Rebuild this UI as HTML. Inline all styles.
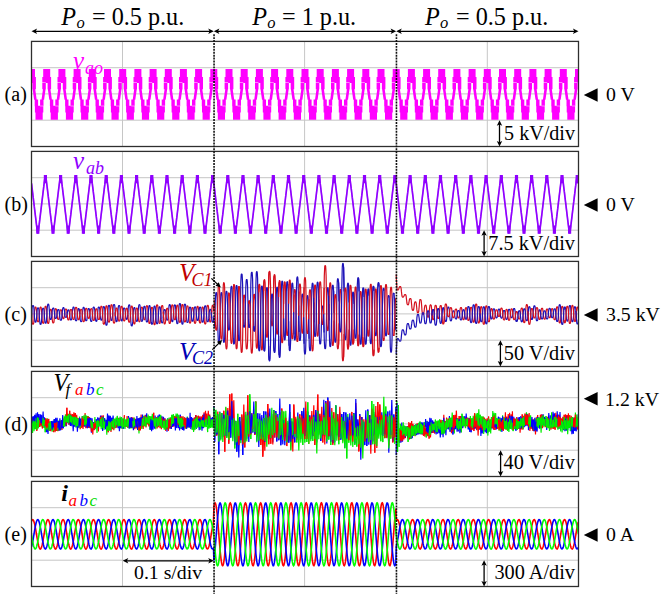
<!DOCTYPE html>
<html><head><meta charset="utf-8"><style>
html,body{margin:0;padding:0;background:#fff;}
body{width:667px;height:594px;overflow:hidden;}
svg{display:block;}
text{font-family:"Liberation Serif",serif;}
.it{font-style:italic;}
</style></head><body>
<svg width="667" height="594" viewBox="0 0 667 594">
<rect width="667" height="594" fill="#fff"/>
<defs><filter id="bl" x="-2%" y="-20%" width="104%" height="140%"><feGaussianBlur stdDeviation="0.35"/></filter><clipPath id="pc"><rect x="31.5" y="0" width="547" height="594"/></clipPath></defs>
<g clip-path="url(#pc)">
<path d="M31.5 67.7H578.5M31.5 93.9H578.5M31.5 120.2H578.5M122.5 41.4V146.5M304.6 41.4V146.5M487.3 41.4V146.5M31.5 177.7H578.5M31.5 203.9H578.5M31.5 230.2H578.5M122.5 151.4V256.5M304.6 151.4V256.5M487.3 151.4V256.5M31.5 287.7H578.5M31.5 313.9H578.5M31.5 340.2H578.5M122.5 261.4V366.5M304.6 261.4V366.5M487.3 261.4V366.5M31.5 397.7H578.5M31.5 423.9H578.5M31.5 450.2H578.5M122.5 371.4V476.5M304.6 371.4V476.5M487.3 371.4V476.5M31.5 507.7H578.5M31.5 533.9H578.5M31.5 560.2H578.5M122.5 481.4V586.5M304.6 481.4V586.5M487.3 481.4V586.5" stroke="#c6c6c6" stroke-width="1" fill="none"/>
<path d="M23.5 105.8H28.1V112.5H23.5ZM23.5 112H27.5V119.7H23.5ZM17.2 82.5L20.7 82.5L20.7 89.3L17.2 89.3ZM17.4 88.9L20 88.9L21.5 99.8L18.9 99.8ZM19.5 99.4L22.9 99.4L22.9 106.2L19.5 106.2ZM15.4 82.5L11.9 82.5L11.9 89.3L15.4 89.3ZM15.2 88.9L12.6 88.9L11.1 99.8L13.7 99.8ZM13.1 99.4L9.7 99.4L9.7 106.2L13.1 106.2ZM28 69H35V77.5H28ZM27.1 77H35.9V83H27.1ZM34.9 105.8H43.3V112.5H34.9ZM35.5 112H42.7V119.7H35.5ZM32.4 82.5L35.9 82.5L35.9 89.3L32.4 89.3ZM32.6 88.9L35.2 88.9L36.7 99.8L34.1 99.8ZM34.7 99.4L38.1 99.4L38.1 106.2L34.7 106.2ZM30.6 82.5L27.1 82.5L27.1 89.3L30.6 89.3ZM30.4 88.9L27.8 88.9L26.3 99.8L28.9 99.8ZM28.3 99.4L24.9 99.4L24.9 106.2L28.3 106.2ZM43.2 69H50.2V77.5H43.2ZM42.3 77H51.1V83H42.3ZM50.1 105.8H58.5V112.5H50.1ZM50.7 112H57.9V119.7H50.7ZM47.6 82.5L51.1 82.5L51.1 89.3L47.6 89.3ZM47.8 88.9L50.4 88.9L51.9 99.8L49.3 99.8ZM49.9 99.4L53.3 99.4L53.3 106.2L49.9 106.2ZM45.8 82.5L42.3 82.5L42.3 89.3L45.8 89.3ZM45.6 88.9L43 88.9L41.5 99.8L44.1 99.8ZM43.5 99.4L40.1 99.4L40.1 106.2L43.5 106.2ZM58.4 69H65.4V77.5H58.4ZM57.5 77H66.3V83H57.5ZM65.3 105.8H73.7V112.5H65.3ZM65.9 112H73.1V119.7H65.9ZM62.8 82.5L66.3 82.5L66.3 89.3L62.8 89.3ZM63 88.9L65.6 88.9L67.1 99.8L64.5 99.8ZM65.1 99.4L68.5 99.4L68.5 106.2L65.1 106.2ZM61 82.5L57.5 82.5L57.5 89.3L61 89.3ZM60.8 88.9L58.2 88.9L56.7 99.8L59.3 99.8ZM58.7 99.4L55.3 99.4L55.3 106.2L58.7 106.2ZM73.6 69H80.6V77.5H73.6ZM72.7 77H81.5V83H72.7ZM80.5 105.8H88.9V112.5H80.5ZM81.1 112H88.3V119.7H81.1ZM78 82.5L81.5 82.5L81.5 89.3L78 89.3ZM78.2 88.9L80.8 88.9L82.3 99.8L79.7 99.8ZM80.3 99.4L83.7 99.4L83.7 106.2L80.3 106.2ZM76.2 82.5L72.7 82.5L72.7 89.3L76.2 89.3ZM76 88.9L73.4 88.9L71.9 99.8L74.5 99.8ZM73.9 99.4L70.5 99.4L70.5 106.2L73.9 106.2ZM88.8 69H95.8V77.5H88.8ZM87.9 77H96.7V83H87.9ZM95.7 105.8H104.1V112.5H95.7ZM96.3 112H103.5V119.7H96.3ZM93.2 82.5L96.7 82.5L96.7 89.3L93.2 89.3ZM93.4 88.9L96 88.9L97.5 99.8L94.9 99.8ZM95.5 99.4L98.9 99.4L98.9 106.2L95.5 106.2ZM91.4 82.5L87.9 82.5L87.9 89.3L91.4 89.3ZM91.2 88.9L88.6 88.9L87.1 99.8L89.7 99.8ZM89.1 99.4L85.7 99.4L85.7 106.2L89.1 106.2ZM104 69H111V77.5H104ZM103.1 77H111.9V83H103.1ZM110.9 105.8H119.3V112.5H110.9ZM111.5 112H118.7V119.7H111.5ZM108.4 82.5L111.9 82.5L111.9 89.3L108.4 89.3ZM108.6 88.9L111.2 88.9L112.7 99.8L110.1 99.8ZM110.7 99.4L114.1 99.4L114.1 106.2L110.7 106.2ZM106.6 82.5L103.1 82.5L103.1 89.3L106.6 89.3ZM106.4 88.9L103.8 88.9L102.3 99.8L104.9 99.8ZM104.3 99.4L100.9 99.4L100.9 106.2L104.3 106.2ZM119.2 69H126.2V77.5H119.2ZM118.3 77H127.1V83H118.3ZM126.1 105.8H134.5V112.5H126.1ZM126.7 112H133.9V119.7H126.7ZM123.6 82.5L127.1 82.5L127.1 89.3L123.6 89.3ZM123.8 88.9L126.4 88.9L127.9 99.8L125.3 99.8ZM125.9 99.4L129.3 99.4L129.3 106.2L125.9 106.2ZM121.8 82.5L118.3 82.5L118.3 89.3L121.8 89.3ZM121.6 88.9L119 88.9L117.5 99.8L120.1 99.8ZM119.5 99.4L116.1 99.4L116.1 106.2L119.5 106.2ZM134.4 69H141.4V77.5H134.4ZM133.5 77H142.3V83H133.5ZM141.3 105.8H149.7V112.5H141.3ZM141.9 112H149.1V119.7H141.9ZM138.8 82.5L142.3 82.5L142.3 89.3L138.8 89.3ZM139 88.9L141.6 88.9L143.1 99.8L140.5 99.8ZM141.1 99.4L144.5 99.4L144.5 106.2L141.1 106.2ZM137 82.5L133.5 82.5L133.5 89.3L137 89.3ZM136.8 88.9L134.2 88.9L132.7 99.8L135.3 99.8ZM134.7 99.4L131.3 99.4L131.3 106.2L134.7 106.2ZM149.6 69H156.6V77.5H149.6ZM148.7 77H157.5V83H148.7ZM156.5 105.8H164.9V112.5H156.5ZM157.1 112H164.3V119.7H157.1ZM154 82.5L157.5 82.5L157.5 89.3L154 89.3ZM154.2 88.9L156.8 88.9L158.3 99.8L155.7 99.8ZM156.3 99.4L159.7 99.4L159.7 106.2L156.3 106.2ZM152.2 82.5L148.7 82.5L148.7 89.3L152.2 89.3ZM152 88.9L149.4 88.9L147.9 99.8L150.5 99.8ZM149.9 99.4L146.5 99.4L146.5 106.2L149.9 106.2ZM164.8 69H171.8V77.5H164.8ZM163.8 77H172.7V83H163.8ZM171.6 105.8H180V112.5H171.6ZM172.2 112H179.4V119.7H172.2ZM169.2 82.5L172.7 82.5L172.7 89.3L169.2 89.3ZM169.3 88.9L171.9 88.9L173.4 99.8L170.8 99.8ZM171.4 99.4L174.8 99.4L174.8 106.2L171.4 106.2ZM167.3 82.5L163.8 82.5L163.8 89.3L167.3 89.3ZM167.2 88.9L164.6 88.9L163.1 99.8L165.7 99.8ZM165.1 99.4L161.7 99.4L161.7 106.2L165.1 106.2ZM179.9 69H186.9V77.5H179.9ZM179 77H187.8V83H179ZM186.8 105.8H195.2V112.5H186.8ZM187.4 112H194.6V119.7H187.4ZM184.3 82.5L187.8 82.5L187.8 89.3L184.3 89.3ZM184.5 88.9L187.1 88.9L188.6 99.8L186 99.8ZM186.6 99.4L190 99.4L190 106.2L186.6 106.2ZM182.5 82.5L179 82.5L179 89.3L182.5 89.3ZM182.3 88.9L179.7 88.9L178.2 99.8L180.8 99.8ZM180.2 99.4L176.8 99.4L176.8 106.2L180.2 106.2ZM195.1 69H202.1V77.5H195.1ZM194.2 77H203V83H194.2ZM202 105.8H210.4V112.5H202ZM202.6 112H209.8V119.7H202.6ZM199.5 82.5L203 82.5L203 89.3L199.5 89.3ZM199.7 88.9L202.3 88.9L203.8 99.8L201.2 99.8ZM201.8 99.4L205.2 99.4L205.2 106.2L201.8 106.2ZM197.7 82.5L194.2 82.5L194.2 89.3L197.7 89.3ZM197.5 88.9L194.9 88.9L193.4 99.8L196 99.8ZM195.4 99.4L192 99.4L192 106.2L195.4 106.2ZM210.3 69H217.3V77.5H210.3ZM209.4 77H218.2V83H209.4ZM217.2 105.8H225.6V112.5H217.2ZM217.8 112H225V119.7H217.8ZM214.7 82.5L218.2 82.5L218.2 89.3L214.7 89.3ZM214.9 88.9L217.5 88.9L219 99.8L216.4 99.8ZM217 99.4L220.4 99.4L220.4 106.2L217 106.2ZM212.9 82.5L209.4 82.5L209.4 89.3L212.9 89.3ZM212.7 88.9L210.1 88.9L208.6 99.8L211.2 99.8ZM210.6 99.4L207.2 99.4L207.2 106.2L210.6 106.2ZM225.5 69H232.5V77.5H225.5ZM224.6 77H233.4V83H224.6ZM232.4 105.8H240.8V112.5H232.4ZM233 112H240.2V119.7H233ZM229.9 82.5L233.4 82.5L233.4 89.3L229.9 89.3ZM230.1 88.9L232.7 88.9L234.2 99.8L231.6 99.8ZM232.2 99.4L235.6 99.4L235.6 106.2L232.2 106.2ZM228.1 82.5L224.6 82.5L224.6 89.3L228.1 89.3ZM227.9 88.9L225.3 88.9L223.8 99.8L226.4 99.8ZM225.8 99.4L222.4 99.4L222.4 106.2L225.8 106.2ZM240.7 69H247.7V77.5H240.7ZM239.8 77H248.6V83H239.8ZM247.6 105.8H256V112.5H247.6ZM248.2 112H255.4V119.7H248.2ZM245.1 82.5L248.6 82.5L248.6 89.3L245.1 89.3ZM245.3 88.9L247.9 88.9L249.4 99.8L246.8 99.8ZM247.4 99.4L250.8 99.4L250.8 106.2L247.4 106.2ZM243.3 82.5L239.8 82.5L239.8 89.3L243.3 89.3ZM243.1 88.9L240.5 88.9L239 99.8L241.6 99.8ZM241 99.4L237.6 99.4L237.6 106.2L241 106.2ZM255.9 69H262.9V77.5H255.9ZM255 77H263.8V83H255ZM262.8 105.8H271.2V112.5H262.8ZM263.4 112H270.6V119.7H263.4ZM260.3 82.5L263.8 82.5L263.8 89.3L260.3 89.3ZM260.5 88.9L263.1 88.9L264.6 99.8L262 99.8ZM262.6 99.4L266 99.4L266 106.2L262.6 106.2ZM258.5 82.5L255 82.5L255 89.3L258.5 89.3ZM258.3 88.9L255.7 88.9L254.2 99.8L256.8 99.8ZM256.2 99.4L252.8 99.4L252.8 106.2L256.2 106.2ZM271.1 69H278.1V77.5H271.1ZM270.2 77H279V83H270.2ZM278 105.8H286.4V112.5H278ZM278.6 112H285.8V119.7H278.6ZM275.5 82.5L279 82.5L279 89.3L275.5 89.3ZM275.7 88.9L278.3 88.9L279.8 99.8L277.2 99.8ZM277.8 99.4L281.2 99.4L281.2 106.2L277.8 106.2ZM273.7 82.5L270.2 82.5L270.2 89.3L273.7 89.3ZM273.5 88.9L270.9 88.9L269.4 99.8L272 99.8ZM271.4 99.4L268 99.4L268 106.2L271.4 106.2ZM286.3 69H293.3V77.5H286.3ZM285.4 77H294.2V83H285.4ZM293.2 105.8H301.6V112.5H293.2ZM293.8 112H301V119.7H293.8ZM290.7 82.5L294.2 82.5L294.2 89.3L290.7 89.3ZM290.9 88.9L293.5 88.9L295 99.8L292.4 99.8ZM293 99.4L296.4 99.4L296.4 106.2L293 106.2ZM288.9 82.5L285.4 82.5L285.4 89.3L288.9 89.3ZM288.7 88.9L286.1 88.9L284.6 99.8L287.2 99.8ZM286.6 99.4L283.2 99.4L283.2 106.2L286.6 106.2ZM301.5 69H308.5V77.5H301.5ZM300.6 77H309.4V83H300.6ZM308.4 105.8H316.8V112.5H308.4ZM309 112H316.2V119.7H309ZM305.9 82.5L309.4 82.5L309.4 89.3L305.9 89.3ZM306.1 88.9L308.7 88.9L310.2 99.8L307.6 99.8ZM308.2 99.4L311.6 99.4L311.6 106.2L308.2 106.2ZM304.1 82.5L300.6 82.5L300.6 89.3L304.1 89.3ZM303.9 88.9L301.3 88.9L299.8 99.8L302.4 99.8ZM301.8 99.4L298.4 99.4L298.4 106.2L301.8 106.2ZM316.7 69H323.7V77.5H316.7ZM315.8 77H324.6V83H315.8ZM323.6 105.8H332V112.5H323.6ZM324.2 112H331.4V119.7H324.2ZM321.1 82.5L324.6 82.5L324.6 89.3L321.1 89.3ZM321.3 88.9L323.9 88.9L325.4 99.8L322.8 99.8ZM323.4 99.4L326.8 99.4L326.8 106.2L323.4 106.2ZM319.3 82.5L315.8 82.5L315.8 89.3L319.3 89.3ZM319.1 88.9L316.5 88.9L315 99.8L317.6 99.8ZM317 99.4L313.6 99.4L313.6 106.2L317 106.2ZM331.9 69H338.9V77.5H331.9ZM331 77H339.8V83H331ZM338.8 105.8H347.2V112.5H338.8ZM339.4 112H346.6V119.7H339.4ZM336.3 82.5L339.8 82.5L339.8 89.3L336.3 89.3ZM336.5 88.9L339.1 88.9L340.6 99.8L338 99.8ZM338.6 99.4L342 99.4L342 106.2L338.6 106.2ZM334.5 82.5L331 82.5L331 89.3L334.5 89.3ZM334.3 88.9L331.7 88.9L330.2 99.8L332.8 99.8ZM332.2 99.4L328.8 99.4L328.8 106.2L332.2 106.2ZM347.1 69H354.1V77.5H347.1ZM346.2 77H355V83H346.2ZM354 105.8H362.4V112.5H354ZM354.6 112H361.8V119.7H354.6ZM351.5 82.5L355 82.5L355 89.3L351.5 89.3ZM351.7 88.9L354.3 88.9L355.8 99.8L353.2 99.8ZM353.8 99.4L357.2 99.4L357.2 106.2L353.8 106.2ZM349.7 82.5L346.2 82.5L346.2 89.3L349.7 89.3ZM349.5 88.9L346.9 88.9L345.4 99.8L348 99.8ZM347.4 99.4L344 99.4L344 106.2L347.4 106.2ZM362.3 69H369.3V77.5H362.3ZM361.4 77H370.2V83H361.4ZM369.2 105.8H377.6V112.5H369.2ZM369.8 112H377V119.7H369.8ZM366.7 82.5L370.2 82.5L370.2 89.3L366.7 89.3ZM366.9 88.9L369.5 88.9L371 99.8L368.4 99.8ZM369 99.4L372.4 99.4L372.4 106.2L369 106.2ZM364.9 82.5L361.4 82.5L361.4 89.3L364.9 89.3ZM364.7 88.9L362.1 88.9L360.6 99.8L363.2 99.8ZM362.6 99.4L359.2 99.4L359.2 106.2L362.6 106.2ZM377.5 69H384.5V77.5H377.5ZM376.6 77H385.4V83H376.6ZM384.4 105.8H392.8V112.5H384.4ZM385 112H392.2V119.7H385ZM381.9 82.5L385.4 82.5L385.4 89.3L381.9 89.3ZM382.1 88.9L384.7 88.9L386.2 99.8L383.6 99.8ZM384.2 99.4L387.6 99.4L387.6 106.2L384.2 106.2ZM380.1 82.5L376.6 82.5L376.6 89.3L380.1 89.3ZM379.9 88.9L377.3 88.9L375.8 99.8L378.4 99.8ZM377.8 99.4L374.4 99.4L374.4 106.2L377.8 106.2ZM392.7 69H399.7V77.5H392.7ZM391.8 77H400.6V83H391.8ZM399.6 105.8H408V112.5H399.6ZM400.2 112H407.4V119.7H400.2ZM397.1 82.5L400.6 82.5L400.6 89.3L397.1 89.3ZM397.3 88.9L399.9 88.9L401.4 99.8L398.8 99.8ZM399.4 99.4L402.8 99.4L402.8 106.2L399.4 106.2ZM395.3 82.5L391.8 82.5L391.8 89.3L395.3 89.3ZM395.1 88.9L392.5 88.9L391 99.8L393.6 99.8ZM393 99.4L389.6 99.4L389.6 106.2L393 106.2ZM407.9 69H414.9V77.5H407.9ZM407 77H415.8V83H407ZM414.8 105.8H423.2V112.5H414.8ZM415.4 112H422.6V119.7H415.4ZM412.3 82.5L415.8 82.5L415.8 89.3L412.3 89.3ZM412.5 88.9L415.1 88.9L416.6 99.8L414 99.8ZM414.6 99.4L418 99.4L418 106.2L414.6 106.2ZM410.5 82.5L407 82.5L407 89.3L410.5 89.3ZM410.3 88.9L407.7 88.9L406.2 99.8L408.8 99.8ZM408.2 99.4L404.8 99.4L404.8 106.2L408.2 106.2ZM423.1 69H430.1V77.5H423.1ZM422.2 77H431V83H422.2ZM430 105.8H438.4V112.5H430ZM430.6 112H437.8V119.7H430.6ZM427.5 82.5L431 82.5L431 89.3L427.5 89.3ZM427.7 88.9L430.3 88.9L431.8 99.8L429.2 99.8ZM429.8 99.4L433.2 99.4L433.2 106.2L429.8 106.2ZM425.7 82.5L422.2 82.5L422.2 89.3L425.7 89.3ZM425.5 88.9L422.9 88.9L421.4 99.8L424 99.8ZM423.4 99.4L420 99.4L420 106.2L423.4 106.2ZM438.2 69H445.2V77.5H438.2ZM437.4 77H446.1V83H437.4ZM445.1 105.8H453.5V112.5H445.1ZM445.7 112H452.9V119.7H445.7ZM442.6 82.5L446.1 82.5L446.1 89.3L442.6 89.3ZM442.9 88.9L445.4 88.9L446.9 99.8L444.4 99.8ZM444.9 99.4L448.4 99.4L448.4 106.2L444.9 106.2ZM440.9 82.5L437.4 82.5L437.4 89.3L440.9 89.3ZM440.6 88.9L438.1 88.9L436.6 99.8L439.1 99.8ZM438.6 99.4L435.1 99.4L435.1 106.2L438.6 106.2ZM453.4 69H460.4V77.5H453.4ZM452.5 77H461.3V83H452.5ZM460.3 105.8H468.7V112.5H460.3ZM460.9 112H468.1V119.7H460.9ZM457.8 82.5L461.3 82.5L461.3 89.3L457.8 89.3ZM458 88.9L460.6 88.9L462.1 99.8L459.5 99.8ZM460.1 99.4L463.5 99.4L463.5 106.2L460.1 106.2ZM456 82.5L452.5 82.5L452.5 89.3L456 89.3ZM455.8 88.9L453.2 88.9L451.7 99.8L454.3 99.8ZM453.7 99.4L450.3 99.4L450.3 106.2L453.7 106.2ZM468.6 69H475.6V77.5H468.6ZM467.7 77H476.5V83H467.7ZM475.5 105.8H483.9V112.5H475.5ZM476.1 112H483.3V119.7H476.1ZM473 82.5L476.5 82.5L476.5 89.3L473 89.3ZM473.2 88.9L475.8 88.9L477.3 99.8L474.7 99.8ZM475.3 99.4L478.7 99.4L478.7 106.2L475.3 106.2ZM471.2 82.5L467.7 82.5L467.7 89.3L471.2 89.3ZM471 88.9L468.4 88.9L466.9 99.8L469.5 99.8ZM468.9 99.4L465.5 99.4L465.5 106.2L468.9 106.2ZM483.8 69H490.8V77.5H483.8ZM482.9 77H491.7V83H482.9ZM490.7 105.8H499.1V112.5H490.7ZM491.3 112H498.5V119.7H491.3ZM488.2 82.5L491.7 82.5L491.7 89.3L488.2 89.3ZM488.4 88.9L491 88.9L492.5 99.8L489.9 99.8ZM490.5 99.4L493.9 99.4L493.9 106.2L490.5 106.2ZM486.4 82.5L482.9 82.5L482.9 89.3L486.4 89.3ZM486.2 88.9L483.6 88.9L482.1 99.8L484.7 99.8ZM484.1 99.4L480.7 99.4L480.7 106.2L484.1 106.2ZM499 69H506V77.5H499ZM498.1 77H506.9V83H498.1ZM505.9 105.8H514.3V112.5H505.9ZM506.5 112H513.7V119.7H506.5ZM503.4 82.5L506.9 82.5L506.9 89.3L503.4 89.3ZM503.6 88.9L506.2 88.9L507.7 99.8L505.1 99.8ZM505.7 99.4L509.1 99.4L509.1 106.2L505.7 106.2ZM501.6 82.5L498.1 82.5L498.1 89.3L501.6 89.3ZM501.4 88.9L498.8 88.9L497.3 99.8L499.9 99.8ZM499.3 99.4L495.9 99.4L495.9 106.2L499.3 106.2ZM514.2 69H521.2V77.5H514.2ZM513.3 77H522.1V83H513.3ZM521.1 105.8H529.5V112.5H521.1ZM521.7 112H528.9V119.7H521.7ZM518.6 82.5L522.1 82.5L522.1 89.3L518.6 89.3ZM518.8 88.9L521.4 88.9L522.9 99.8L520.3 99.8ZM520.9 99.4L524.3 99.4L524.3 106.2L520.9 106.2ZM516.8 82.5L513.3 82.5L513.3 89.3L516.8 89.3ZM516.6 88.9L514 88.9L512.5 99.8L515.1 99.8ZM514.5 99.4L511.1 99.4L511.1 106.2L514.5 106.2ZM529.4 69H536.4V77.5H529.4ZM528.5 77H537.3V83H528.5ZM536.3 105.8H544.7V112.5H536.3ZM536.9 112H544.1V119.7H536.9ZM533.8 82.5L537.3 82.5L537.3 89.3L533.8 89.3ZM534 88.9L536.6 88.9L538.1 99.8L535.5 99.8ZM536.1 99.4L539.5 99.4L539.5 106.2L536.1 106.2ZM532 82.5L528.5 82.5L528.5 89.3L532 89.3ZM531.8 88.9L529.2 88.9L527.7 99.8L530.3 99.8ZM529.7 99.4L526.3 99.4L526.3 106.2L529.7 106.2ZM544.6 69H551.6V77.5H544.6ZM543.7 77H552.5V83H543.7ZM551.5 105.8H559.9V112.5H551.5ZM552.1 112H559.3V119.7H552.1ZM549 82.5L552.5 82.5L552.5 89.3L549 89.3ZM549.2 88.9L551.8 88.9L553.3 99.8L550.7 99.8ZM551.3 99.4L554.7 99.4L554.7 106.2L551.3 106.2ZM547.2 82.5L543.7 82.5L543.7 89.3L547.2 89.3ZM547 88.9L544.4 88.9L542.9 99.8L545.5 99.8ZM544.9 99.4L541.5 99.4L541.5 106.2L544.9 106.2ZM559.8 69H566.8V77.5H559.8ZM558.9 77H567.7V83H558.9ZM566.7 105.8H575.1V112.5H566.7ZM567.3 112H574.5V119.7H567.3ZM564.2 82.5L567.7 82.5L567.7 89.3L564.2 89.3ZM564.4 88.9L567 88.9L568.5 99.8L565.9 99.8ZM566.5 99.4L569.9 99.4L569.9 106.2L566.5 106.2ZM562.4 82.5L558.9 82.5L558.9 89.3L562.4 89.3ZM562.2 88.9L559.6 88.9L558.1 99.8L560.7 99.8ZM560.1 99.4L556.7 99.4L556.7 106.2L560.1 106.2ZM575 69H582V77.5H575ZM574.1 77H582.9V83H574.1ZM581.9 105.8H586.5V112.5H581.9ZM582.5 112H586.5V119.7H582.5ZM579.4 82.5L582.9 82.5L582.9 89.3L579.4 89.3ZM579.6 88.9L582.2 88.9L583.7 99.8L581.1 99.8ZM581.7 99.4L585.1 99.4L585.1 106.2L581.7 106.2ZM577.6 82.5L574.1 82.5L574.1 89.3L577.6 89.3ZM577.4 88.9L574.8 88.9L573.3 99.8L575.9 99.8ZM575.3 99.4L571.9 99.4L571.9 106.2L575.3 106.2ZM594.6 82.5L598.1 82.5L598.1 89.3L594.6 89.3ZM594.8 88.9L597.4 88.9L598.9 99.8L596.3 99.8ZM596.9 99.4L600.3 99.4L600.3 106.2L596.9 106.2ZM592.8 82.5L589.3 82.5L589.3 89.3L592.8 89.3ZM592.6 88.9L590 88.9L588.5 99.8L591.1 99.8ZM590.5 99.4L587.1 99.4L587.1 106.2L590.5 106.2Z" fill="#ff00ff" filter="url(#bl)"/>
<path d="M31.5,183.5L31.8,185.5 32,187.5 32.2,189.6 32.5,191.6 32.8,193.7 33,195.8 33.2,197.9 33.5,199.9 33.8,202 34,204.1 34.2,206.2 34.5,208.3 34.8,210.4 35,212.4 35.2,214.5 35.5,216.6 35.8,218.7 36,220.7 36.2,222.8 36.5,224.8 36.8,226.8 37,228.7 37.2,230.5 37.5,232 37.8,232.9 38,232.7 38.2,231.5 38.5,229.8 38.8,228 39,226 39.2,224 39.5,222 39.8,219.9 40,217.9 40.2,215.8 40.5,213.7 40.8,211.6 41,209.6 41.2,207.5 41.5,205.4 41.8,203.3 42,201.2 42.2,199.1 42.5,197.1 42.8,195 43,192.9 43.2,190.8 43.5,188.8 43.8,186.7 44,184.7 44.2,182.7 44.5,180.8 44.8,178.9 45,177.2 45.2,176 45.5,175.8 45.8,176.7 46,178.2 46.2,180 46.5,181.9 46.8,183.9 47,185.9 47.2,188 47.5,190 47.8,192.1 48,194.2 48.2,196.2 48.5,198.3 48.8,200.4 49,202.5 49.2,204.6 49.5,206.7 49.8,208.7 50,210.8 50.2,212.9 50.5,215 50.8,217 51,219.1 51.2,221.2 51.5,223.2 51.8,225.2 52,227.2 52.2,229.1 52.5,230.9 52.8,232.3 53,232.9 53.2,232.5 53.5,231.1 53.8,229.4 54,227.5 54.2,225.6 54.5,223.6 54.8,221.5 55,219.5 55.2,217.4 55.5,215.3 55.8,213.3 56,211.2 56.2,209.1 56.5,207 56.8,204.9 57,202.9 57.2,200.8 57.5,198.7 57.8,196.6 58,194.5 58.2,192.5 58.5,190.4 58.8,188.3 59,186.3 59.2,184.3 59.5,182.3 59.8,180.3 60,178.5 60.2,176.9 60.5,175.9 60.8,175.9 61,177 61.2,178.6 61.5,180.4 61.8,182.4 62,184.4 62.2,186.4 62.5,188.4 62.8,190.5 63,192.6 63.2,194.6 63.5,196.7 63.8,198.8 64,200.9 64.2,203 64.5,205 64.8,207.1 65,209.2 65.2,211.3 65.5,213.4 65.8,215.4 66,217.5 66.2,219.6 66.5,221.6 66.8,223.7 67,225.7 67.2,227.6 67.5,229.5 67.8,231.2 68,232.5 68.2,232.9 68.5,232.2 68.8,230.8 69,229 69.2,227.1 69.5,225.1 69.8,223.1 70,221.1 70.2,219 70.5,216.9 70.8,214.9 71,212.8 71.2,210.7 71.5,208.6 71.8,206.6 72,204.5 72.2,202.4 72.5,200.3 72.8,198.2 73,196.1 73.2,194.1 73.5,192 73.8,189.9 74,187.9 74.2,185.8 74.5,183.8 74.8,181.8 75,179.9 75.2,178.1 75.5,176.6 75.8,175.8 76,176.1 76.2,177.3 76.5,179 76.8,180.8 77,182.8 77.2,184.8 77.5,186.8 77.8,188.9 78,190.9 78.2,193 78.5,195.1 78.8,197.2 79,199.3 79.2,201.3 79.5,203.4 79.8,205.5 80,207.6 80.2,209.7 80.5,211.7 80.8,213.8 81,215.9 81.2,218 81.5,220 81.8,222.1 82,224.1 82.2,226.1 82.5,228.1 82.8,229.9 83,231.5 83.2,232.7 83.5,232.9 83.8,231.9 84,230.4 84.2,228.6 84.5,226.7 84.8,224.7 85,222.7 85.2,220.6 85.5,218.6 85.8,216.5 86,214.4 86.2,212.3 86.5,210.3 86.8,208.2 87,206.1 87.2,204 87.5,201.9 87.8,199.8 88,197.8 88.2,195.7 88.5,193.6 88.8,191.5 89,189.5 89.2,187.4 89.5,185.4 89.8,183.4 90,181.4 90.2,179.5 90.5,177.8 90.8,176.4 91,175.8 91.2,176.3 91.5,177.7 91.8,179.4 92,181.3 92.2,183.2 92.5,185.3 92.8,187.3 93,189.3 93.2,191.4 93.5,193.5 93.8,195.6 94,197.6 94.2,199.7 94.5,201.8 94.8,203.9 95,206 95.2,208 95.5,210.1 95.8,212.2 96,214.3 96.2,216.4 96.5,218.4 96.8,220.5 97,222.5 97.2,224.6 97.5,226.5 97.8,228.5 98,230.3 98.2,231.9 98.5,232.8 98.8,232.7 99,231.6 99.2,230 99.5,228.2 99.8,226.2 100,224.2 100.2,222.2 100.5,220.2 100.8,218.1 101,216 101.2,214 101.5,211.9 101.8,209.8 102,207.7 102.2,205.6 102.5,203.5 102.8,201.5 103,199.4 103.2,197.3 103.5,195.2 103.8,193.1 104,191.1 104.2,189 104.5,187 104.8,184.9 105,182.9 105.2,181 105.5,179.1 105.8,177.4 106,176.1 106.2,175.8 106.5,176.5 106.8,178 107,179.8 107.2,181.7 107.5,183.7 107.8,185.7 108,187.7 108.2,189.8 108.5,191.9 108.8,193.9 109,196 109.2,198.1 109.5,200.2 109.8,202.3 110,204.3 110.2,206.4 110.5,208.5 110.8,210.6 111,212.7 111.2,214.7 111.5,216.8 111.8,218.9 112,220.9 112.2,223 112.5,225 112.8,227 113,228.9 113.2,230.7 113.5,232.1 113.8,232.9 114,232.6 114.2,231.3 114.5,229.6 114.8,227.7 115,225.8 115.2,223.8 115.5,221.7 115.8,219.7 116,217.6 116.2,215.6 116.5,213.5 116.8,211.4 117,209.3 117.2,207.3 117.5,205.2 117.8,203.1 118,201 118.2,198.9 118.5,196.8 118.8,194.8 119,192.7 119.2,190.6 119.5,188.6 119.8,186.5 120,184.5 120.2,182.5 120.5,180.5 120.8,178.7 121,177.1 121.2,176 121.5,175.9 121.8,176.8 122,178.4 122.2,180.2 122.5,182.1 122.8,184.1 123,186.2 123.2,188.2 123.5,190.3 123.8,192.3 124,194.4 124.2,196.5 124.5,198.6 124.8,200.6 125,202.7 125.2,204.8 125.5,206.9 125.8,209 126,211.1 126.2,213.1 126.5,215.2 126.8,217.3 127,219.3 127.2,221.4 127.5,223.4 127.8,225.4 128,227.4 128.2,229.3 128.5,231 128.8,232.4 129,232.9 129.2,232.3 129.5,231 129.8,229.2 130,227.3 130.2,225.3 130.5,223.3 130.8,221.3 131,219.2 131.2,217.2 131.5,215.1 131.8,213 132,211 132.2,208.9 132.5,206.8 132.8,204.7 133,202.6 133.2,200.5 133.5,198.5 133.8,196.4 134,194.3 134.2,192.2 134.5,190.2 134.8,188.1 135,186.1 135.2,184 135.5,182 135.8,180.1 136,178.3 136.2,176.8 136.5,175.8 136.8,176 137,177.1 137.2,178.8 137.5,180.6 137.8,182.6 138,184.6 138.2,186.6 138.5,188.7 138.8,190.7 139,192.8 139.2,194.9 139.5,196.9 139.8,199 140,201.1 140.2,203.2 140.5,205.3 140.8,207.4 141,209.4 141.2,211.5 141.5,213.6 141.8,215.7 142,217.7 142.2,219.8 142.5,221.8 142.8,223.9 143,225.9 143.2,227.8 143.5,229.7 143.8,231.4 144,232.6 144.2,232.9 144.5,232.1 144.8,230.6 145,228.8 145.2,226.9 145.5,224.9 145.8,222.9 146,220.8 146.2,218.8 146.5,216.7 146.8,214.6 147,212.6 147.2,210.5 147.5,208.4 147.8,206.3 148,204.2 148.2,202.2 148.5,200.1 148.8,198 149,195.9 149.2,193.8 149.5,191.8 149.8,189.7 150,187.6 150.2,185.6 150.5,183.6 150.8,181.6 151,179.7 151.2,177.9 151.5,176.5 151.8,175.8 152,176.2 152.2,177.5 152.5,179.2 152.8,181.1 153,183 153.2,185 153.5,187.1 153.8,189.1 154,191.2 154.2,193.2 154.5,195.3 154.8,197.4 155,199.5 155.2,201.6 155.5,203.6 155.8,205.7 156,207.8 156.2,209.9 156.5,212 156.8,214.1 157,216.1 157.2,218.2 157.5,220.3 157.8,222.3 158,224.3 158.2,226.3 158.5,228.3 158.8,230.1 159,231.7 159.2,232.8 159.5,232.8 159.8,231.8 160,230.2 160.2,228.4 160.5,226.4 160.8,224.5 161,222.4 161.2,220.4 161.5,218.3 161.8,216.3 162,214.2 162.2,212.1 162.5,210 162.8,207.9 163,205.9 163.2,203.8 163.5,201.7 163.8,199.6 164,197.5 164.2,195.5 164.5,193.4 164.8,191.3 165,189.2 165.2,187.2 165.5,185.2 165.8,183.1 166,181.2 166.2,179.3 166.5,177.6 166.8,176.2 167,175.8 167.2,176.4 167.5,177.8 167.8,179.6 168,181.5 168.2,183.5 168.5,185.5 168.8,187.5 169,189.6 169.2,191.6 169.5,193.7 169.8,195.8 170,197.9 170.2,199.9 170.5,202 170.8,204.1 171,206.2 171.2,208.3 171.5,210.4 171.8,212.4 172,214.5 172.2,216.6 172.5,218.7 172.8,220.7 173,222.8 173.2,224.8 173.5,226.8 173.8,228.7 174,230.5 174.2,232 174.5,232.9 174.8,232.7 175,231.5 175.2,229.8 175.5,228 175.8,226 176,224 176.2,222 176.5,219.9 176.8,217.9 177,215.8 177.2,213.7 177.5,211.6 177.8,209.6 178,207.5 178.2,205.4 178.5,203.3 178.8,201.2 179,199.1 179.2,197.1 179.5,195 179.8,192.9 180,190.8 180.2,188.8 180.5,186.7 180.8,184.7 181,182.7 181.2,180.8 181.5,178.9 181.8,177.2 182,176 182.2,175.8 182.5,176.7 182.8,178.2 183,180 183.2,181.9 183.5,183.9 183.8,185.9 184,188 184.2,190 184.5,192.1 184.8,194.2 185,196.2 185.2,198.3 185.5,200.4 185.8,202.5 186,204.6 186.2,206.7 186.5,208.7 186.8,210.8 187,212.9 187.2,215 187.5,217 187.8,219.1 188,221.2 188.2,223.2 188.5,225.2 188.8,227.2 189,229.1 189.2,230.9 189.5,232.3 189.8,232.9 190,232.5 190.2,231.1 190.5,229.4 190.8,227.5 191,225.6 191.2,223.6 191.5,221.5 191.8,219.5 192,217.4 192.2,215.3 192.5,213.3 192.8,211.2 193,209.1 193.2,207 193.5,204.9 193.8,202.9 194,200.8 194.2,198.7 194.5,196.6 194.8,194.5 195,192.5 195.2,190.4 195.5,188.3 195.8,186.3 196,184.3 196.2,182.3 196.5,180.3 196.8,178.5 197,176.9 197.2,175.9 197.5,175.9 197.8,177 198,178.6 198.2,180.4 198.5,182.4 198.8,184.4 199,186.4 199.2,188.4 199.5,190.5 199.8,192.6 200,194.6 200.2,196.7 200.5,198.8 200.8,200.9 201,203 201.2,205 201.5,207.1 201.8,209.2 202,211.3 202.2,213.4 202.5,215.4 202.8,217.5 203,219.6 203.2,221.6 203.5,223.7 203.8,225.7 204,227.6 204.2,229.5 204.5,231.2 204.8,232.5 205,232.9 205.2,232.2 205.5,230.8 205.8,229 206,227.1 206.2,225.1 206.5,223.1 206.8,221.1 207,219 207.2,216.9 207.5,214.9 207.8,212.8 208,210.7 208.2,208.6 208.5,206.6 208.8,204.5 209,202.4 209.2,200.3 209.5,198.2 209.8,196.1 210,194.1 210.2,192 210.5,189.9 210.8,187.9 211,185.8 211.2,183.8 211.5,181.8 211.8,179.9 212,178.1 212.2,176.6 212.5,175.8 212.8,176.1 213,177.3 213.2,179 213.5,180.8 213.8,182.8 214,184.8 214.2,186.8 214.5,188.9 214.8,190.9 215,193 215.2,195.1 215.5,197.2 215.8,199.3 216,201.3 216.2,203.4 216.5,205.5 216.8,207.6 217,209.7 217.2,211.7 217.5,213.8 217.8,215.9 218,218 218.2,220 218.5,222.1 218.8,224.1 219,226.1 219.2,228.1 219.5,229.9 219.8,231.5 220,232.7 220.2,232.9 220.5,231.9 220.8,230.4 221,228.6 221.2,226.7 221.5,224.7 221.8,222.7 222,220.6 222.2,218.6 222.5,216.5 222.8,214.4 223,212.3 223.2,210.3 223.5,208.2 223.8,206.1 224,204 224.2,201.9 224.5,199.8 224.8,197.8 225,195.7 225.2,193.6 225.5,191.5 225.8,189.5 226,187.4 226.2,185.4 226.5,183.4 226.8,181.4 227,179.5 227.2,177.8 227.5,176.4 227.8,175.8 228,176.3 228.2,177.7 228.5,179.4 228.8,181.3 229,183.2 229.2,185.3 229.5,187.3 229.8,189.3 230,191.4 230.2,193.5 230.5,195.6 230.8,197.6 231,199.7 231.2,201.8 231.5,203.9 231.8,206 232,208 232.2,210.1 232.5,212.2 232.8,214.3 233,216.4 233.2,218.4 233.5,220.5 233.8,222.5 234,224.6 234.2,226.5 234.5,228.5 234.8,230.3 235,231.9 235.2,232.8 235.5,232.7 235.8,231.6 236,230 236.2,228.2 236.5,226.2 236.8,224.2 237,222.2 237.2,220.2 237.5,218.1 237.8,216 238,214 238.2,211.9 238.5,209.8 238.8,207.7 239,205.6 239.2,203.5 239.5,201.5 239.8,199.4 240,197.3 240.2,195.2 240.5,193.1 240.8,191.1 241,189 241.2,187 241.5,184.9 241.8,182.9 242,181 242.2,179.1 242.5,177.4 242.8,176.1 243,175.8 243.2,176.5 243.5,178 243.8,179.8 244,181.7 244.2,183.7 244.5,185.7 244.8,187.7 245,189.8 245.2,191.9 245.5,193.9 245.8,196 246,198.1 246.2,200.2 246.5,202.3 246.8,204.3 247,206.4 247.2,208.5 247.5,210.6 247.8,212.7 248,214.7 248.2,216.8 248.5,218.9 248.8,220.9 249,223 249.2,225 249.5,227 249.8,228.9 250,230.7 250.2,232.1 250.5,232.9 250.8,232.6 251,231.3 251.2,229.6 251.5,227.7 251.8,225.8 252,223.8 252.2,221.7 252.5,219.7 252.8,217.6 253,215.6 253.2,213.5 253.5,211.4 253.8,209.3 254,207.3 254.2,205.2 254.5,203.1 254.8,201 255,198.9 255.2,196.8 255.5,194.8 255.8,192.7 256,190.6 256.2,188.6 256.5,186.5 256.8,184.5 257,182.5 257.2,180.5 257.5,178.7 257.8,177.1 258,176 258.2,175.9 258.5,176.8 258.8,178.4 259,180.2 259.2,182.1 259.5,184.1 259.8,186.2 260,188.2 260.2,190.3 260.5,192.3 260.8,194.4 261,196.5 261.2,198.6 261.5,200.6 261.8,202.7 262,204.8 262.2,206.9 262.5,209 262.8,211.1 263,213.1 263.2,215.2 263.5,217.3 263.8,219.3 264,221.4 264.2,223.4 264.5,225.4 264.8,227.4 265,229.3 265.2,231 265.5,232.4 265.8,232.9 266,232.3 266.2,231 266.5,229.2 266.8,227.3 267,225.3 267.2,223.3 267.5,221.3 267.8,219.2 268,217.2 268.2,215.1 268.5,213 268.8,211 269,208.9 269.2,206.8 269.5,204.7 269.8,202.6 270,200.5 270.2,198.5 270.5,196.4 270.8,194.3 271,192.2 271.2,190.2 271.5,188.1 271.8,186.1 272,184 272.2,182 272.5,180.1 272.8,178.3 273,176.8 273.2,175.8 273.5,176 273.8,177.1 274,178.8 274.2,180.6 274.5,182.6 274.8,184.6 275,186.6 275.2,188.7 275.5,190.7 275.8,192.8 276,194.9 276.2,196.9 276.5,199 276.8,201.1 277,203.2 277.2,205.3 277.5,207.4 277.8,209.4 278,211.5 278.2,213.6 278.5,215.7 278.8,217.7 279,219.8 279.2,221.8 279.5,223.9 279.8,225.9 280,227.8 280.2,229.7 280.5,231.4 280.8,232.6 281,232.9 281.2,232.1 281.5,230.6 281.8,228.8 282,226.9 282.2,224.9 282.5,222.9 282.8,220.8 283,218.8 283.2,216.7 283.5,214.6 283.8,212.6 284,210.5 284.2,208.4 284.5,206.3 284.8,204.2 285,202.2 285.2,200.1 285.5,198 285.8,195.9 286,193.8 286.2,191.8 286.5,189.7 286.8,187.6 287,185.6 287.2,183.6 287.5,181.6 287.8,179.7 288,177.9 288.2,176.5 288.5,175.8 288.8,176.2 289,177.5 289.2,179.2 289.5,181.1 289.8,183 290,185 290.2,187.1 290.5,189.1 290.8,191.2 291,193.2 291.2,195.3 291.5,197.4 291.8,199.5 292,201.6 292.2,203.6 292.5,205.7 292.8,207.8 293,209.9 293.2,212 293.5,214.1 293.8,216.1 294,218.2 294.2,220.3 294.5,222.3 294.8,224.3 295,226.3 295.2,228.3 295.5,230.1 295.8,231.7 296,232.8 296.2,232.8 296.5,231.8 296.8,230.2 297,228.4 297.2,226.4 297.5,224.5 297.8,222.4 298,220.4 298.2,218.3 298.5,216.3 298.8,214.2 299,212.1 299.2,210 299.5,207.9 299.8,205.9 300,203.8 300.2,201.7 300.5,199.6 300.8,197.5 301,195.5 301.2,193.4 301.5,191.3 301.8,189.2 302,187.2 302.2,185.2 302.5,183.1 302.8,181.2 303,179.3 303.2,177.6 303.5,176.2 303.8,175.8 304,176.4 304.2,177.8 304.5,179.6 304.8,181.5 305,183.5 305.2,185.5 305.5,187.5 305.8,189.6 306,191.6 306.2,193.7 306.5,195.8 306.8,197.9 307,199.9 307.2,202 307.5,204.1 307.8,206.2 308,208.3 308.2,210.4 308.5,212.4 308.8,214.5 309,216.6 309.2,218.7 309.5,220.7 309.8,222.8 310,224.8 310.2,226.8 310.5,228.7 310.8,230.5 311,232 311.2,232.9 311.5,232.7 311.8,231.5 312,229.8 312.2,228 312.5,226 312.8,224 313,222 313.2,219.9 313.5,217.9 313.8,215.8 314,213.7 314.2,211.6 314.5,209.6 314.8,207.5 315,205.4 315.2,203.3 315.5,201.2 315.8,199.1 316,197.1 316.2,195 316.5,192.9 316.8,190.8 317,188.8 317.2,186.7 317.5,184.7 317.8,182.7 318,180.8 318.2,178.9 318.5,177.2 318.8,176 319,175.8 319.2,176.7 319.5,178.2 319.8,180 320,181.9 320.2,183.9 320.5,185.9 320.8,188 321,190 321.2,192.1 321.5,194.2 321.8,196.2 322,198.3 322.2,200.4 322.5,202.5 322.8,204.6 323,206.7 323.2,208.7 323.5,210.8 323.8,212.9 324,215 324.2,217 324.5,219.1 324.8,221.2 325,223.2 325.2,225.2 325.5,227.2 325.8,229.1 326,230.9 326.2,232.3 326.5,232.9 326.8,232.5 327,231.1 327.2,229.4 327.5,227.5 327.8,225.6 328,223.6 328.2,221.5 328.5,219.5 328.8,217.4 329,215.3 329.2,213.3 329.5,211.2 329.8,209.1 330,207 330.2,204.9 330.5,202.9 330.8,200.8 331,198.7 331.2,196.6 331.5,194.5 331.8,192.5 332,190.4 332.2,188.3 332.5,186.3 332.8,184.3 333,182.3 333.2,180.3 333.5,178.5 333.8,176.9 334,175.9 334.2,175.9 334.5,177 334.8,178.6 335,180.4 335.2,182.4 335.5,184.4 335.8,186.4 336,188.4 336.2,190.5 336.5,192.6 336.8,194.6 337,196.7 337.2,198.8 337.5,200.9 337.8,203 338,205 338.2,207.1 338.5,209.2 338.8,211.3 339,213.4 339.2,215.4 339.5,217.5 339.8,219.6 340,221.6 340.2,223.7 340.5,225.7 340.8,227.6 341,229.5 341.2,231.2 341.5,232.5 341.8,232.9 342,232.2 342.2,230.8 342.5,229 342.8,227.1 343,225.1 343.2,223.1 343.5,221.1 343.8,219 344,216.9 344.2,214.9 344.5,212.8 344.8,210.7 345,208.6 345.2,206.6 345.5,204.5 345.8,202.4 346,200.3 346.2,198.2 346.5,196.1 346.8,194.1 347,192 347.2,189.9 347.5,187.9 347.8,185.8 348,183.8 348.2,181.8 348.5,179.9 348.8,178.1 349,176.6 349.2,175.8 349.5,176.1 349.8,177.3 350,179 350.2,180.8 350.5,182.8 350.8,184.8 351,186.8 351.2,188.9 351.5,190.9 351.8,193 352,195.1 352.2,197.2 352.5,199.3 352.8,201.3 353,203.4 353.2,205.5 353.5,207.6 353.8,209.7 354,211.7 354.2,213.8 354.5,215.9 354.8,218 355,220 355.2,222.1 355.5,224.1 355.8,226.1 356,228.1 356.2,229.9 356.5,231.5 356.8,232.7 357,232.9 357.2,231.9 357.5,230.4 357.8,228.6 358,226.7 358.2,224.7 358.5,222.7 358.8,220.6 359,218.6 359.2,216.5 359.5,214.4 359.8,212.3 360,210.3 360.2,208.2 360.5,206.1 360.8,204 361,201.9 361.2,199.8 361.5,197.8 361.8,195.7 362,193.6 362.2,191.5 362.5,189.5 362.8,187.4 363,185.4 363.2,183.4 363.5,181.4 363.8,179.5 364,177.8 364.2,176.4 364.5,175.8 364.8,176.3 365,177.7 365.2,179.4 365.5,181.3 365.8,183.2 366,185.3 366.2,187.3 366.5,189.3 366.8,191.4 367,193.5 367.2,195.6 367.5,197.6 367.8,199.7 368,201.8 368.2,203.9 368.5,206 368.8,208 369,210.1 369.2,212.2 369.5,214.3 369.8,216.4 370,218.4 370.2,220.5 370.5,222.5 370.8,224.6 371,226.5 371.2,228.5 371.5,230.3 371.8,231.9 372,232.8 372.2,232.7 372.5,231.6 372.8,230 373,228.2 373.2,226.2 373.5,224.2 373.8,222.2 374,220.2 374.2,218.1 374.5,216 374.8,214 375,211.9 375.2,209.8 375.5,207.7 375.8,205.6 376,203.5 376.2,201.5 376.5,199.4 376.8,197.3 377,195.2 377.2,193.1 377.5,191.1 377.8,189 378,187 378.2,184.9 378.5,182.9 378.8,181 379,179.1 379.2,177.4 379.5,176.1 379.8,175.8 380,176.5 380.2,178 380.5,179.8 380.8,181.7 381,183.7 381.2,185.7 381.5,187.7 381.8,189.8 382,191.9 382.2,193.9 382.5,196 382.8,198.1 383,200.2 383.2,202.3 383.5,204.3 383.8,206.4 384,208.5 384.2,210.6 384.5,212.7 384.8,214.7 385,216.8 385.2,218.9 385.5,220.9 385.8,223 386,225 386.2,227 386.5,228.9 386.8,230.7 387,232.1 387.2,232.9 387.5,232.6 387.8,231.3 388,229.6 388.2,227.7 388.5,225.8 388.8,223.8 389,221.7 389.2,219.7 389.5,217.6 389.8,215.6 390,213.5 390.2,211.4 390.5,209.3 390.8,207.3 391,205.2 391.2,203.1 391.5,201 391.8,198.9 392,196.8 392.2,194.8 392.5,192.7 392.8,190.6 393,188.6 393.2,186.5 393.5,184.5 393.8,182.5 394,180.5 394.2,178.7 394.5,177.1 394.8,176 395,175.9 395.2,176.8 395.5,178.4 395.8,180.2 396,182.1 396.2,184.1 396.5,186.2 396.8,188.2 397,190.3 397.2,192.3 397.5,194.4 397.8,196.5 398,198.6 398.2,200.6 398.5,202.7 398.8,204.8 399,206.9 399.2,209 399.5,211.1 399.8,213.1 400,215.2 400.2,217.3 400.5,219.3 400.8,221.4 401,223.4 401.2,225.4 401.5,227.4 401.8,229.3 402,231 402.2,232.4 402.5,232.9 402.8,232.3 403,231 403.2,229.2 403.5,227.3 403.8,225.3 404,223.3 404.2,221.3 404.5,219.2 404.8,217.2 405,215.1 405.2,213 405.5,211 405.8,208.9 406,206.8 406.2,204.7 406.5,202.6 406.8,200.5 407,198.5 407.2,196.4 407.5,194.3 407.8,192.2 408,190.2 408.2,188.1 408.5,186.1 408.8,184 409,182 409.2,180.1 409.5,178.3 409.8,176.8 410,175.8 410.2,176 410.5,177.1 410.8,178.8 411,180.6 411.2,182.6 411.5,184.6 411.8,186.6 412,188.7 412.2,190.7 412.5,192.8 412.8,194.9 413,196.9 413.2,199 413.5,201.1 413.8,203.2 414,205.3 414.2,207.4 414.5,209.4 414.8,211.5 415,213.6 415.2,215.7 415.5,217.7 415.8,219.8 416,221.8 416.2,223.9 416.5,225.9 416.8,227.8 417,229.7 417.2,231.4 417.5,232.6 417.8,232.9 418,232.1 418.2,230.6 418.5,228.8 418.8,226.9 419,224.9 419.2,222.9 419.5,220.8 419.8,218.8 420,216.7 420.2,214.6 420.5,212.6 420.8,210.5 421,208.4 421.2,206.3 421.5,204.2 421.8,202.2 422,200.1 422.2,198 422.5,195.9 422.8,193.8 423,191.8 423.2,189.7 423.5,187.6 423.8,185.6 424,183.6 424.2,181.6 424.5,179.7 424.8,177.9 425,176.5 425.2,175.8 425.5,176.2 425.8,177.5 426,179.2 426.2,181.1 426.5,183 426.8,185 427,187.1 427.2,189.1 427.5,191.2 427.8,193.2 428,195.3 428.2,197.4 428.5,199.5 428.8,201.6 429,203.6 429.2,205.7 429.5,207.8 429.8,209.9 430,212 430.2,214.1 430.5,216.1 430.8,218.2 431,220.3 431.2,222.3 431.5,224.3 431.8,226.3 432,228.3 432.2,230.1 432.5,231.7 432.8,232.8 433,232.8 433.2,231.8 433.5,230.2 433.8,228.4 434,226.4 434.2,224.5 434.5,222.4 434.8,220.4 435,218.3 435.2,216.3 435.5,214.2 435.8,212.1 436,210 436.2,207.9 436.5,205.9 436.8,203.8 437,201.7 437.2,199.6 437.5,197.5 437.8,195.5 438,193.4 438.2,191.3 438.5,189.2 438.8,187.2 439,185.2 439.2,183.1 439.5,181.2 439.8,179.3 440,177.6 440.2,176.2 440.5,175.8 440.8,176.4 441,177.8 441.2,179.6 441.5,181.5 441.8,183.5 442,185.5 442.2,187.5 442.5,189.6 442.8,191.6 443,193.7 443.2,195.8 443.5,197.9 443.8,199.9 444,202 444.2,204.1 444.5,206.2 444.8,208.3 445,210.4 445.2,212.4 445.5,214.5 445.8,216.6 446,218.7 446.2,220.7 446.5,222.8 446.8,224.8 447,226.8 447.2,228.7 447.5,230.5 447.8,232 448,232.9 448.2,232.7 448.5,231.5 448.8,229.8 449,228 449.2,226 449.5,224 449.8,222 450,219.9 450.2,217.9 450.5,215.8 450.8,213.7 451,211.6 451.2,209.6 451.5,207.5 451.8,205.4 452,203.3 452.2,201.2 452.5,199.1 452.8,197.1 453,195 453.2,192.9 453.5,190.8 453.8,188.8 454,186.7 454.2,184.7 454.5,182.7 454.8,180.8 455,178.9 455.2,177.2 455.5,176 455.8,175.8 456,176.7 456.2,178.2 456.5,180 456.8,181.9 457,183.9 457.2,185.9 457.5,188 457.8,190 458,192.1 458.2,194.2 458.5,196.2 458.8,198.3 459,200.4 459.2,202.5 459.5,204.6 459.8,206.7 460,208.7 460.2,210.8 460.5,212.9 460.8,215 461,217 461.2,219.1 461.5,221.2 461.8,223.2 462,225.2 462.2,227.2 462.5,229.1 462.8,230.9 463,232.3 463.2,232.9 463.5,232.5 463.8,231.1 464,229.4 464.2,227.5 464.5,225.6 464.8,223.6 465,221.5 465.2,219.5 465.5,217.4 465.8,215.3 466,213.3 466.2,211.2 466.5,209.1 466.8,207 467,204.9 467.2,202.9 467.5,200.8 467.8,198.7 468,196.6 468.2,194.5 468.5,192.5 468.8,190.4 469,188.3 469.2,186.3 469.5,184.3 469.8,182.3 470,180.3 470.2,178.5 470.5,176.9 470.8,175.9 471,175.9 471.2,177 471.5,178.6 471.8,180.4 472,182.4 472.2,184.4 472.5,186.4 472.8,188.4 473,190.5 473.2,192.6 473.5,194.6 473.8,196.7 474,198.8 474.2,200.9 474.5,203 474.8,205 475,207.1 475.2,209.2 475.5,211.3 475.8,213.4 476,215.4 476.2,217.5 476.5,219.6 476.8,221.6 477,223.7 477.2,225.7 477.5,227.6 477.8,229.5 478,231.2 478.2,232.5 478.5,232.9 478.8,232.2 479,230.8 479.2,229 479.5,227.1 479.8,225.1 480,223.1 480.2,221.1 480.5,219 480.8,216.9 481,214.9 481.2,212.8 481.5,210.7 481.8,208.6 482,206.6 482.2,204.5 482.5,202.4 482.8,200.3 483,198.2 483.2,196.1 483.5,194.1 483.8,192 484,189.9 484.2,187.9 484.5,185.8 484.8,183.8 485,181.8 485.2,179.9 485.5,178.1 485.8,176.6 486,175.8 486.2,176.1 486.5,177.3 486.8,179 487,180.8 487.2,182.8 487.5,184.8 487.8,186.8 488,188.9 488.2,190.9 488.5,193 488.8,195.1 489,197.2 489.2,199.3 489.5,201.3 489.8,203.4 490,205.5 490.2,207.6 490.5,209.7 490.8,211.7 491,213.8 491.2,215.9 491.5,218 491.8,220 492,222.1 492.2,224.1 492.5,226.1 492.8,228.1 493,229.9 493.2,231.5 493.5,232.7 493.8,232.9 494,231.9 494.2,230.4 494.5,228.6 494.8,226.7 495,224.7 495.2,222.7 495.5,220.6 495.8,218.6 496,216.5 496.2,214.4 496.5,212.3 496.8,210.3 497,208.2 497.2,206.1 497.5,204 497.8,201.9 498,199.8 498.2,197.8 498.5,195.7 498.8,193.6 499,191.5 499.2,189.5 499.5,187.4 499.8,185.4 500,183.4 500.2,181.4 500.5,179.5 500.8,177.8 501,176.4 501.2,175.8 501.5,176.3 501.8,177.7 502,179.4 502.2,181.3 502.5,183.2 502.8,185.3 503,187.3 503.2,189.3 503.5,191.4 503.8,193.5 504,195.6 504.2,197.6 504.5,199.7 504.8,201.8 505,203.9 505.2,206 505.5,208 505.8,210.1 506,212.2 506.2,214.3 506.5,216.4 506.8,218.4 507,220.5 507.2,222.5 507.5,224.6 507.8,226.5 508,228.5 508.2,230.3 508.5,231.9 508.8,232.8 509,232.7 509.2,231.6 509.5,230 509.8,228.2 510,226.2 510.2,224.2 510.5,222.2 510.8,220.2 511,218.1 511.2,216 511.5,214 511.8,211.9 512,209.8 512.2,207.7 512.5,205.6 512.8,203.5 513,201.5 513.2,199.4 513.5,197.3 513.8,195.2 514,193.1 514.2,191.1 514.5,189 514.8,187 515,184.9 515.2,182.9 515.5,181 515.8,179.1 516,177.4 516.2,176.1 516.5,175.8 516.8,176.5 517,178 517.2,179.8 517.5,181.7 517.8,183.7 518,185.7 518.2,187.7 518.5,189.8 518.8,191.9 519,193.9 519.2,196 519.5,198.1 519.8,200.2 520,202.3 520.2,204.3 520.5,206.4 520.8,208.5 521,210.6 521.2,212.7 521.5,214.7 521.8,216.8 522,218.9 522.2,220.9 522.5,223 522.8,225 523,227 523.2,228.9 523.5,230.7 523.8,232.1 524,232.9 524.2,232.6 524.5,231.3 524.8,229.6 525,227.7 525.2,225.8 525.5,223.8 525.8,221.7 526,219.7 526.2,217.6 526.5,215.6 526.8,213.5 527,211.4 527.2,209.3 527.5,207.3 527.8,205.2 528,203.1 528.2,201 528.5,198.9 528.8,196.8 529,194.8 529.2,192.7 529.5,190.6 529.8,188.6 530,186.5 530.2,184.5 530.5,182.5 530.8,180.5 531,178.7 531.2,177.1 531.5,176 531.8,175.9 532,176.8 532.2,178.4 532.5,180.2 532.8,182.1 533,184.1 533.2,186.2 533.5,188.2 533.8,190.3 534,192.3 534.2,194.4 534.5,196.5 534.8,198.6 535,200.6 535.2,202.7 535.5,204.8 535.8,206.9 536,209 536.2,211.1 536.5,213.1 536.8,215.2 537,217.3 537.2,219.3 537.5,221.4 537.8,223.4 538,225.4 538.2,227.4 538.5,229.3 538.8,231 539,232.4 539.2,232.9 539.5,232.3 539.8,231 540,229.2 540.2,227.3 540.5,225.3 540.8,223.3 541,221.3 541.2,219.2 541.5,217.2 541.8,215.1 542,213 542.2,211 542.5,208.9 542.8,206.8 543,204.7 543.2,202.6 543.5,200.5 543.8,198.5 544,196.4 544.2,194.3 544.5,192.2 544.8,190.2 545,188.1 545.2,186.1 545.5,184 545.8,182 546,180.1 546.2,178.3 546.5,176.8 546.8,175.8 547,176 547.2,177.1 547.5,178.8 547.8,180.6 548,182.6 548.2,184.6 548.5,186.6 548.8,188.7 549,190.7 549.2,192.8 549.5,194.9 549.8,196.9 550,199 550.2,201.1 550.5,203.2 550.8,205.3 551,207.4 551.2,209.4 551.5,211.5 551.8,213.6 552,215.7 552.2,217.7 552.5,219.8 552.8,221.8 553,223.9 553.2,225.9 553.5,227.8 553.8,229.7 554,231.4 554.2,232.6 554.5,232.9 554.8,232.1 555,230.6 555.2,228.8 555.5,226.9 555.8,224.9 556,222.9 556.2,220.8 556.5,218.8 556.8,216.7 557,214.6 557.2,212.6 557.5,210.5 557.8,208.4 558,206.3 558.2,204.2 558.5,202.2 558.8,200.1 559,198 559.2,195.9 559.5,193.8 559.8,191.8 560,189.7 560.2,187.6 560.5,185.6 560.8,183.6 561,181.6 561.2,179.7 561.5,177.9 561.8,176.5 562,175.8 562.2,176.2 562.5,177.5 562.8,179.2 563,181.1 563.2,183 563.5,185 563.8,187.1 564,189.1 564.2,191.2 564.5,193.2 564.8,195.3 565,197.4 565.2,199.5 565.5,201.6 565.8,203.6 566,205.7 566.2,207.8 566.5,209.9 566.8,212 567,214.1 567.2,216.1 567.5,218.2 567.8,220.3 568,222.3 568.2,224.3 568.5,226.3 568.8,228.3 569,230.1 569.2,231.7 569.5,232.8 569.8,232.8 570,231.8 570.2,230.2 570.5,228.4 570.8,226.4 571,224.5 571.2,222.4 571.5,220.4 571.8,218.3 572,216.3 572.2,214.2 572.5,212.1 572.8,210 573,207.9 573.2,205.9 573.5,203.8 573.8,201.7 574,199.6 574.2,197.5 574.5,195.5 574.8,193.4 575,191.3 575.2,189.2 575.5,187.2 575.8,185.2 576,183.1 576.2,181.2 576.5,179.3 576.8,177.6 577,176.2 577.2,175.8 577.5,176.4 577.8,177.8 578,179.6 578.2,181.5 578.5,183.5" stroke="#9000ff" stroke-width="1.75" fill="none" stroke-linejoin="round"/>
<path d="M23.5 225.4H24.2V233.8H23.5ZM28.6 174.9H31.8V183.2H28.6ZM36.2 225.4H39.4V233.8H36.2ZM43.8 174.9H47V183.2H43.8ZM51.4 225.4H54.6V233.8H51.4ZM59 174.9H62.2V183.2H59ZM66.6 225.4H69.8V233.8H66.6ZM74.2 174.9H77.4V183.2H74.2ZM81.8 225.4H85V233.8H81.8ZM89.4 174.9H92.6V183.2H89.4ZM97 225.4H100.2V233.8H97ZM104.6 174.9H107.8V183.2H104.6ZM112.2 225.4H115.4V233.8H112.2ZM119.8 174.9H123V183.2H119.8ZM127.4 225.4H130.6V233.8H127.4ZM135 174.9H138.2V183.2H135ZM142.6 225.4H145.8V233.8H142.6ZM150.2 174.9H153.4V183.2H150.2ZM157.8 225.4H161V233.8H157.8ZM165.4 174.9H168.6V183.2H165.4ZM173 225.4H176.2V233.8H173ZM180.6 174.9H183.8V183.2H180.6ZM188.2 225.4H191.4V233.8H188.2ZM195.8 174.9H199V183.2H195.8ZM203.4 225.4H206.6V233.8H203.4ZM211 174.9H214.2V183.2H211ZM218.6 225.4H221.8V233.8H218.6ZM226.2 174.9H229.4V183.2H226.2ZM233.8 225.4H237V233.8H233.8ZM241.4 174.9H244.6V183.2H241.4ZM248.9 225.4H252.1V233.8H248.9ZM256.5 174.9H259.7V183.2H256.5ZM264.1 225.4H267.3V233.8H264.1ZM271.7 174.9H274.9V183.2H271.7ZM279.3 225.4H282.5V233.8H279.3ZM286.9 174.9H290.1V183.2H286.9ZM294.5 225.4H297.7V233.8H294.5ZM302.1 174.9H305.3V183.2H302.1ZM309.7 225.4H312.9V233.8H309.7ZM317.3 174.9H320.5V183.2H317.3ZM324.9 225.4H328.1V233.8H324.9ZM332.5 174.9H335.7V183.2H332.5ZM340.1 225.4H343.3V233.8H340.1ZM347.7 174.9H350.9V183.2H347.7ZM355.3 225.4H358.5V233.8H355.3ZM362.9 174.9H366.1V183.2H362.9ZM370.5 225.4H373.7V233.8H370.5ZM378.1 174.9H381.3V183.2H378.1ZM385.7 225.4H388.9V233.8H385.7ZM393.3 174.9H396.5V183.2H393.3ZM400.9 225.4H404.1V233.8H400.9ZM408.5 174.9H411.7V183.2H408.5ZM416.1 225.4H419.3V233.8H416.1ZM423.7 174.9H426.9V183.2H423.7ZM431.3 225.4H434.5V233.8H431.3ZM438.9 174.9H442.1V183.2H438.9ZM446.5 225.4H449.7V233.8H446.5ZM454.1 174.9H457.3V183.2H454.1ZM461.7 225.4H464.9V233.8H461.7ZM469.3 174.9H472.5V183.2H469.3ZM476.9 225.4H480.1V233.8H476.9ZM484.5 174.9H487.7V183.2H484.5ZM492.1 225.4H495.3V233.8H492.1ZM499.7 174.9H502.9V183.2H499.7ZM507.3 225.4H510.5V233.8H507.3ZM514.9 174.9H518.1V183.2H514.9ZM522.4 225.4H525.6V233.8H522.4ZM530 174.9H533.2V183.2H530ZM537.6 225.4H540.8V233.8H537.6ZM545.2 174.9H548.4V183.2H545.2ZM552.8 225.4H556V233.8H552.8ZM560.4 174.9H563.6V183.2H560.4ZM568 225.4H571.2V233.8H568ZM575.6 174.9H578.8V183.2H575.6ZM583.2 225.4H586.4V233.8H583.2Z" fill="#8f00ff"/>
<path d="M31.5,309.8L31.8,314.5 32,319.1 32.2,322.3 32.5,323.8 32.8,324.2 33,324.2 33.2,324.2 33.5,323.8 33.8,322.6 34,319.8 34.2,315.9 34.5,311.9 34.8,309 35,307.5 35.2,307.1 35.5,307.1 35.8,307.1 36,307.3 36.2,308.3 36.5,310.5 36.8,313.7 37,317.2 37.2,319.9 37.5,321.3 37.8,321.7 38,321.8 38.2,321.8 38.5,321.6 38.8,320.8 39,318.7 39.2,315.6 39.5,312.1 39.8,309.3 40,307.7 40.2,307.2 40.5,307.1 40.8,307.1 41,307.2 41.2,308 41.5,310 41.8,313.4 42,317.2 42.2,320.5 42.5,322.3 42.8,323 43,323.2 43.2,323.2 43.5,323.1 43.8,322.4" stroke="#d4101c" stroke-width="1.2" fill="none" stroke-linejoin="round"/>
<path d="M31.5,318.5L31.8,314.3 32,310.2 32.2,307.3 32.5,305.9 32.8,305.5 33,305.5 33.2,305.5 33.5,305.9 33.8,307.1 34,309.8 34.2,313.5 34.5,317.4 34.8,320.2 35,321.7 35.2,322.1 35.5,322.1 35.8,322.1 36,321.9 36.2,320.9 36.5,318.8 36.8,315.7 37,312.3 37.2,309.7 37.5,308.3 37.8,307.9 38,307.9 38.2,307.9 38.5,308.1 38.8,309 39,311.2 39.2,314.8 39.5,318.7 39.8,321.8 40,323.6 40.2,324.2 40.5,324.3 40.8,324.3 41,324.1 41.2,323.3 41.5,321.3 41.8,318 42,314.2 42.2,311 42.5,309.1 42.8,308.4 43,308.3 43.2,308.3 43.5,308.4 43.8,309" stroke="#1c12b8" stroke-width="1.2" fill="none" stroke-linejoin="round"/>
<path d="M43.2,323.2L43.5,323.1 43.8,322.4 44,320.4 44.2,317.1 44.5,313.1 44.8,309.5 45,307.4 45.2,306.5 45.5,306.3 45.8,306.3 46,306.4 46.2,307 46.5,308.8 46.8,312 47,316.1 47.2,319.8 47.5,322.2 47.8,323.2 48,323.4 48.2,323.4 48.5,323.4 48.8,323 49,321.7 49.2,319.2 49.5,315.9 49.8,312.7 50,310.6 50.2,309.7 50.5,309.4 50.8,309.4 51,309.4 51.2,309.7 51.5,310.9 51.8,313.1 52,316.2 52.2,319.3 52.5,321.5 52.8,322.6 53,322.9 53.2,322.9 53.5,322.9 53.8,322.6 54,321.6 54.2,319.4 54.5,316.2 54.8,313 55,310.5 55.2,309.3 55.5,308.9 55.8,308.9" stroke="#d4101c" stroke-width="1.2" fill="none" stroke-linejoin="round"/>
<path d="M43.2,308.3L43.5,308.4 43.8,309 44,310.7 44.2,313.6 44.5,317.2 44.8,320.3 45,322.2 45.2,323 45.5,323.2 45.8,323.2 46,323.1 46.2,322.4 46.5,320.4 46.8,316.9 47,312.3 47.2,308.2 47.5,305.6 47.8,304.4 48,304.2 48.2,304.2 48.5,304.2 48.8,304.7 49,306.1 49.2,308.8 49.5,312.4 49.8,315.8 50,318.2 50.2,319.2 50.5,319.5 50.8,319.5 51,319.5 51.2,319.2 51.5,318.2 51.8,316.3 52,313.7 52.2,311.1 52.5,309.2 52.8,308.3 53,308.1 53.2,308.1 53.5,308.1 53.8,308.3 54,309 54.2,310.6 54.5,312.9 54.8,315.3 55,317.1 55.2,318 55.5,318.3 55.8,318.3" stroke="#1c12b8" stroke-width="1.2" fill="none" stroke-linejoin="round"/>
<path d="M55.2,309.3L55.5,308.9 55.8,308.9 56,308.9 56.2,309 56.5,309.7 56.8,311.2 57,313.5 57.2,316 57.5,318 57.8,319 58,319.3 58.2,319.4 58.5,319.4 58.8,319.3 59,318.7 59.2,317.5 59.5,315.4 59.8,313.1 60,311.3 60.2,310.2 60.5,309.8 60.8,309.8 61,309.8 61.2,309.8 61.5,310.3 61.8,311.3 62,313.1 62.2,315.3 62.5,317 62.8,318.1 63,318.5 63.2,318.6 63.5,318.6 63.8,318.5 64,318.2 64.2,317.1 64.5,315.2 64.8,312.9 65,310.9 65.2,309.6 65.5,309.1 65.8,309 66,309 66.2,309.1 66.5,309.4 66.8,310.5 67,312.5 67.2,315.1 67.5,317.5 67.8,319.1" stroke="#d4101c" stroke-width="1.2" fill="none" stroke-linejoin="round"/>
<path d="M55.2,318L55.5,318.3 55.8,318.3 56,318.3 56.2,318.2 56.5,317.6 56.8,316.3 57,314.4 57.2,312.3 57.5,310.7 57.8,309.8 58,309.6 58.2,309.5 58.5,309.5 58.8,309.6 59,310.2 59.2,311.7 59.5,313.9 59.8,316.5 60,318.6 60.2,319.8 60.5,320.2 60.8,320.2 61,320.2 61.2,320.1 61.5,319.6 61.8,318 62,315.4 62.2,312.4 62.5,309.9 62.8,308.3 63,307.8 63.2,307.7 63.5,307.7 63.8,307.7 64,308.1 64.2,309.2 64.5,311.1 64.8,313.4 65,315.4 65.2,316.7 65.5,317.2 65.8,317.3 66,317.3 66.2,317.3 66.5,317.1 66.8,316.3 67,314.9 67.2,313.2 67.5,311.6 67.8,310.5" stroke="#1c12b8" stroke-width="1.2" fill="none" stroke-linejoin="round"/>
<path d="M67.2,313.2L67.5,311.6 67.8,310.5 68,310 68.2,309.9 68.5,309.9 68.8,310 69,310.2 69.2,311.1 69.5,312.9 69.8,315.2 70,317.5 70.2,319 70.5,319.7 70.8,319.9 71,319.9 71.2,319.9 71.5,319.6 71.8,318.6 72,316.5 72.2,313.6 72.5,310.6 72.8,308.5 73,307.5 73.2,307.2 73.5,307.2 73.8,307.2 74,307.4 74.2,308.4 74.5,310.5 74.8,313.5 75,316.7 75.2,319.1 75.5,320.4 75.8,320.7 76,320.8 76.2,320.8 76.5,320.6 76.8,319.9 77,318.1 77.2,315.5 77.5,312.6 77.8,310.3 78,309.1 78.2,308.6 78.5,308.6 78.8,308.6 79,308.7 79.2,309.4 79.5,311.1 79.8,313.9" stroke="#1c12b8" stroke-width="1.2" fill="none" stroke-linejoin="round"/>
<path d="M67.2,315.1L67.5,317.5 67.8,319.1 68,319.8 68.2,319.9 68.5,319.9 68.8,319.9 69,319.6 69.2,318.7 69.5,316.9 69.8,314.4 70,312 70.2,310.4 70.5,309.7 70.8,309.5 71,309.5 71.2,309.5 71.5,309.7 71.8,310.5 72,312.2 72.2,314.5 72.5,316.8 72.8,318.4 73,319.2 73.2,319.4 73.5,319.5 73.8,319.5 74,319.2 74.2,318.4 74.5,316.6 74.8,313.8 75,311 75.2,308.9 75.5,307.8 75.8,307.4 76,307.4 76.2,307.4 76.5,307.6 76.8,308.3 77,310.1 77.2,312.8 77.5,315.7 77.8,318 78,319.3 78.2,319.7 78.5,319.7 78.8,319.7 79,319.6 79.2,319.1 79.5,317.7 79.8,315.6" stroke="#d4101c" stroke-width="1.2" fill="none" stroke-linejoin="round"/>
<path d="M79.2,309.4L79.5,311.1 79.8,313.9 80,317 80.2,319.5 80.5,321 80.8,321.5 81,321.6 81.2,321.6 81.5,321.5 81.8,320.9 82,319.2 82.2,316.3 82.5,312.9 82.8,310 83,308.2 83.2,307.5 83.5,307.4 83.8,307.4 84,307.5 84.2,308 84.5,309.4 84.8,312 85,315.2 85.2,318 85.5,319.8 85.8,320.6 86,320.7 86.2,320.7 86.5,320.7 86.8,320.3 87,319.1 87.2,316.9 87.5,314 87.8,311.3 88,309.6 88.2,308.8 88.5,308.6 88.8,308.6 89,308.6 89.2,308.9 89.5,310 89.8,312.2 90,315.2 90.2,318.1 90.5,320.1 90.8,321 91,321.3 91.2,321.3 91.5,321.3 91.8,321" stroke="#1c12b8" stroke-width="1.2" fill="none" stroke-linejoin="round"/>
<path d="M79.2,319.1L79.5,317.7 79.8,315.6 80,313.1 80.2,311.1 80.5,309.9 80.8,309.5 81,309.4 81.2,309.4 81.5,309.5 81.8,310 82,311.5 82.2,314 82.5,316.9 82.8,319.4 83,320.9 83.2,321.5 83.5,321.6 83.8,321.6 84,321.6 84.2,321.1 84.5,319.6 84.8,317.1 85,313.9 85.2,311.1 85.5,309.3 85.8,308.6 86,308.4 86.2,308.4 86.5,308.4 86.8,308.8 87,309.7 87.2,311.5 87.5,313.9 87.8,316.1 88,317.5 88.2,318.2 88.5,318.3 88.8,318.3 89,318.3 89.2,318.1 89.5,317.2 89.8,315.6 90,313.4 90.2,311.2 90.5,309.7 90.8,309 91,308.8 91.2,308.8 91.5,308.8 91.8,309" stroke="#d4101c" stroke-width="1.2" fill="none" stroke-linejoin="round"/>
<path d="M91.2,321.3L91.5,321.3 91.8,321 92,319.9 92.2,317.6 92.5,314.3 92.8,311 93,308.6 93.2,307.4 93.5,307.1 93.8,307.1 94,307.1 94.2,307.3 94.5,308.3 94.8,310.4 95,313.6 95.2,316.9 95.5,319.5 95.8,320.8 96,321.2 96.2,321.3 96.5,321.3 96.8,321.1 97,320.2 97.2,318.3 97.5,315.2 97.8,311.8 98,309.1 98.2,307.6 98.5,307.1 98.8,307.1 99,307.1 99.2,307.2 99.5,307.8 99.8,309.5 100,312.2 100.2,315.4 100.5,318 100.8,319.5 101,320 101.2,320.1 101.5,320.1 101.8,320 102,319.5 102.2,317.9 102.5,315.2 102.8,312 103,309.2 103.2,307.5 103.5,306.8 103.8,306.7" stroke="#1c12b8" stroke-width="1.2" fill="none" stroke-linejoin="round"/>
<path d="M91.2,308.8L91.5,308.8 91.8,309 92,309.9 92.2,311.8 92.5,314.5 92.8,317.1 93,319.1 93.2,320.1 93.5,320.4 93.8,320.4 94,320.4 94.2,320.2 94.5,319.4 94.8,317.7 95,315.1 95.2,312.4 95.5,310.3 95.8,309.2 96,308.8 96.2,308.8 96.5,308.8 96.8,308.9 97,309.6 97.2,311.1 97.5,313.4 97.8,315.9 98,318 98.2,319.1 98.5,319.5 98.8,319.5 99,319.5 99.2,319.4 99.5,318.7 99.8,317.1 100,314.3 100.2,311.1 100.5,308.5 100.8,306.9 101,306.4 101.2,306.3 101.5,306.3 101.8,306.4 102,307.2 102.2,309.2 102.5,312.8 102.8,317.1 103,320.8 103.2,323 103.5,323.9 103.8,324.1" stroke="#d4101c" stroke-width="1.2" fill="none" stroke-linejoin="round"/>
<path d="M103.2,307.5L103.5,306.8 103.8,306.7 104,306.7 104.2,306.8 104.5,307.5 104.8,309.4 105,312.9 105.2,317.3 105.5,321.3 105.8,323.9 106,325 106.2,325.2 106.5,325.2 106.8,325.1 107,324.6 107.2,322.7 107.5,319.1 107.8,314.4 108,310 108.2,307 108.5,305.6 108.8,305.3 109,305.3 109.2,305.3 109.5,305.7 109.8,307 110,309.6 110.2,313.1 110.5,316.6 110.8,319 111,320.2 111.2,320.5 111.5,320.5 111.8,320.5 112,320.2 112.2,319 112.5,316.5 112.8,312.8 113,309.1 113.2,306.3 113.5,304.9 113.8,304.5 114,304.5 114.2,304.5 114.5,304.7 114.8,305.8 115,308.3 115.2,312.1 115.5,316.2 115.8,319.3" stroke="#1c12b8" stroke-width="1.2" fill="none" stroke-linejoin="round"/>
<path d="M103.2,323L103.5,323.9 103.8,324.1 104,324.1 104.2,324 104.5,323.4 104.8,321.4 105,318 105.2,313.6 105.5,309.7 105.8,307.1 106,306.1 106.2,305.8 106.5,305.8 106.8,305.9 107,306.4 107.2,307.9 107.5,310.8 107.8,314.7 108,318.3 108.2,320.8 108.5,321.9 108.8,322.2 109,322.2 109.2,322.1 109.5,321.7 109.8,320.3 110,317.3 110.2,313.3 110.5,309.3 110.8,306.5 111,305.1 111.2,304.8 111.5,304.7 111.8,304.8 112,305.1 112.2,306.5 112.5,309.4 112.8,313.5 113,317.8 113.2,321 113.5,322.6 113.8,323 114,323.1 114.2,323.1 114.5,322.9 114.8,321.9 115,319.7 115.2,316.3 115.5,312.8 115.8,310" stroke="#d4101c" stroke-width="1.2" fill="none" stroke-linejoin="round"/>
<path d="M115.2,312.1L115.5,316.2 115.8,319.3 116,321 116.2,321.5 116.5,321.6 116.8,321.6 117,321.4 117.2,320.5 117.5,318.3 117.8,314.9 118,311 118.2,307.9 118.5,306.2 118.8,305.6 119,305.5 119.2,305.5 119.5,305.6 119.8,306.4 120,308.3 120.2,311.4 120.5,315.1 120.8,318.2 121,320 121.2,320.7 121.5,320.8 121.8,320.8 122,320.8 122.2,320.2 122.5,318.8 122.8,316.3 123,313.2 123.2,310.5 123.5,308.8 123.8,308.1 124,308 124.2,308 124.5,308.1 124.8,308.4 125,309.6 125.2,311.7 125.5,314.4 125.8,316.9 126,318.5 126.2,319.2 126.5,319.3 126.8,319.3 127,319.3 127.2,318.9 127.5,317.6 127.8,315" stroke="#1c12b8" stroke-width="1.2" fill="none" stroke-linejoin="round"/>
<path d="M115.2,316.3L115.5,312.8 115.8,310 116,308.5 116.2,308.1 116.5,308 116.8,308 117,308.2 117.2,308.9 117.5,310.7 117.8,313.5 118,316.6 118.2,319.1 118.5,320.5 118.8,321 119,321.1 119.2,321.1 119.5,320.9 119.8,320.2 120,318.4 120.2,315.4 120.5,311.9 120.8,308.9 121,307.1 121.2,306.5 121.5,306.4 121.8,306.4 122,306.5 122.2,307 122.5,308.7 122.8,311.5 123,315 123.2,318 123.5,319.9 123.8,320.7 124,320.8 124.2,320.8 124.5,320.8 124.8,320.4 125,319.1 125.2,316.7 125.5,313.7 125.8,311 126,309.2 126.2,308.4 126.5,308.3 126.8,308.2 127,308.3 127.2,308.7 127.5,309.9 127.8,312.4" stroke="#d4101c" stroke-width="1.2" fill="none" stroke-linejoin="round"/>
<path d="M127.2,318.9L127.5,317.6 127.8,315 128,311.6 128.2,308.4 128.5,306.1 128.8,305.1 129,304.9 129.2,304.9 129.5,304.9 129.8,305.4 130,307.1 130.2,310.6 130.5,315.4 130.8,320.3 131,323.7 131.2,325.4 131.5,325.8 131.8,325.9 132,325.9 132.2,325.5 132.5,324.2 132.8,321.4 133,317.3 133.2,313 133.5,309.8 133.8,308.2 134,307.7 134.2,307.6 134.5,307.6 134.8,307.8 135,308.7 135.2,310.7 135.5,313.7 135.8,316.9 136,319.5 136.2,320.9 136.5,321.3 136.8,321.4 137,321.4 137.2,321.2 137.5,320.3 137.8,318.1 138,314.6 138.2,310.6 138.5,307.4 138.8,305.6 139,304.9 139.2,304.8 139.5,304.8 139.8,304.9" stroke="#1c12b8" stroke-width="1.2" fill="none" stroke-linejoin="round"/>
<path d="M127.2,308.7L127.5,309.9 127.8,312.4 128,315.7 128.2,318.8 128.5,321 128.8,321.9 129,322.2 129.2,322.2 129.5,322.2 129.8,321.8 130,320.5 130.2,317.8 130.5,314.2 130.8,310.5 131,307.8 131.2,306.6 131.5,306.2 131.8,306.2 132,306.2 132.2,306.5 132.5,307.8 132.8,310.5 133,314.5 133.2,318.7 133.5,321.8 133.8,323.4 134,323.9 134.2,323.9 134.5,323.9 134.8,323.7 135,322.7 135.2,320.5 135.5,317 135.8,313.3 136,310.3 136.2,308.8 136.5,308.2 136.8,308.2 137,308.2 137.2,308.3 137.5,309 137.8,310.8 138,313.6 138.2,316.9 138.5,319.5 138.8,321 139,321.5 139.2,321.6 139.5,321.6 139.8,321.5" stroke="#d4101c" stroke-width="1.2" fill="none" stroke-linejoin="round"/>
<path d="M139.2,321.6L139.5,321.6 139.8,321.5 140,320.8 140.2,319.1 140.5,316.1 140.8,312.7 141,309.8 141.2,308 141.5,307.3 141.8,307.2 142,307.2 142.2,307.3 142.5,307.8 142.8,309.1 143,311.6 143.2,314.6 143.5,317.2 143.8,318.9 144,319.6 144.2,319.7 144.5,319.7 144.8,319.7 145,319.2 145.2,317.8 145.5,315.3 145.8,311.9 146,308.8 146.2,306.8 146.5,305.9 146.8,305.7 147,305.7 147.2,305.8 147.5,306.2 147.8,307.8 148,310.9 148.2,315 148.5,319 148.8,321.8 149,323 149.2,323.4 149.5,323.4 149.8,323.4 150,323 150.2,321.8 150.5,319.1 150.8,315.4 151,311.7 151.2,309 151.5,307.7 151.8,307.3" stroke="#d4101c" stroke-width="1.2" fill="none" stroke-linejoin="round"/>
<path d="M139.2,304.8L139.5,304.8 139.8,304.9 140,305.7 140.2,307.7 140.5,311 140.8,315 141,318.4 141.2,320.4 141.5,321.2 141.8,321.3 142,321.3 142.2,321.2 142.5,320.6 142.8,319 143,316.1 143.2,312.5 143.5,309.3 143.8,307.3 144,306.5 144.2,306.3 144.5,306.3 144.8,306.4 145,306.9 145.2,308.4 145.5,311.3 145.8,315 146,318.5 146.2,320.8 146.5,321.8 146.8,322 147,322 147.2,322 147.5,321.5 147.8,320.1 148,317.2 148.2,313.4 148.5,309.7 148.8,307.2 149,306 149.2,305.7 149.5,305.7 149.8,305.7 150,306.1 150.2,307.5 150.5,310.6 150.8,314.8 151,319.1 151.2,322.2 151.5,323.8 151.8,324.2" stroke="#1c12b8" stroke-width="1.2" fill="none" stroke-linejoin="round"/>
<path d="M151.2,309L151.5,307.7 151.8,307.3 152,307.3 152.2,307.3 152.5,307.6 152.8,308.8 153,311.4 153.2,315.3 153.5,319.4 153.8,322.5 154,324.1 154.2,324.6 154.5,324.6 154.8,324.6 155,324.4 155.2,323.2 155.5,320.4 155.8,316.1 156,311.4 156.2,307.7 156.5,305.6 156.8,304.9 157,304.9 157.2,304.9 157.5,305 157.8,306 158,308.4 158.2,312.2 158.5,316.6 158.8,320.3 159,322.4 159.2,323.1 159.5,323.3 159.8,323.3 160,323.1 160.2,322.4 160.5,320.3 160.8,316.7 161,312.5 161.2,308.8 161.5,306.6 161.8,305.7 162,305.6 162.2,305.5 162.5,305.6 162.8,306.3 163,308.3 163.2,311.8 163.5,316.2 163.8,320.1" stroke="#d4101c" stroke-width="1.2" fill="none" stroke-linejoin="round"/>
<path d="M151.2,322.2L151.5,323.8 151.8,324.2 152,324.2 152.2,324.2 152.5,323.9 152.8,322.7 153,319.9 153.2,315.9 153.5,311.6 153.8,308.3 154,306.7 154.2,306.1 154.5,306.1 154.8,306.1 155,306.3 155.2,307.4 155.5,309.9 155.8,313.7 156,317.9 156.2,321.3 156.5,323.1 156.8,323.7 157,323.8 157.2,323.8 157.5,323.6 157.8,322.8 158,320.6 158.2,317.1 158.5,313 158.8,309.7 159,307.7 159.2,307 159.5,306.9 159.8,306.9 160,307 160.2,307.7 160.5,309.6 160.8,312.8 161,316.6 161.2,319.9 161.5,321.9 161.8,322.7 162,322.8 162.2,322.8 162.5,322.8 162.8,322.3 163,320.9 163.2,318.3 163.5,315.2 163.8,312.3" stroke="#1c12b8" stroke-width="1.2" fill="none" stroke-linejoin="round"/>
<path d="M163.2,318.3L163.5,315.2 163.8,312.3 164,310.5 164.2,309.8 164.5,309.6 164.8,309.6 165,309.6 165.2,310 165.5,311 165.8,312.9 166,315.3 166.2,317.6 166.5,319.2 166.8,319.9 167,320 167.2,320.1 167.5,320 167.8,319.6 168,318.3 168.2,315.7 168.5,312.1 168.8,308.6 169,306.2 169.2,305 169.5,304.7 169.8,304.7 170,304.7 170.2,305.1 170.5,306.3 170.8,309 171,312.9 171.2,316.8 171.5,319.7 171.8,321.1 172,321.5 172.2,321.6 172.5,321.6 172.8,321.3 173,320.2 173.2,317.7 173.5,314 173.8,310.1 174,307.1 174.2,305.5 174.5,305 174.8,304.9 175,304.9 175.2,305.1 175.5,306.2 175.8,308.8" stroke="#1c12b8" stroke-width="1.2" fill="none" stroke-linejoin="round"/>
<path d="M163.2,311.8L163.5,316.2 163.8,320.1 164,322.6 164.2,323.7 164.5,323.9 164.8,323.9 165,323.9 165.2,323.4 165.5,321.9 165.8,319.1 166,315.3 166.2,311.9 166.5,309.5 166.8,308.5 167,308.3 167.2,308.2 167.5,308.3 167.8,308.7 168,310 168.2,312.6 168.5,316.1 168.8,319.6 169,322 169.2,323.2 169.5,323.5 169.8,323.5 170,323.5 170.2,323.1 170.5,321.7 170.8,318.7 171,314.5 171.2,310.2 171.5,307 171.8,305.4 172,305 172.2,304.9 172.5,305 172.8,305.2 173,306.2 173.2,308.3 173.5,311.6 173.8,315.1 174,317.8 174.2,319.2 174.5,319.6 174.8,319.7 175,319.7 175.2,319.5 175.5,318.7 175.8,316.7" stroke="#d4101c" stroke-width="1.2" fill="none" stroke-linejoin="round"/>
<path d="M175.2,305.1L175.5,306.2 175.8,308.8 176,312.8 176.2,317.3 176.5,320.8 176.8,322.8 177,323.5 177.2,323.6 177.5,323.6 177.8,323.4 178,322.4 178.2,319.9 178.5,315.7 178.8,310.9 179,306.9 179.2,304.5 179.5,303.7 179.8,303.5 180,303.5 180.2,303.6 180.5,304.5 180.8,306.8 181,310.9 181.2,315.8 181.5,320.2 181.8,322.8 182,323.9 182.2,324.1 182.5,324.1 182.8,324 183,323.3 183.2,321.2 183.5,317.5 183.8,312.7 184,308.4 184.2,305.6 184.5,304.4 184.8,304.2 185,304.2 185.2,304.2 185.5,304.7 185.8,306.4 186,309.7 186.2,314 186.5,318 186.8,320.8 187,322.1 187.2,322.4 187.5,322.4 187.8,322.3" stroke="#1c12b8" stroke-width="1.2" fill="none" stroke-linejoin="round"/>
<path d="M175.2,319.5L175.5,318.7 175.8,316.7 176,313.6 176.2,310.1 176.5,307.4 176.8,305.8 177,305.3 177.2,305.2 177.5,305.2 177.8,305.4 178,306.2 178.2,308.4 178.5,311.9 178.8,316 179,319.4 179.2,321.5 179.5,322.2 179.8,322.3 180,322.3 180.2,322.2 180.5,321.5 180.8,319.4 181,315.9 181.2,311.6 181.5,307.9 181.8,305.6 182,304.7 182.2,304.5 182.5,304.5 182.8,304.6 183,305.2 183.2,307 183.5,310.3 183.8,314.4 184,318.2 184.2,320.6 184.5,321.7 184.8,321.9 185,321.9 185.2,321.8 185.5,321.4 185.8,319.9 186,317.1 186.2,313.3 186.5,309.8 186.8,307.3 187,306.2 187.2,306 187.5,306 187.8,306" stroke="#d4101c" stroke-width="1.2" fill="none" stroke-linejoin="round"/>
<path d="M187.2,306L187.5,306 187.8,306 188,306.4 188.2,307.8 188.5,310.7 188.8,314.6 189,318.6 189.2,321.3 189.5,322.7 189.8,323 190,323.1 190.2,323 190.5,322.8 190.8,321.6 191,319.2 191.2,315.7 191.5,312 191.8,309.3 192,307.9 192.2,307.5 192.5,307.5 192.8,307.5 193,307.7 193.2,308.7 193.5,311 193.8,314.5 194,318.3 194.2,321.2 194.5,322.8 194.8,323.3 195,323.3 195.2,323.3 195.5,323.2 195.8,322.2 196,319.9 196.2,316.3 196.5,312.3 196.8,309 197,307.1 197.2,306.5 197.5,306.4 197.8,306.4 198,306.5 198.2,307.3 198.5,309.3 198.8,312.7 199,316.7 199.2,320.1 199.5,322.1 199.8,322.9" stroke="#d4101c" stroke-width="1.2" fill="none" stroke-linejoin="round"/>
<path d="M187.2,322.4L187.5,322.4 187.8,322.3 188,322 188.2,320.7 188.5,318.2 188.8,314.7 189,311.2 189.2,308.7 189.5,307.5 189.8,307.2 190,307.2 190.2,307.2 190.5,307.4 190.8,308.5 191,310.7 191.2,313.8 191.5,317.1 191.8,319.6 192,320.8 192.2,321.2 192.5,321.2 192.8,321.2 193,321 193.2,320.1 193.5,318 193.8,314.9 194,311.5 194.2,308.8 194.5,307.4 194.8,307 195,306.9 195.2,306.9 195.5,307.1 195.8,307.8 196,309.6 196.2,312.5 196.5,315.8 196.8,318.4 197,319.9 197.2,320.4 197.5,320.5 197.8,320.5 198,320.4 198.2,319.8 198.5,318.1 198.8,315.4 199,312.2 199.2,309.5 199.5,307.8 199.8,307.2" stroke="#1c12b8" stroke-width="1.2" fill="none" stroke-linejoin="round"/>
<path d="M199.2,320.1L199.5,322.1 199.8,322.9 200,323 200.2,323 200.5,322.9 200.8,322.3 201,320.5 201.2,317.4 201.5,313.6 201.8,310.2 202,308.1 202.2,307.3 202.5,307.1 202.8,307.1 203,307.2 203.2,307.7 203.5,309.4 203.8,312.5 204,316.6 204.2,320.3 204.5,322.7 204.8,323.7 205,324 205.2,324 205.5,323.9 205.8,323.4 206,321.8 206.2,318.5 206.5,314.1 206.8,309.9 207,307 207.2,305.6 207.5,305.3 207.8,305.3 208,305.3 208.2,305.7 208.5,307 208.8,309.7 209,313.6 209.2,317.4 209.5,320.2 209.8,321.6 210,321.9 210.2,322 210.5,321.9 210.8,321.7 211,320.5 211.2,317.9 211.5,314.2 211.8,310.2" stroke="#d4101c" stroke-width="1.2" fill="none" stroke-linejoin="round"/>
<path d="M199.2,309.5L199.5,307.8 199.8,307.2 200,307.1 200.2,307.1 200.5,307.2 200.8,307.8 201,309.5 201.2,312.4 201.5,316 201.8,319.2 202,321.1 202.2,321.9 202.5,322.1 202.8,322.1 203,322 203.2,321.5 203.5,319.9 203.8,316.9 204,313 204.2,309.4 204.5,307.1 204.8,306.1 205,305.9 205.2,305.8 205.5,305.9 205.8,306.3 206,307.7 206.2,310.5 206.5,314.2 206.8,317.8 207,320.3 207.2,321.4 207.5,321.7 207.8,321.7 208,321.7 208.2,321.4 208.5,320.4 208.8,318.4 209,315.5 209.2,312.7 209.5,310.6 209.8,309.6 210,309.4 210.2,309.3 210.5,309.3 210.8,309.6 211,310.5 211.2,312.4 211.5,315.3 211.8,318.3" stroke="#1c12b8" stroke-width="1.2" fill="none" stroke-linejoin="round"/>
<path d="M211.2,317.9L211.5,314.2 211.8,310.2 212,307.3 212.2,305.8 212.5,305.3 212.8,305.2 213,305.3 213.2,305.7 213.5,307.4 213.8,311.6" stroke="#d4101c" stroke-width="1.2" fill="none" stroke-linejoin="round"/>
<path d="M211.2,312.4L211.5,315.3 211.8,318.3 212,320.6 212.2,321.7 212.5,322.1 212.8,322.1 213,322.1 213.2,321.8 213.5,320.3 213.8,316.7" stroke="#1c12b8" stroke-width="1.2" fill="none" stroke-linejoin="round"/>
<path d="M213.8,327.6L214.1,327.5 214.3,326.6 214.6,323.7 214.8,317.7 215.1,309.5 215.3,301.6 215.6,296 215.8,293.3 216.1,292.6 216.3,292.6 216.6,292.7 216.8,293.6 217.1,297.3 217.3,305.1 217.6,316.2 217.8,327.5 218.1,335.8 218.3,339.9 218.6,341.1 218.8,341.3 219.1,341.2" stroke="#1c12b8" stroke-width="1.2" fill="none" stroke-linejoin="round"/>
<path d="M213.8,299.9L214.1,300 214.3,300.7 214.6,303.3 214.8,308.5 215.1,315.5 215.3,322.4 215.6,327.2 215.8,329.5 216.1,330.1 216.3,330.2 216.6,330.1 216.8,329.2 217.1,325.9 217.3,318.8 217.6,308.7 217.8,298.4 218.1,290.8 218.3,287 218.6,285.9 218.8,285.8 219.1,285.9" stroke="#d4101c" stroke-width="1.2" fill="none" stroke-linejoin="round"/>
<path d="M218.6,341.1L218.8,341.3 219.1,341.2 219.3,340.5 219.6,337.3 219.8,330 220.1,319.3 220.3,307.8 220.6,299 220.8,294.3 221.1,292.8 221.3,292.7 221.6,292.7 221.8,293.3 222.1,296.1 222.3,302.9 222.6,313.6 222.8,325.4 223.1,334.9 223.3,340.2 223.6,342 223.8,342.2 224.1,342.2" stroke="#1c12b8" stroke-width="1.2" fill="none" stroke-linejoin="round"/>
<path d="M218.6,285.9L218.8,285.8 219.1,285.9 219.3,286.7 219.6,290.2 219.8,298.2 220.1,310 220.3,322.6 220.6,332.3 220.8,337.4 221.1,339 221.3,339.2 221.6,339.2 221.8,338.5 222.1,335.3 222.3,327.6 222.6,315.5 222.8,302 223.1,291.2 223.3,285.2 223.6,283.2 223.8,282.9 224.1,282.9" stroke="#d4101c" stroke-width="1.2" fill="none" stroke-linejoin="round"/>
<path d="M223.6,283.2L223.8,282.9 224.1,282.9 224.3,283.5 224.6,286.7 224.8,295 225.1,308.6 225.3,324.5 225.6,337.7 225.8,345.5 226.1,348.3 226.3,348.8 226.6,348.8 226.8,348.5 227.1,346.1 227.3,339.8 227.6,328.7 227.8,315.3 228.1,303.6 228.3,296.5 228.6,293.6 228.8,293 229.1,293" stroke="#d4101c" stroke-width="1.2" fill="none" stroke-linejoin="round"/>
<path d="M223.6,342L223.8,342.2 224.1,342.2 224.3,341.8 224.6,339.3 224.8,332.9 225.1,322.3 225.3,310.1 225.6,299.9 225.8,293.9 226.1,291.6 226.3,291.3 226.6,291.3 226.8,291.5 227.1,293.1 227.3,297.5 227.6,305.2 227.8,314.5 228.1,322.5 228.3,327.5 228.6,329.5 228.8,329.9 229.1,329.9" stroke="#1c12b8" stroke-width="1.2" fill="none" stroke-linejoin="round"/>
<path d="M228.6,329.5L228.8,329.9 229.1,329.9 229.3,329.7 229.6,328.2 229.8,323.7 230.1,315.5 230.3,305.1 230.6,295.6 230.8,289.5 231.1,286.9 231.3,286.4 231.6,286.3 231.8,286.5 232.1,288.2 232.3,293.5 232.6,303.7 232.8,317.3 233.1,330.1 233.3,338.9 233.6,342.8 233.8,343.8 234.1,343.8" stroke="#1c12b8" stroke-width="1.2" fill="none" stroke-linejoin="round"/>
<path d="M228.6,293.6L228.8,293 229.1,293 229.3,293.3 229.6,295 229.8,300.2 230.1,309.7 230.3,321.7 230.6,332.7 230.8,339.7 231.1,342.7 231.3,343.4 231.6,343.4 231.8,343.2 232.1,341.6 232.3,336.1 232.6,325.6 232.8,311.8 233.1,298.6 233.3,289.7 233.6,285.6 233.8,284.7 234.1,284.6" stroke="#d4101c" stroke-width="1.2" fill="none" stroke-linejoin="round"/>
<path d="M233.6,285.6L233.8,284.7 234.1,284.6 234.3,284.7 234.6,286.2 234.8,291.5 235.1,302.3 235.3,317.1 235.6,331.8 235.8,342.3 236.1,347.3 236.3,348.7 236.6,348.8 236.8,348.7 237.1,347.5 237.3,343 237.6,333.3 237.8,319.2 238.1,304.6 238.3,293.8 238.6,288.3 238.8,286.6 239.1,286.5" stroke="#d4101c" stroke-width="1.2" fill="none" stroke-linejoin="round"/>
<path d="M233.6,342.8L233.8,343.8 234.1,343.8 234.3,343.7 234.6,342.3 234.8,337.5 235.1,327.8 235.3,314.3 235.6,300.9 235.8,291.4 236.1,286.8 236.3,285.6 236.6,285.5 236.8,285.5 237.1,286.6 237.3,290.6 237.6,299.2 237.8,311.7 238.1,324.6 238.3,334.2 238.6,339 238.8,340.5 239.1,340.6" stroke="#1c12b8" stroke-width="1.2" fill="none" stroke-linejoin="round"/>
<path d="M238.6,339L238.8,340.5 239.1,340.6 239.3,340.6 239.6,339.6 239.8,335.4 240.1,325.7 240.3,311.1 240.6,295.2 240.8,283 241.1,276.4 241.3,274.2 241.6,274 241.8,274 242.1,274.6 242.3,277.5 242.6,284.6 242.8,296 243.1,308.7 243.3,319 243.6,324.9 243.8,326.9 244.1,327.2" stroke="#1c12b8" stroke-width="1.2" fill="none" stroke-linejoin="round"/>
<path d="M238.6,288.3L238.8,286.6 239.1,286.5 239.3,286.5 239.6,287.5 239.8,291.7 240.1,301.2 240.3,315.7 240.6,331.4 240.8,343.5 241.1,350 241.3,352.1 241.6,352.4 241.8,352.3 242.1,351.7 242.3,348.6 242.6,340.9 242.8,328.8 243.1,315.1 243.3,304 243.6,297.7 243.8,295.5 244.1,295.2" stroke="#d4101c" stroke-width="1.2" fill="none" stroke-linejoin="round"/>
<path d="M243.6,297.7L243.8,295.5 244.1,295.2 244.3,295.2 244.6,295.6 244.8,298.2 245.1,304.7 245.3,315.7 245.6,328.6 245.8,339.5 246.1,346 246.3,348.5 246.6,348.9 246.8,348.9 247.1,348.6 247.3,346.7 247.6,341.3 247.8,331.9 248.1,320.4 248.3,310.2 248.6,303.8 248.8,301.2 249.1,300.7" stroke="#d4101c" stroke-width="1.2" fill="none" stroke-linejoin="round"/>
<path d="M243.6,324.9L243.8,326.9 244.1,327.2 244.3,327.2 244.6,326.8 244.8,324.6 245.1,318.7 245.3,309 245.6,297.5 245.8,287.8 246.1,282 246.3,279.8 246.6,279.5 246.8,279.5 247.1,279.7 247.3,281.6 247.6,287 247.8,296.4 248.1,307.9 248.3,318 248.6,324.4 248.8,326.9 249.1,327.5" stroke="#1c12b8" stroke-width="1.2" fill="none" stroke-linejoin="round"/>
<path d="M248.6,324.4L248.8,326.9 249.1,327.5 249.3,327.5 249.6,327.2 249.8,325.4 250.1,319.9 250.3,309.6 250.6,296.5 250.8,284.4 251.1,276.5 251.3,273.1 251.6,272.3 251.8,272.3 252.1,272.4 252.3,274 252.6,279.3 252.8,289.7 253.1,303.5 253.3,316.8 253.6,326 253.8,330.2 254.1,331.2" stroke="#1c12b8" stroke-width="1.2" fill="none" stroke-linejoin="round"/>
<path d="M248.6,303.8L248.8,301.2 249.1,300.7 249.3,300.7 249.6,300.9 249.8,302.6 250.1,307.9 250.3,317.6 250.6,330.1 250.8,341.5 251.1,349 251.3,352.3 251.6,353 251.8,353.1 252.1,352.9 252.3,351.3 252.6,346 252.8,335.8 253.1,322 253.3,308.8 253.6,299.7 253.8,295.5 254.1,294.4" stroke="#d4101c" stroke-width="1.2" fill="none" stroke-linejoin="round"/>
<path d="M253.6,299.7L253.8,295.5 254.1,294.4 254.3,294.4 254.6,294.5 254.8,295.6 255.1,299.9 255.3,308.8 255.6,321.2 255.8,333.6 256.1,342.6 256.3,346.9 256.6,348.1 256.8,348.2 257.1,348.2 257.3,347.1 257.6,342.6 257.8,332.8 258.1,318.5 258.3,303.4 258.6,292.2 258.8,286.3 259.1,284.5" stroke="#d4101c" stroke-width="1.2" fill="none" stroke-linejoin="round"/>
<path d="M253.6,326L253.8,330.2 254.1,331.2 254.3,331.3 254.6,331.2 254.8,329.9 255.1,325.1 255.3,315.3 255.6,301.6 255.8,287.8 256.1,277.9 256.3,273.1 256.6,271.7 256.8,271.6 257.1,271.7 257.3,273.1 257.6,278.6 257.8,290.7 258.1,308.5 258.3,327.1 258.6,341.1 258.8,348.3 259.1,350.5" stroke="#1c12b8" stroke-width="1.2" fill="none" stroke-linejoin="round"/>
<path d="M258.6,292.2L258.8,286.3 259.1,284.5 259.3,284.4 259.6,284.4 259.8,285.3 260.1,289.3 260.3,298.6 260.6,312.9 260.8,328.5 261.1,340.7 261.3,347.4 261.6,349.6 261.8,349.9 262.1,349.9 262.3,349.2 262.6,345.5 262.8,336.3 263.1,321.6 263.3,304.7 263.6,290.9 263.8,283 264.1,280.2" stroke="#d4101c" stroke-width="1.2" fill="none" stroke-linejoin="round"/>
<path d="M258.6,341.1L258.8,348.3 259.1,350.5 259.3,350.8 259.6,350.7 259.8,349.9 260.1,345.9 260.3,336.7 260.6,322.6 260.8,307.2 261.1,295.1 261.3,288.5 261.6,286.3 261.8,286 262.1,286 262.3,286.7 262.6,290.1 262.8,298.6 263.1,312.3 263.3,327.9 263.6,340.7 263.8,348 264.1,350.7" stroke="#1c12b8" stroke-width="1.2" fill="none" stroke-linejoin="round"/>
<path d="M263.6,340.7L263.8,348 264.1,350.7 264.3,351.1 264.6,351.1 264.8,350.6 265.1,347.8 265.3,340.2 265.6,327.4 265.8,312.1 266.1,299.1 266.3,291.2 266.6,288.1 266.8,287.6 267.1,287.6 267.3,288 267.6,290.7 267.8,298.6 268.1,312.7 268.3,330.3 268.6,345.9 268.8,355.8 269.1,359.9" stroke="#1c12b8" stroke-width="1.2" fill="none" stroke-linejoin="round"/>
<path d="M263.6,290.9L263.8,283 264.1,280.2 264.3,279.7 264.6,279.7 264.8,280.2 265.1,282.8 265.3,289.6 265.6,301.2 265.8,315 266.1,326.9 266.3,334 266.6,336.7 266.8,337.2 267.1,337.3 267.3,336.9 267.6,334.4 267.8,327.3 268.1,314.6 268.3,298.8 268.6,284.7 268.8,275.8 269.1,272.1" stroke="#d4101c" stroke-width="1.2" fill="none" stroke-linejoin="round"/>
<path d="M268.6,284.7L268.8,275.8 269.1,272.1 269.3,271.3 269.6,271.3 269.8,271.5 270.1,273.2 270.3,278.5 270.6,288.4 270.8,301.4 271.1,313.4 271.3,321.4 271.6,324.9 271.8,325.8 272.1,325.8 272.3,325.7 272.6,324.4 272.8,319.9 273.1,311.1 273.3,299.2 273.6,287.6 273.8,279.5 274.1,275.7" stroke="#d4101c" stroke-width="1.2" fill="none" stroke-linejoin="round"/>
<path d="M268.6,345.9L268.8,355.8 269.1,359.9 269.3,360.8 269.6,360.8 269.8,360.6 270.1,358.5 270.3,352 270.6,339.8 270.8,324 271.1,309.2 271.3,299.4 271.6,295.1 271.8,294.1 272.1,294 272.3,294.2 272.6,295.7 272.8,300.7 273.1,310.8 273.3,324.5 273.6,337.7 273.8,347 274.1,351.3" stroke="#1c12b8" stroke-width="1.2" fill="none" stroke-linejoin="round"/>
<path d="M273.6,287.6L273.8,279.5 274.1,275.7 274.3,274.7 274.6,274.7 274.8,274.8 275.1,276 275.3,280.6 275.6,290.1 275.8,303.7 276.1,317.5 276.3,327.6 276.6,332.6 276.8,334 277.1,334.1 277.3,334.1 277.6,333.2 277.8,329.6 278.1,321.6 278.3,309.7 278.6,297 278.8,287.4 279.1,282.4" stroke="#d4101c" stroke-width="1.2" fill="none" stroke-linejoin="round"/>
<path d="M273.6,337.7L273.8,347 274.1,351.3 274.3,352.4 274.6,352.5 274.8,352.4 275.1,351.1 275.3,346.1 275.6,335.5 275.8,320.6 276.1,305.4 276.3,294.4 276.6,288.9 276.8,287.4 277.1,287.2 277.3,287.3 277.6,288.4 277.8,293.1 278.1,303.7 278.3,319.3 278.6,335.9 278.8,348.5 279.1,355.1" stroke="#1c12b8" stroke-width="1.2" fill="none" stroke-linejoin="round"/>
<path d="M278.6,335.9L278.8,348.5 279.1,355.1 279.3,357.1 279.6,357.4 279.8,357.3 280.1,356.4 280.3,351.9 280.6,341.4 280.8,324.9 281.1,306.8 281.3,292.3 281.6,284.3 281.8,281.6 282.1,281.2 282.3,281.2 282.6,281.8 282.8,284.7 283.1,292.2 283.3,304.4 283.6,318.4 283.8,330.1 284.1,336.9" stroke="#1c12b8" stroke-width="1.2" fill="none" stroke-linejoin="round"/>
<path d="M278.6,297L278.8,287.4 279.1,282.4 279.3,280.8 279.6,280.6 279.8,280.7 280.1,281.4 280.3,285.1 280.6,293.7 280.8,307.1 281.1,321.9 281.3,333.7 281.6,340.2 281.8,342.4 282.1,342.7 282.3,342.7 282.6,342.1 282.8,339.1 283.1,331.3 283.3,318.6 283.6,304 283.8,291.8 284.1,284.8" stroke="#d4101c" stroke-width="1.2" fill="none" stroke-linejoin="round"/>
<path d="M283.6,304L283.8,291.8 284.1,284.8 284.3,282.2 284.6,281.8 284.8,281.8 285.1,282.1 285.3,284.4 285.6,290.7 285.8,301.4 286.1,314.3 286.3,325.5 286.6,332.3 286.8,335 287.1,335.5 287.3,335.5 287.6,335.3 287.8,333.3 288.1,327.5 288.3,316.9 288.6,303.7 288.8,291.7 289.1,284.1" stroke="#d4101c" stroke-width="1.2" fill="none" stroke-linejoin="round"/>
<path d="M283.6,318.4L283.8,330.1 284.1,336.9 284.3,339.4 284.6,339.8 284.8,339.8 285.1,339.4 285.3,336.9 285.6,330.2 285.8,318.6 286.1,304.7 286.3,292.6 286.6,285.2 286.8,282.3 287.1,281.8 287.3,281.7 287.6,282.1 287.8,284.5 288.1,291.8 288.3,304.8 288.6,321.3 288.8,336.1 289.1,345.7" stroke="#1c12b8" stroke-width="1.2" fill="none" stroke-linejoin="round"/>
<path d="M288.6,321.3L288.8,336.1 289.1,345.7 289.3,349.7 289.6,350.5 289.8,350.6 290.1,350.4 290.3,348.4 290.6,342 290.8,329.9 291.1,314 291.3,298.9 291.6,288.8 291.8,284.3 292.1,283.2 292.3,283.1 292.6,283.2 292.8,284.6 293.1,289.4 293.3,299 293.6,312.2 293.8,325.2 294.1,334.4" stroke="#1c12b8" stroke-width="1.2" fill="none" stroke-linejoin="round"/>
<path d="M288.6,303.7L288.8,291.7 289.1,284.1 289.3,280.8 289.6,280.1 289.8,280.1 290.1,280.3 290.3,282 290.6,287.6 290.8,298.1 291.1,312 291.3,325.1 291.6,333.9 291.8,337.8 292.1,338.8 292.3,338.8 292.6,338.7 292.8,337.5 293.1,333.4 293.3,325.1 293.6,313.6 293.8,302.3 294.1,294.4" stroke="#d4101c" stroke-width="1.2" fill="none" stroke-linejoin="round"/>
<path d="M293.6,313.6L293.8,302.3 294.1,294.4 294.3,290.6 294.6,289.6 294.8,289.5 295.1,289.5 295.3,290.5 295.6,294.4 295.8,302.6 296.1,314.4 296.3,326.6 296.6,335.5 296.8,340 297.1,341.4 297.3,341.5 297.6,341.5 297.8,340.6 298.1,336.9 298.3,328.4 298.6,315.7 298.8,302.1 299.1,291.6" stroke="#d4101c" stroke-width="1.2" fill="none" stroke-linejoin="round"/>
<path d="M293.6,312.2L293.8,325.2 294.1,334.4 294.3,338.8 294.6,339.9 294.8,340 295.1,339.9 295.3,338.7 295.6,334 295.8,324.1 296.1,309.7 296.3,295 296.6,284.1 296.8,278.7 297.1,277.1 297.3,276.9 297.6,277 297.8,277.9 298.1,282 298.3,291.4 298.6,305.4 298.8,320.5 299.1,332.1" stroke="#1c12b8" stroke-width="1.2" fill="none" stroke-linejoin="round"/>
<path d="M298.6,305.4L298.8,320.5 299.1,332.1 299.3,338.3 299.6,340.3 299.8,340.5 300.1,340.5 300.3,340 300.6,337.4 300.8,331.1 301.1,321.2 301.3,310.1 301.6,301.2 301.8,296.2 302.1,294.4 302.3,294.2 302.6,294.2 302.8,294.7 303.1,297.6 303.3,305 303.6,317.3 303.8,331.7 304.1,343.8" stroke="#1c12b8" stroke-width="1.2" fill="none" stroke-linejoin="round"/>
<path d="M298.6,315.7L298.8,302.1 299.1,291.6 299.3,286 299.6,284.2 299.8,284 300.1,284 300.3,284.6 300.6,287.3 300.8,294 301.1,304.5 301.3,316.2 301.6,325.7 301.8,331 302.1,332.8 302.3,333.1 302.6,333.1 302.8,332.6 303.1,329.9 303.3,323.1 303.6,311.7 303.8,298.4 304.1,287.2" stroke="#d4101c" stroke-width="1.2" fill="none" stroke-linejoin="round"/>
<path d="M303.6,317.3L303.8,331.7 304.1,343.8 304.3,350.9 304.6,353.6 304.8,354.1 305.1,354.1 305.3,353.7 305.6,351.3 305.8,344.7 306.1,333.3 306.3,319.3 306.6,307 306.8,299.4 307.1,296.3 307.3,295.7 307.6,295.7 307.8,295.9 308.1,297.8 308.3,303.4 308.6,313.7 308.8,326.8 309.1,338.8" stroke="#1c12b8" stroke-width="1.2" fill="none" stroke-linejoin="round"/>
<path d="M303.6,311.7L303.8,298.4 304.1,287.2 304.3,280.6 304.6,278.1 304.8,277.7 305.1,277.7 305.3,278 305.6,280.3 305.8,286.6 306.1,297.6 306.3,311 306.6,322.7 306.8,330 307.1,332.9 307.3,333.5 307.6,333.5 307.8,333.3 308.1,331.9 308.3,327.4 308.6,319.2 308.8,308.8 309.1,299.2" stroke="#d4101c" stroke-width="1.2" fill="none" stroke-linejoin="round"/>
<path d="M308.6,313.7L308.8,326.8 309.1,338.8 309.3,346.6 309.6,349.9 309.8,350.7 310.1,350.7 310.3,350.5 310.6,348.6 310.8,342.5 311.1,330.6 311.3,314.7 311.6,299.5 311.8,289.2 312.1,284.5 312.3,283.3 312.6,283.2 312.8,283.3 313.1,284.5 313.3,288.9 313.6,297.7 313.8,310 314.1,322.3" stroke="#1c12b8" stroke-width="1.2" fill="none" stroke-linejoin="round"/>
<path d="M308.6,319.2L308.8,308.8 309.1,299.2 309.3,293 309.6,290.4 309.8,289.8 310.1,289.8 310.3,289.9 310.6,291.6 310.8,297.2 311.1,308 311.3,322.4 311.6,336.1 311.8,345.4 312.1,349.7 312.3,350.8 312.6,350.8 312.8,350.7 313.1,349.2 313.3,343.9 313.6,333 313.8,317.8 314.1,302.6" stroke="#d4101c" stroke-width="1.2" fill="none" stroke-linejoin="round"/>
<path d="M313.6,333L313.8,317.8 314.1,302.6 314.3,291.8 314.6,286.5 314.8,285.1 315.1,285 315.3,285 315.6,286 315.8,289.6 316.1,297.5 316.3,309 316.6,321 316.8,330 317.1,334.6 317.3,335.9 317.6,336.1 317.8,336 318.1,335.3 318.3,331.9 318.6,324.1 318.8,312.3 319.1,299.4" stroke="#d4101c" stroke-width="1.2" fill="none" stroke-linejoin="round"/>
<path d="M313.6,297.7L313.8,310 314.1,322.3 314.3,331 314.6,335.2 314.8,336.4 315.1,336.5 315.3,336.4 315.6,335.5 315.8,331.6 316.1,323.2 316.3,310.9 316.6,298.2 316.8,288.7 317.1,283.8 317.3,282.3 317.6,282.2 317.8,282.2 318.1,283.1 318.3,286.9 318.6,295.8 318.8,309.3 319.1,324.1" stroke="#1c12b8" stroke-width="1.2" fill="none" stroke-linejoin="round"/>
<path d="M318.6,295.8L318.8,309.3 319.1,324.1 319.3,335.5 319.6,341.7 319.8,343.8 320.1,344 320.3,344 320.6,343.6 320.8,341.6 321.1,336.6 321.3,328.5 321.6,319.4 321.8,311.9 322.1,307.7 322.3,306.2 322.6,306 322.8,306 323.1,306.3 323.3,308.3 323.6,313.4 323.8,322.1 324.1,332.4" stroke="#1c12b8" stroke-width="1.2" fill="none" stroke-linejoin="round"/>
<path d="M318.6,324.1L318.8,312.3 319.1,299.4 319.3,289.4 319.6,283.9 319.8,282.1 320.1,281.9 320.3,281.9 320.6,282.4 320.8,284.7 321.1,290.3 321.3,299.3 321.6,309.5 321.8,317.8 322.1,322.6 322.3,324.3 322.6,324.5 322.8,324.5 323.1,324.1 323.3,321.4 323.6,314.2 323.8,302.3 324.1,288.1" stroke="#d4101c" stroke-width="1.2" fill="none" stroke-linejoin="round"/>
<path d="M323.6,313.4L323.8,322.1 324.1,332.4 324.3,341.1 324.6,346.3 324.8,348.3 325.1,348.7 325.3,348.7 325.6,348.3 325.8,346 326.1,339.3 326.3,327.5 326.6,312.9 326.8,299.9 327.1,291.8 327.3,288.4 327.6,287.8 327.8,287.7 328.1,288 328.3,289.9 328.6,295.7 328.8,306.5 329.1,320.5" stroke="#1c12b8" stroke-width="1.2" fill="none" stroke-linejoin="round"/>
<path d="M323.6,314.2L323.8,302.3 324.1,288.1 324.3,276.1 324.6,268.9 324.8,266.1 325.1,265.6 325.3,265.6 325.6,266 325.8,268.5 326.1,275.6 326.3,288.2 326.6,303.8 326.8,317.6 327.1,326.3 327.3,329.8 327.6,330.6 327.8,330.6 328.1,330.4 328.3,328.9 328.6,324.1 328.8,315.3 329.1,304" stroke="#d4101c" stroke-width="1.2" fill="none" stroke-linejoin="round"/>
<path d="M328.6,324.1L328.8,315.3 329.1,304 329.3,293.5 329.6,286.5 329.8,283.5 330.1,282.8 330.3,282.8 330.6,283 330.8,284.6 331.1,290.1 331.3,301 331.6,315.7 331.8,329.9 332.1,339.7 332.3,344.2 332.6,345.4 332.8,345.5 333.1,345.4 333.3,344.3 333.6,340.3 333.8,332.1 334.1,320.4" stroke="#d4101c" stroke-width="1.2" fill="none" stroke-linejoin="round"/>
<path d="M328.6,295.7L328.8,306.5 329.1,320.5 329.3,333.4 329.6,342 329.8,345.7 330.1,346.6 330.3,346.6 330.6,346.4 330.8,344.8 331.1,339.4 331.3,328.7 331.6,314.4 331.8,300.5 332.1,290.9 332.3,286.4 332.6,285.3 332.8,285.2 333.1,285.3 333.3,286.5 333.6,290.9 333.8,300.2 334.1,313.3" stroke="#1c12b8" stroke-width="1.2" fill="none" stroke-linejoin="round"/>
<path d="M333.6,290.9L333.8,300.2 334.1,313.3 334.3,326.6 334.6,336.1 334.8,340.8 335.1,342.2 335.3,342.3 335.6,342.2 335.8,341.2 336.1,336.8 336.3,327.2 336.6,312.9 336.8,298 337.1,286.7 337.3,280.8 337.6,278.9 337.8,278.7 338.1,278.8 338.3,279.5 338.6,282.6 338.8,290.1 339.1,301.6" stroke="#1c12b8" stroke-width="1.2" fill="none" stroke-linejoin="round"/>
<path d="M333.6,340.3L333.8,332.1 334.1,320.4 334.3,308.6 334.6,300.1 334.8,295.9 335.1,294.7 335.3,294.6 335.6,294.7 335.8,295.6 336.1,299.3 336.3,307.5 336.6,319.6 336.8,332.4 337.1,342 337.3,347 337.6,348.6 337.8,348.8 338.1,348.7 338.3,348 338.6,344.4 338.8,336.1 339.1,323.2" stroke="#d4101c" stroke-width="1.2" fill="none" stroke-linejoin="round"/>
<path d="M338.6,344.4L338.8,336.1 339.1,323.2 339.3,309 339.6,297.8 339.8,291.6 340.1,289.6 340.3,289.3 340.6,289.3 340.8,290 341.1,293.7 341.3,302.9 341.6,317.8 341.8,335 342.1,349.1 342.3,357.3 342.6,360.3 342.8,360.8 343.1,360.7 343.3,360.2 343.6,357.1 343.8,348.5 344.1,334" stroke="#d4101c" stroke-width="1.2" fill="none" stroke-linejoin="round"/>
<path d="M338.6,282.6L338.8,290.1 339.1,301.6 339.3,314.3 339.6,324.3 339.8,329.8 340.1,331.6 340.3,331.9 340.6,331.9 340.8,331.2 341.1,327.7 341.3,318.8 341.6,304.5 341.8,288.1 342.1,274.5 342.3,266.7 342.6,263.8 342.8,263.4 343.1,263.4 343.3,264 343.6,267.3 343.8,276.2 344.1,291.5" stroke="#1c12b8" stroke-width="1.2" fill="none" stroke-linejoin="round"/>
<path d="M343.6,267.3L343.8,276.2 344.1,291.5 344.3,309.8 344.6,325.6 344.8,335.2 345.1,338.9 345.3,339.6 345.6,339.6 345.8,339.3 346.1,337.3 346.3,331.2 346.6,320.4 346.8,306.9 347.1,294.8 347.3,287 347.6,283.8 347.8,283.1 348.1,283.1 348.3,283.3 348.6,285.2 348.8,291.1 349.1,302.4" stroke="#1c12b8" stroke-width="1.2" fill="none" stroke-linejoin="round"/>
<path d="M343.6,357.1L343.8,348.5 344.1,334 344.3,316.5 344.6,301.5 344.8,292.4 345.1,288.9 345.3,288.2 345.6,288.2 345.8,288.5 346.1,290.7 346.3,297.2 346.6,308.9 346.8,323.5 347.1,336.6 347.3,344.9 347.6,348.4 347.8,349.2 348.1,349.2 348.3,349 348.6,347 348.8,340.9 349.1,329.4" stroke="#d4101c" stroke-width="1.2" fill="none" stroke-linejoin="round"/>
<path d="M348.6,285.2L348.8,291.1 349.1,302.4 349.3,317.1 349.6,330.9 349.8,340.1 350.1,344.2 350.3,345.2 350.6,345.2 350.8,345.1 351.1,343.8 351.3,339.3 351.6,330.2 351.8,317.9 352.1,305.8 352.3,297.3 352.6,293.3 352.8,292.2 353.1,292.2 353.3,292.2 353.6,293.1 353.8,296.6 354.1,304" stroke="#1c12b8" stroke-width="1.2" fill="none" stroke-linejoin="round"/>
<path d="M348.6,347L348.8,340.9 349.1,329.4 349.3,314.3 349.6,300.1 349.8,290.6 350.1,286.4 350.3,285.4 350.6,285.4 350.8,285.5 351.1,287 351.3,292 351.6,302 351.8,315.7 352.1,329.1 352.3,338.5 352.6,342.9 352.8,344.1 353.1,344.1 353.3,344.1 353.6,342.9 353.8,338.6 354.1,329.5" stroke="#d4101c" stroke-width="1.2" fill="none" stroke-linejoin="round"/>
<path d="M353.6,342.9L353.8,338.6 354.1,329.5 354.3,316.4 354.6,303.1 354.8,293.4 355.1,288.5 355.3,287.1 355.6,287 355.8,287 356.1,287.9 356.3,291.8 356.6,300.5 356.8,313.6 357.1,327.5 357.3,338.2 357.6,343.8 357.8,345.6 358.1,345.8 358.3,345.8 358.6,345.1 358.8,342 359.1,334.6" stroke="#d4101c" stroke-width="1.2" fill="none" stroke-linejoin="round"/>
<path d="M353.6,293.1L353.8,296.6 354.1,304 354.3,314.5 354.6,325.2 354.8,333.1 355.1,337 355.3,338.2 355.6,338.3 355.8,338.2 356.1,337.3 356.3,333.3 356.6,324.3 356.8,310.8 357.1,296.5 357.3,285.5 357.6,279.7 357.8,277.9 358.1,277.7 358.3,277.7 358.6,278.5 358.8,282.3 359.1,291.4" stroke="#1c12b8" stroke-width="1.2" fill="none" stroke-linejoin="round"/>
<path d="M358.6,345.1L358.8,342 359.1,334.6 359.3,322.9 359.6,309.9 359.8,299.6 360.1,293.8 360.3,291.8 360.6,291.5 360.8,291.5 361.1,292 361.3,294.7 361.6,301.7 361.8,313.1 362.1,326.3 362.3,337.4 362.6,343.9 362.8,346.3 363.1,346.7 363.3,346.7 363.6,346.3 363.8,343.9 364.1,337.3" stroke="#d4101c" stroke-width="1.2" fill="none" stroke-linejoin="round"/>
<path d="M358.6,278.5L358.8,282.3 359.1,291.4 359.3,305.7 359.6,321.6 359.8,334.3 360.1,341.4 360.3,343.8 360.6,344.1 360.8,344.1 361.1,343.6 361.3,340.8 361.6,333.8 361.8,322.1 362.1,308.6 362.3,297.3 362.6,290.7 362.8,288.2 363.1,287.8 363.3,287.8 363.6,288.2 363.8,290.5 364.1,297" stroke="#1c12b8" stroke-width="1.2" fill="none" stroke-linejoin="round"/>
<path d="M363.6,346.3L363.8,343.9 364.1,337.3 364.3,325.9 364.6,312.1 364.8,300 365.1,292.6 365.3,289.7 365.6,289.1 365.8,289.1 366.1,289.3 366.3,290.9 366.6,295.8 366.8,304.7 367.1,315.9 367.3,326.1 367.6,332.7 367.8,335.5 368.1,336.1 368.3,336.2 368.6,336 368.8,334.5 369.1,329.7" stroke="#d4101c" stroke-width="1.2" fill="none" stroke-linejoin="round"/>
<path d="M363.6,288.2L363.8,290.5 364.1,297 364.3,308.1 364.6,321.7 364.8,333.4 365.1,340.7 365.3,343.6 365.6,344.1 365.8,344.2 366.1,343.9 366.3,342 366.6,336.3 366.8,325.9 367.1,312.7 367.3,300.7 367.6,293 367.8,289.7 368.1,289 368.3,288.9 368.6,289.1 368.8,290.7 369.1,295.8" stroke="#1c12b8" stroke-width="1.2" fill="none" stroke-linejoin="round"/>
<path d="M368.6,289.1L368.8,290.7 369.1,295.8 369.3,305.5 369.6,318.4 369.8,330.7 370.1,339 370.3,342.7 370.6,343.7 370.8,343.7 371.1,343.6 371.3,342.3 371.6,337.5 371.8,327.9 372.1,314.6 372.3,301.5 372.6,292.1 372.8,287.6 373.1,286.4 373.3,286.3 373.6,286.4 373.8,287.3 374.1,290.9" stroke="#1c12b8" stroke-width="1.2" fill="none" stroke-linejoin="round"/>
<path d="M368.6,336L368.8,334.5 369.1,329.7 369.3,320.5 369.6,308.2 369.8,296.6 370.1,288.8 370.3,285.2 370.6,284.3 370.8,284.3 371.1,284.4 371.3,286.1 371.6,292 371.8,304 372.1,320.5 372.3,336.9 372.6,348.6 372.8,354.1 373.1,355.7 373.3,355.8 373.6,355.7 373.8,354.5 374.1,349.6" stroke="#d4101c" stroke-width="1.2" fill="none" stroke-linejoin="round"/>
<path d="M373.6,286.4L373.8,287.3 374.1,290.9 374.3,298.6 374.6,309.8 374.8,321.3 375.1,329.9 375.3,334.2 375.6,335.5 375.8,335.7 376.1,335.6 376.3,334.9 376.6,331.5 376.8,323.8 377.1,312.1 377.3,299.5 377.6,289.7 377.8,284.5 378.1,282.8 378.3,282.6 378.6,282.6 378.8,283.3 379.1,286.8" stroke="#1c12b8" stroke-width="1.2" fill="none" stroke-linejoin="round"/>
<path d="M373.6,355.7L373.8,354.5 374.1,349.6 374.3,339.1 374.6,323.9 374.8,308.3 375.1,296.6 375.3,290.7 375.6,289 375.8,288.8 376.1,288.8 376.3,289.8 376.6,293.8 376.8,303 377.1,317 377.3,332 377.6,343.7 377.8,350 378.1,352 378.3,352.3 378.6,352.2 378.8,351.5 379.1,347.9" stroke="#d4101c" stroke-width="1.2" fill="none" stroke-linejoin="round"/>
<path d="M378.6,352.2L378.8,351.5 379.1,347.9 379.3,338.9 379.6,324.7 379.8,308.8 380.1,295.8 380.3,288.5 380.6,285.9 380.8,285.6 381.1,285.6 381.3,286 381.6,288.6 381.8,295.3 382.1,306.5 382.3,319.7 382.6,330.8 382.8,337.5 383.1,340 383.3,340.4 383.6,340.4 383.8,340.1 384.1,337.9" stroke="#d4101c" stroke-width="1.2" fill="none" stroke-linejoin="round"/>
<path d="M378.6,282.6L378.8,283.3 379.1,286.8 379.3,295.4 379.6,309 379.8,324.3 380.1,336.8 380.3,343.8 380.6,346.3 380.8,346.6 381.1,346.6 381.3,346.1 381.6,343.4 381.8,336.3 382.1,324.4 382.3,310.4 382.6,298.6 382.8,291.6 383.1,288.9 383.3,288.4 383.6,288.4 383.8,288.7 384.1,290.6" stroke="#1c12b8" stroke-width="1.2" fill="none" stroke-linejoin="round"/>
<path d="M383.6,288.4L383.8,288.7 384.1,290.6 384.3,295.9 384.6,305.1 384.8,316.5 385.1,326.5 385.3,332.8 385.6,335.4 385.8,335.9 386.1,335.9 386.3,335.7 386.6,334.4 386.8,330.4 387.1,322.9 387.3,313.4 387.6,304.6 387.8,298.8 388.1,296.3 388.3,295.7 388.6,295.7 388.8,295.9 389.1,297.4" stroke="#1c12b8" stroke-width="1.2" fill="none" stroke-linejoin="round"/>
<path d="M383.6,340.4L383.8,340.1 384.1,337.9 384.3,331.6 384.6,320.7 384.8,307.3 385.1,295.5 385.3,288.1 385.6,285.1 385.8,284.5 386.1,284.5 386.3,284.7 386.6,286.3 386.8,291.3 387.1,300.6 387.3,312.5 387.6,323.5 387.8,330.7 388.1,333.8 388.3,334.5 388.6,334.5 388.8,334.4 389.1,333.1" stroke="#d4101c" stroke-width="1.2" fill="none" stroke-linejoin="round"/>
<path d="M388.6,334.5L388.8,334.4 389.1,333.1 389.3,328.9 389.6,320.6 389.8,309.5 390.1,298.8 390.3,291.5 390.6,288.1 390.8,287.3 391.1,287.2 391.3,287.3 391.6,288.4 391.8,292.2 392.1,300.1 392.3,311.2 392.6,322.4 392.8,330.4 393.1,334.3 393.3,335.4 393.6,335.5 393.8,335.4 394.1,334.8" stroke="#d4101c" stroke-width="1.2" fill="none" stroke-linejoin="round"/>
<path d="M388.6,295.7L388.8,295.9 389.1,297.4 389.3,302.5 389.6,312.3 389.8,325.6 390.1,338.3 390.3,347.1 390.6,351.1 390.8,352.1 391.1,352.2 391.3,352.1 391.6,350.8 391.8,346.1 392.1,336.4 392.3,322.8 392.6,309.2 392.8,299.5 393.1,294.7 393.3,293.4 393.6,293.3 393.8,293.3 394.1,293.9" stroke="#1c12b8" stroke-width="1.2" fill="none" stroke-linejoin="round"/>
<path d="M393.6,293.3L393.8,293.3 394.1,293.9 394.3,296.5 394.6,302.1 394.8,310.3 395.1,318.9 395.3,325.4 395.6,328.7 395.8,329.8 396.1,329.9" stroke="#1c12b8" stroke-width="1.2" fill="none" stroke-linejoin="round"/>
<path d="M393.6,335.5L393.8,335.4 394.1,334.8 394.3,332.2 394.6,326.5 394.8,318.1 395.1,309.4 395.3,302.8 395.6,299.4 395.8,298.3 396.1,298.2" stroke="#d4101c" stroke-width="1.2" fill="none" stroke-linejoin="round"/>
<path d="M396.2,274.6L396.4,279.6 396.7,284.5 396.9,288 397.2,289.6 397.4,290 397.7,290 397.9,290 398.2,290 398.4,289.7 398.7,289.2 398.9,288.4 399.2,287.6 399.4,287 399.7,286.7 399.9,286.6 400.2,286.6 400.4,286.6 400.7,286.8 400.9,287.5 401.2,289 401.4,291.4 401.7,293.8 401.9,295.7 402.2,296.7 402.4,297.1 402.7,297.1 402.9,297.1 403.2,297.1 403.4,296.9 403.7,296.6 403.9,296 404.2,295.5 404.4,295 404.7,294.7 404.9,294.6 405.2,294.6 405.4,294.6 405.7,294.7 405.9,295.2 406.2,296.5 406.4,298.6 406.7,301 406.9,303 407.2,304.2 407.4,304.6 407.7,304.7 407.9,304.7 408.2,304.7 408.4,304.4" stroke="#d4101c" stroke-width="1.2" fill="none" stroke-linejoin="round"/>
<path d="M396.2,354.1L396.4,349.1 396.7,344.2 396.9,340.7 397.2,339.1 397.4,338.7 397.7,338.7 397.9,338.7 398.2,338.7 398.4,338.9 398.7,339.3 398.9,339.9 399.2,340.4 399.4,340.8 399.7,341.1 399.9,341.1 400.2,341.1 400.4,341.1 400.7,340.9 400.9,340.2 401.2,338.5 401.4,336 401.7,333.4 401.9,331.3 402.2,330.2 402.4,329.9 402.7,329.9 402.9,329.9 403.2,329.9 403.4,330.2 403.7,330.9 403.9,332 404.2,333.3 404.4,334.2 404.7,334.8 404.9,335 405.2,335 405.4,335 405.7,334.9 405.9,334.3 406.2,332.9 406.4,330.6 406.7,327.8 406.9,325.6 407.2,324.2 407.4,323.7 407.7,323.7 407.9,323.7 408.2,323.7 408.4,323.9" stroke="#1c12b8" stroke-width="1.2" fill="none" stroke-linejoin="round"/>
<path d="M407.9,323.7L408.2,323.7 408.4,323.9 408.7,324.5 408.9,325.6 409.2,326.8 409.4,327.9 409.7,328.6 409.9,328.9 410.2,328.9 410.4,328.9 410.7,328.9 410.9,328.6 411.2,327.7 411.4,326 411.7,323.9 411.9,322 412.2,320.8 412.4,320.3 412.7,320.2 412.9,320.2 413.2,320.2 413.4,320.4 413.7,321 413.9,322.3 414.2,323.9 414.4,325.5 414.7,326.6 414.9,327.1 415.2,327.2 415.4,327.2 415.7,327.2 415.9,326.9 416.2,325.8 416.4,323.7 416.7,320.7 416.9,317.7 417.2,315.6 417.4,314.6 417.7,314.3 417.9,314.3 418.2,314.3 418.4,314.5 418.7,315.1 418.9,316.5 419.2,318.4 419.4,320.5 419.7,322 419.9,322.7 420.2,323 420.4,323" stroke="#1c12b8" stroke-width="1.2" fill="none" stroke-linejoin="round"/>
<path d="M407.9,304.7L408.2,304.7 408.4,304.4 408.7,303.7 408.9,302.5 409.2,301 409.4,299.7 409.7,298.9 409.9,298.6 410.2,298.6 410.4,298.6 410.7,298.6 410.9,299 411.2,300.2 411.4,302.5 411.7,305.3 411.9,307.8 412.2,309.5 412.4,310.2 412.7,310.3 412.9,310.3 413.2,310.3 413.4,310.1 413.7,309.3 413.9,307.8 414.2,305.8 414.4,303.9 414.7,302.6 414.9,302 415.2,301.9 415.4,301.9 415.7,301.9 415.9,302.2 416.2,303.1 416.4,304.9 416.7,307.4 416.9,309.9 417.2,311.6 417.4,312.5 417.7,312.7 417.9,312.7 418.2,312.7 418.4,312.4 418.7,311.5 418.9,309.5 419.2,306.5 419.4,303.5 419.7,301.2 419.9,300 420.2,299.7 420.4,299.7" stroke="#d4101c" stroke-width="1.2" fill="none" stroke-linejoin="round"/>
<path d="M419.9,300L420.2,299.7 420.4,299.7 420.7,299.7 420.9,299.9 421.2,300.8 421.4,302.9 421.7,306.2 421.9,309.6 422.2,312.3 422.4,313.8 422.7,314.2 422.9,314.3 423.2,314.3 423.4,314.2 423.7,313.7 423.9,312.5 424.2,310.5 424.4,308.4 424.7,306.6 424.9,305.6 425.2,305.3 425.4,305.2 425.7,305.2 425.9,305.3 426.2,305.9 426.4,307.3 426.7,309.7 426.9,312.6 427.2,315 427.4,316.4 427.7,317 427.9,317.1 428.2,317.1 428.4,317 428.7,316.5 428.9,315.2 429.2,312.8 429.4,309.9 429.7,307.3 429.9,305.7 430.2,305 430.4,304.9 430.7,304.9 430.9,305 431.2,305.4 431.4,306.9 431.7,309.6 431.9,313.1 432.2,316.4 432.4,318.5" stroke="#d4101c" stroke-width="1.2" fill="none" stroke-linejoin="round"/>
<path d="M419.9,322.7L420.2,323 420.4,323 420.7,323 420.9,322.8 421.2,322.2 421.4,320.7 421.7,318.5 421.9,316.1 422.2,314.2 422.4,313.2 422.7,312.9 422.9,312.8 423.2,312.8 423.4,312.9 423.7,313.5 423.9,315 424.2,317.3 424.4,319.9 424.7,322.1 424.9,323.3 425.2,323.7 425.4,323.7 425.7,323.7 425.9,323.6 426.2,323 426.4,321.4 426.7,318.8 426.9,315.7 427.2,313.1 427.4,311.5 427.7,310.9 427.9,310.8 428.2,310.8 428.4,310.9 428.7,311.4 428.9,312.7 429.2,315.1 429.4,318 429.7,320.6 429.9,322.2 430.2,322.9 430.4,323 430.7,323 430.9,323 431.2,322.5 431.4,321.2 431.7,318.7 431.9,315.5 432.2,312.5 432.4,310.6" stroke="#1c12b8" stroke-width="1.2" fill="none" stroke-linejoin="round"/>
<path d="M431.9,313.1L432.2,316.4 432.4,318.5 432.7,319.4 432.9,319.6 433.2,319.6 433.4,319.6 433.7,319.2 433.9,317.9 434.2,315.4 434.4,312 434.7,308.8 434.9,306.6 435.2,305.5 435.4,305.3 435.7,305.3 435.9,305.3 436.2,305.6 436.4,306.6 436.7,308.8 436.9,311.8 437.2,314.8 437.4,317 437.7,318.1 437.9,318.4 438.2,318.4 438.4,318.4 438.7,318.2 438.9,317.3 439.2,315.3 439.4,312.4 439.7,309.3 439.9,307 440.2,305.9 440.4,305.5 440.7,305.5 440.9,305.5 441.2,305.7 441.4,306.9 441.7,309.5 441.9,313.6 442.2,318 442.4,321.4 442.7,323.3 442.9,324 443.2,324 443.4,324 443.7,323.8 443.9,322.8 444.2,320.2 444.4,316" stroke="#d4101c" stroke-width="1.2" fill="none" stroke-linejoin="round"/>
<path d="M431.9,315.5L432.2,312.5 432.4,310.6 432.7,309.7 432.9,309.5 433.2,309.5 433.4,309.6 433.7,310 433.9,311.4 434.2,314.1 434.4,317.8 434.7,321.4 434.9,323.8 435.2,324.9 435.4,325.2 435.7,325.2 435.9,325.2 436.2,324.8 436.4,323.5 436.7,320.7 436.9,316.9 437.2,313.1 437.4,310.3 437.7,309 437.9,308.6 438.2,308.6 438.4,308.6 438.7,308.8 438.9,309.9 439.2,312.1 439.4,315.5 439.7,318.9 439.9,321.5 440.2,322.9 440.4,323.3 440.7,323.3 440.9,323.3 441.2,323.1 441.4,322.2 441.7,320 441.9,316.5 442.2,312.8 442.4,309.9 442.7,308.3 442.9,307.8 443.2,307.7 443.4,307.7 443.7,307.9 443.9,308.6 444.2,310.4 444.4,313.3" stroke="#1c12b8" stroke-width="1.2" fill="none" stroke-linejoin="round"/>
<path d="M443.9,308.6L444.2,310.4 444.4,313.3 444.7,316.6 444.9,319.3 445.2,320.9 445.4,321.4 445.7,321.5 445.9,321.5 446.2,321.4 446.4,320.8 446.7,319 446.9,316.1 447.2,312.6 447.4,309.6 447.7,307.8 447.9,307.1 448.2,307 448.4,307 448.7,307 448.9,307.6 449.2,309 449.4,311.7 449.7,315 449.9,318 450.2,319.8 450.4,320.6 450.7,320.8 450.9,320.8 451.2,320.8 451.4,320.4 451.7,319.5 451.9,317.7 452.2,315.3 452.4,313.1 452.7,311.6 452.9,311 453.2,310.8 453.4,310.8 453.7,310.8 453.9,311 454.2,311.7 454.4,313.1 454.7,315 454.9,316.8 455.2,318.1 455.4,318.6 455.7,318.8 455.9,318.8 456.2,318.8 456.4,318.6" stroke="#1c12b8" stroke-width="1.2" fill="none" stroke-linejoin="round"/>
<path d="M443.9,322.8L444.2,320.2 444.4,316 444.7,311.1 444.9,307.2 445.2,304.9 445.4,304.1 445.7,304 445.9,304 446.2,304.1 446.4,304.7 446.7,306.2 446.9,308.7 447.2,311.8 447.4,314.4 447.7,315.9 447.9,316.5 448.2,316.7 448.4,316.7 448.7,316.6 448.9,316.3 449.2,315.3 449.4,313.6 449.7,311.4 449.9,309.5 450.2,308.2 450.4,307.7 450.7,307.6 450.9,307.6 451.2,307.7 451.4,308 451.7,309 451.9,310.8 452.2,313.1 452.4,315.3 452.7,316.8 452.9,317.5 453.2,317.6 453.4,317.6 453.7,317.6 453.9,317.4 454.2,316.6 454.4,315.2 454.7,313.2 454.9,311.3 455.2,309.9 455.4,309.3 455.7,309.2 455.9,309.1 456.2,309.2 456.4,309.3" stroke="#d4101c" stroke-width="1.2" fill="none" stroke-linejoin="round"/>
<path d="M455.9,309.1L456.2,309.2 456.4,309.3 456.7,310 456.9,311.5 457.2,313.5 457.4,315.5 457.7,317 457.9,317.8 458.2,318 458.4,318 458.7,318 458.9,317.8 459.2,317.1 459.4,315.6 459.7,313.2 459.9,310.7 460.2,308.9 460.4,307.9 460.7,307.6 460.9,307.5 461.2,307.5 461.4,307.7 461.7,308.4 461.9,310.1 462.2,312.7 462.4,315.6 462.7,317.9 462.9,319.2 463.2,319.6 463.4,319.7 463.7,319.7 463.9,319.6 464.2,319 464.4,317.5 464.7,315 464.9,312.1 465.2,309.7 465.4,308.3 465.7,307.8 465.9,307.7 466.2,307.7 466.4,307.8 466.7,308.4 466.9,309.8 467.2,312.3 467.4,315.4 467.7,318 467.9,319.6 468.2,320.2 468.4,320.3" stroke="#d4101c" stroke-width="1.2" fill="none" stroke-linejoin="round"/>
<path d="M455.9,318.8L456.2,318.8 456.4,318.6 456.7,318 456.9,316.7 457.2,314.8 457.4,312.8 457.7,311.4 457.9,310.7 458.2,310.5 458.4,310.5 458.7,310.5 458.9,310.7 459.2,311.3 459.4,312.7 459.7,314.8 459.9,317 460.2,318.7 460.4,319.6 460.7,319.9 460.9,319.9 461.2,319.9 461.4,319.8 461.7,319.2 461.9,317.8 462.2,315.6 462.4,313.1 462.7,311.2 462.9,310.2 463.2,309.8 463.4,309.7 463.7,309.7 463.9,309.8 464.2,310.3 464.4,311.5 464.7,313.5 464.9,315.8 465.2,317.7 465.4,318.8 465.7,319.2 465.9,319.2 466.2,319.2 466.4,319.2 466.7,318.6 466.9,317.2 467.2,314.6 467.4,311.6 467.7,309 467.9,307.4 468.2,306.7 468.4,306.6" stroke="#1c12b8" stroke-width="1.2" fill="none" stroke-linejoin="round"/>
<path d="M467.9,319.6L468.2,320.2 468.4,320.3 468.7,320.3 468.9,320.3 469.2,319.8 469.4,318.4 469.7,316 469.9,312.9 470.2,310 470.4,308.2 470.7,307.5 470.9,307.3 471.2,307.3 471.4,307.3 471.7,307.8 471.9,309.2 472.2,311.9 472.4,315.4 472.7,318.7 472.9,321 473.2,322 473.4,322.2 473.7,322.2 473.9,322.2 474.2,321.7 474.4,320.2 474.7,317.1 474.9,312.9 475.2,308.8 475.4,305.8 475.7,304.5 475.9,304.1 476.2,304.1 476.4,304.1 476.7,304.4 476.9,305.8 477.2,308.8 477.4,313.1 477.7,317.6 477.9,320.8 478.2,322.5 478.4,323 478.7,323 478.9,323 479.2,322.7 479.4,321.7 479.7,319.3 479.9,315.7 480.2,311.8 480.4,308.9" stroke="#d4101c" stroke-width="1.2" fill="none" stroke-linejoin="round"/>
<path d="M467.9,307.4L468.2,306.7 468.4,306.6 468.7,306.6 468.9,306.7 469.2,307.3 469.4,308.9 469.7,312 469.9,315.8 470.2,319.3 470.4,321.5 470.7,322.4 470.9,322.6 471.2,322.6 471.4,322.6 471.7,322 471.9,320.4 472.2,317.2 472.4,313 472.7,309 472.9,306.4 473.2,305.2 473.4,304.9 473.7,304.9 473.9,304.9 474.2,305.4 474.4,306.9 474.7,310 474.9,314.3 475.2,318.5 475.4,321.5 475.7,322.9 475.9,323.3 476.2,323.3 476.4,323.3 476.7,323 476.9,321.8 477.2,319.1 477.4,315.3 477.7,311.4 477.9,308.5 478.2,307 478.4,306.6 478.7,306.5 478.9,306.5 479.2,306.8 479.4,307.7 479.7,310 479.9,313.3 480.2,316.9 480.4,319.7" stroke="#1c12b8" stroke-width="1.2" fill="none" stroke-linejoin="round"/>
<path d="M479.9,315.7L480.2,311.8 480.4,308.9 480.7,307.3 480.9,306.8 481.2,306.7 481.4,306.7 481.7,306.9 481.9,307.9 482.2,310.3 482.4,314 482.7,318.2 482.9,321.6 483.2,323.5 483.4,324.1 483.7,324.2 483.9,324.2 484.2,324.1 484.4,323.2 484.7,320.9 484.9,317.1 485.2,312.7 485.4,309 485.7,306.8 485.9,306 486.2,305.9 486.4,305.9 486.7,306 486.9,306.6 487.2,308.4 487.4,311.5 487.7,315.3 487.9,318.7 488.2,320.7 488.4,321.6 488.7,321.7 488.9,321.7 489.2,321.7 489.4,321.2 489.7,319.9 489.9,317.5 490.2,314.4 490.4,311.5 490.7,309.7 490.9,308.9 491.2,308.7 491.4,308.7 491.7,308.7 491.9,309 492.2,310 492.4,311.8" stroke="#d4101c" stroke-width="1.2" fill="none" stroke-linejoin="round"/>
<path d="M479.9,313.3L480.2,316.9 480.4,319.7 480.7,321.1 480.9,321.6 481.2,321.7 481.4,321.7 481.7,321.5 481.9,320.7 482.2,318.6 482.4,315.5 482.7,311.9 482.9,309 483.2,307.4 483.4,306.9 483.7,306.8 483.9,306.8 484.2,306.9 484.4,307.7 484.7,309.9 484.9,313.4 485.2,317.5 485.4,320.9 485.7,322.9 485.9,323.7 486.2,323.8 486.4,323.8 486.7,323.7 486.9,323 487.2,321.1 487.4,317.6 487.7,313.5 487.9,309.8 488.2,307.6 488.4,306.7 488.7,306.5 488.9,306.5 489.2,306.5 489.4,307 489.7,308.2 489.9,310.5 490.2,313.5 490.4,316.2 490.7,318 490.9,318.7 491.2,318.9 491.4,318.9 491.7,318.9 491.9,318.6 492.2,317.7 492.4,315.9" stroke="#1c12b8" stroke-width="1.2" fill="none" stroke-linejoin="round"/>
<path d="M491.9,318.6L492.2,317.7 492.4,315.9 492.7,313.5 492.9,311.3 493.2,309.7 493.4,309 493.7,308.9 493.9,308.9 494.2,308.9 494.4,309.1 494.7,309.8 494.9,311.3 495.2,313.4 495.4,315.5 495.7,316.9 495.9,317.7 496.2,317.8 496.4,317.9 496.7,317.9 496.9,317.7 497.2,317.1 497.4,315.7 497.7,313.7 497.9,311.7 498.2,310.2 498.4,309.4 498.7,309.1 498.9,309.1 499.2,309.1 499.4,309.2 499.7,309.8 499.9,311.1 500.2,313 500.4,315.2 500.7,316.8 500.9,317.7 501.2,318 501.4,318.1 501.7,318.1 501.9,318 502.2,317.6 502.4,316.6 502.7,315 502.9,313.2 503.2,311.7 503.4,310.9 503.7,310.6 503.9,310.5 504.2,310.5 504.4,310.6" stroke="#1c12b8" stroke-width="1.2" fill="none" stroke-linejoin="round"/>
<path d="M491.9,309L492.2,310 492.4,311.8 492.7,314.2 492.9,316.6 493.2,318.1 493.4,318.9 493.7,319.1 493.9,319.1 494.2,319 494.4,318.8 494.7,318.1 494.9,316.6 495.2,314.4 495.4,312.3 495.7,310.8 495.9,310.1 496.2,309.9 496.4,309.9 496.7,309.9 496.9,310 497.2,310.4 497.4,311.5 497.7,313 497.9,314.5 498.2,315.6 498.4,316.2 498.7,316.4 498.9,316.4 499.2,316.4 499.4,316.3 499.7,315.8 499.9,314.6 500.2,312.8 500.4,310.9 500.7,309.3 500.9,308.5 501.2,308.2 501.4,308.2 501.7,308.2 501.9,308.3 502.2,309 502.4,310.5 502.7,312.9 502.9,315.7 503.2,318 503.4,319.3 503.7,319.7 503.9,319.8 504.2,319.8 504.4,319.7" stroke="#d4101c" stroke-width="1.2" fill="none" stroke-linejoin="round"/>
<path d="M503.9,310.5L504.2,310.5 504.4,310.6 504.7,311 504.9,312.1 505.2,313.9 505.4,316 505.7,317.8 505.9,318.9 506.2,319.3 506.4,319.4 506.7,319.4 506.9,319.3 507.2,318.9 507.4,317.8 507.7,315.9 507.9,313.5 508.2,311.3 508.4,310 508.7,309.5 508.9,309.3 509.2,309.3 509.4,309.4 509.7,309.6 509.9,310.5 510.2,312 510.4,313.9 510.7,315.8 510.9,316.9 511.2,317.5 511.4,317.6 511.7,317.6 511.9,317.6 512.2,317.3 512.4,316.5 512.7,315 512.9,312.8 513.2,310.8 513.4,309.4 513.7,308.7 513.9,308.5 514.2,308.5 514.4,308.5 514.7,308.8 514.9,309.8 515.2,311.9 515.4,314.9 515.7,317.9 515.9,320 516.2,321.1 516.4,321.4" stroke="#1c12b8" stroke-width="1.2" fill="none" stroke-linejoin="round"/>
<path d="M503.9,319.8L504.2,319.8 504.4,319.7 504.7,319.2 504.9,318 505.2,315.9 505.4,313.4 505.7,311.3 505.9,310 506.2,309.5 506.4,309.5 506.7,309.4 506.9,309.5 507.2,309.9 507.4,311.1 507.7,313.2 507.9,315.8 508.2,318.1 508.4,319.6 508.7,320.2 508.9,320.3 509.2,320.3 509.4,320.2 509.7,319.9 509.9,318.7 510.2,316.6 510.4,313.9 510.7,311.4 510.9,309.7 511.2,309 511.4,308.8 511.7,308.8 511.9,308.8 512.2,309.1 512.4,310.1 512.7,311.9 512.9,314.5 513.2,316.9 513.4,318.6 513.7,319.4 513.9,319.6 514.2,319.6 514.4,319.6 514.7,319.4 514.9,318.8 515.2,317.5 515.4,315.7 515.7,313.9 515.9,312.6 516.2,311.9 516.4,311.7" stroke="#d4101c" stroke-width="1.2" fill="none" stroke-linejoin="round"/>
<path d="M515.9,312.6L516.2,311.9 516.4,311.7 516.7,311.7 516.9,311.7 517.2,311.8 517.4,312.3 517.7,313.5 517.9,315.1 518.2,316.8 518.4,318.1 518.7,318.8 518.9,319 519.2,319 519.4,319 519.7,318.9 519.9,318.2 520.2,316.7 520.4,314.3 520.7,311.7 520.9,309.7 521.2,308.6 521.4,308.2 521.7,308.1 521.9,308.1 522.2,308.3 522.4,309 522.7,310.9 522.9,313.9 523.2,317.4 523.4,320.2 523.7,321.9 523.9,322.5 524.2,322.6 524.4,322.6 524.7,322.4 524.9,321.6 525.2,319.5 525.4,315.9 525.7,311.6 525.9,307.9 526.2,305.7 526.4,304.8 526.7,304.6 526.9,304.6 527.2,304.7 527.4,305.4 527.7,307.5 527.9,311.3 528.2,316 528.4,320.2" stroke="#d4101c" stroke-width="1.2" fill="none" stroke-linejoin="round"/>
<path d="M515.9,320L516.2,321.1 516.4,321.4 516.7,321.4 516.9,321.4 517.2,321.2 517.4,320.5 517.7,318.9 517.9,316.5 518.2,314 518.4,312.1 518.7,311.1 518.9,310.8 519.2,310.7 519.4,310.7 519.7,310.9 519.9,311.5 520.2,313.1 520.4,315.5 520.7,318.1 520.9,320.2 521.2,321.4 521.4,321.7 521.7,321.8 521.9,321.8 522.2,321.7 522.4,321 522.7,319.3 522.9,316.6 523.2,313.5 523.4,310.9 523.7,309.5 523.9,308.9 524.2,308.8 524.4,308.8 524.7,308.9 524.9,309.4 525.2,310.8 525.4,313.2 525.7,316 525.9,318.4 526.2,319.9 526.4,320.5 526.7,320.6 526.9,320.6 527.2,320.5 527.4,320 527.7,318.5 527.9,315.9 528.2,312.6 528.4,309.6" stroke="#1c12b8" stroke-width="1.2" fill="none" stroke-linejoin="round"/>
<path d="M527.9,315.9L528.2,312.6 528.4,309.6 528.7,307.7 528.9,306.9 529.2,306.7 529.4,306.7 529.7,306.8 529.9,307.2 530.2,308.4 530.4,310.7 530.7,313.7 530.9,316.6 531.2,318.5 531.4,319.3 531.7,319.5 531.9,319.5 532.2,319.5 532.4,319.2 532.7,318 532.9,315.7 533.2,312.5 533.4,309.4 533.7,307.2 533.9,306.1 534.2,305.9 534.4,305.8 534.7,305.9 534.9,306.2 535.2,307.3 535.4,309.7 535.7,313.1 535.9,316.5 536.2,319.1 536.4,320.3 536.7,320.7 536.9,320.8 537.2,320.7 537.4,320.6 537.7,319.9 537.9,318.2 538.2,315.8 538.4,313.3 538.7,311.3 538.9,310.2 539.2,309.9 539.4,309.9 539.7,309.9 539.9,310 540.2,310.5 540.4,311.8" stroke="#1c12b8" stroke-width="1.2" fill="none" stroke-linejoin="round"/>
<path d="M527.9,311.3L528.2,316 528.4,320.2 528.7,322.9 528.9,324 529.2,324.3 529.4,324.3 529.7,324.2 529.9,323.7 530.2,322.2 530.4,319.4 530.7,315.7 530.9,312.2 531.2,309.8 531.4,308.8 531.7,308.6 531.9,308.5 532.2,308.6 532.4,308.8 532.7,309.6 532.9,311.2 533.2,313.4 533.4,315.6 533.7,317.1 533.9,317.8 534.2,318 534.4,318 534.7,318 534.9,317.8 535.2,317 535.4,315.3 535.7,313 535.9,310.6 536.2,308.8 536.4,307.9 536.7,307.7 536.9,307.7 537.2,307.7 537.4,307.9 537.7,308.6 537.9,310.4 538.2,313 538.4,315.8 538.7,317.9 538.9,319 539.2,319.4 539.4,319.4 539.7,319.4 539.9,319.3 540.2,318.7 540.4,317.1" stroke="#d4101c" stroke-width="1.2" fill="none" stroke-linejoin="round"/>
<path d="M539.9,319.3L540.2,318.7 540.4,317.1 540.7,314.7 540.9,312.1 541.2,309.9 541.4,308.8 541.7,308.3 541.9,308.3 542.2,308.3 542.4,308.4 542.7,308.9 542.9,310.3 543.2,312.5 543.4,315.1 543.7,317.3 543.9,318.6 544.2,319 544.4,319.1 544.7,319.1 544.9,319.1 545.2,318.6 545.4,317.5 545.7,315.5 545.9,313.1 546.2,310.9 546.4,309.6 546.7,309.1 546.9,309 547.2,309 547.4,309.1 547.7,309.4 547.9,310.3 548.2,311.9 548.4,314 548.7,315.9 548.9,317.1 549.2,317.6 549.4,317.7 549.7,317.7 549.9,317.7 550.2,317.5 550.4,316.6 550.7,315 550.9,312.9 551.2,310.9 551.4,309.5 551.7,308.9 551.9,308.8 552.2,308.7 552.4,308.8" stroke="#d4101c" stroke-width="1.2" fill="none" stroke-linejoin="round"/>
<path d="M539.9,310L540.2,310.5 540.4,311.8 540.7,313.7 540.9,315.9 541.2,317.6 541.4,318.6 541.7,318.9 541.9,319 542.2,319 542.4,318.9 542.7,318.5 542.9,317.5 543.2,315.8 543.4,313.8 543.7,312.2 543.9,311.2 544.2,310.8 544.4,310.8 544.7,310.8 544.9,310.8 545.2,311.2 545.4,312.1 545.7,313.7 545.9,315.7 546.2,317.4 546.4,318.4 546.7,318.8 546.9,318.9 547.2,318.9 547.4,318.9 547.7,318.5 547.9,317.4 548.2,315.4 548.4,312.9 548.7,310.6 548.9,309.1 549.2,308.5 549.4,308.3 549.7,308.3 549.9,308.3 550.2,308.6 550.4,309.5 550.7,311.1 550.9,313.3 551.2,315.4 551.4,316.8 551.7,317.4 551.9,317.6 552.2,317.6 552.4,317.6" stroke="#1c12b8" stroke-width="1.2" fill="none" stroke-linejoin="round"/>
<path d="M551.9,308.8L552.2,308.7 552.4,308.8 552.7,309 552.9,309.9 553.2,311.8 553.4,314.3 553.7,316.8 553.9,318.6 554.2,319.5 554.4,319.7 554.7,319.7 554.9,319.7 555.2,319.5 555.4,318.5 555.7,316.5 555.9,313.6 556.2,310.6 556.4,308.3 556.7,307.2 556.9,306.8 557.2,306.8 557.4,306.8 557.7,307.1 557.9,308.1 558.2,310.4 558.4,313.9 558.7,317.8 558.9,320.7 559.2,322.3 559.4,322.8 559.7,322.9 559.9,322.9 560.2,322.7 560.4,321.8 560.7,319.6 560.9,316.1 561.2,312.2 561.4,309 561.7,307.2 561.9,306.5 562.2,306.4 562.4,306.4 562.7,306.6 562.9,307.3 563.2,309.3 563.4,312.7 563.7,316.6 563.9,319.9 564.2,321.9 564.4,322.6" stroke="#d4101c" stroke-width="1.2" fill="none" stroke-linejoin="round"/>
<path d="M551.9,317.6L552.2,317.6 552.4,317.6 552.7,317.3 552.9,316.6 553.2,315.1 553.4,313.1 553.7,311.1 553.9,309.7 554.2,309 554.4,308.8 554.7,308.8 554.9,308.8 555.2,309 555.4,309.9 555.7,311.9 555.9,314.8 556.2,317.7 556.4,319.9 556.7,321 556.9,321.4 557.2,321.4 557.4,321.4 557.7,321.2 557.9,320.1 558.2,317.7 558.4,314 558.7,310 558.9,306.9 559.2,305.3 559.4,304.8 559.7,304.7 559.9,304.7 560.2,304.9 560.4,306 560.7,308.6 560.9,312.8 561.2,317.6 561.4,321.4 561.7,323.5 561.9,324.3 562.2,324.4 562.4,324.4 562.7,324.3 562.9,323.4 563.2,321.3 563.4,317.8 563.7,313.6 563.9,310 564.2,307.9 564.4,307.1" stroke="#1c12b8" stroke-width="1.2" fill="none" stroke-linejoin="round"/>
<path d="M563.9,310L564.2,307.9 564.4,307.1 564.7,307 564.9,307 565.2,307.1 565.4,307.6 565.7,309.2 565.9,311.9 566.2,315.3 566.4,318.3 566.7,320.2 566.9,320.9 567.2,321.1 567.4,321.1 567.7,321 567.9,320.5 568.2,318.9 568.4,316 568.7,312.4 568.9,309 569.2,306.7 569.4,305.8 569.7,305.5 569.9,305.5 570.2,305.6 570.4,306 570.7,307.5 570.9,310.3 571.2,314.1 571.4,317.7 571.7,320.2 571.9,321.4 572.2,321.7 572.4,321.7 572.7,321.6 572.9,321.3 573.2,320.1 573.4,317.7 573.7,314.2 573.9,310.8 574.2,308.3 574.4,307.1 574.7,306.8 574.9,306.7 575.2,306.8 575.4,307.1 575.7,308.3 575.9,310.9 576.2,314.8 576.4,318.8" stroke="#1c12b8" stroke-width="1.2" fill="none" stroke-linejoin="round"/>
<path d="M563.9,319.9L564.2,321.9 564.4,322.6 564.7,322.8 564.9,322.8 565.2,322.7 565.4,322 565.7,320.2 565.9,317 566.2,313 566.4,309.5 566.7,307.3 566.9,306.5 567.2,306.3 567.4,306.3 567.7,306.3 567.9,306.9 568.2,308.6 568.4,311.8 568.7,315.9 568.9,319.7 569.2,322.1 569.4,323.2 569.7,323.5 569.9,323.5 570.2,323.4 570.4,322.9 570.7,321.3 570.9,318.2 571.2,313.9 571.4,309.9 571.7,307.1 571.9,305.8 572.2,305.5 572.4,305.4 572.7,305.5 572.9,305.8 573.2,307.1 573.4,309.7 573.7,313.4 573.9,317.1 574.2,319.7 574.4,321 574.7,321.3 574.9,321.4 575.2,321.4 575.4,321.1 575.7,320.1 575.9,317.9 576.2,314.8 576.4,311.4" stroke="#d4101c" stroke-width="1.2" fill="none" stroke-linejoin="round"/>
<path d="M575.9,317.9L576.2,314.8 576.4,311.4 576.7,308.9 576.9,307.6 577.2,307.2 577.4,307.2 577.7,307.2 577.9,307.4 578.2,308.5 578.4,311.1" stroke="#d4101c" stroke-width="1.2" fill="none" stroke-linejoin="round"/>
<path d="M575.9,310.9L576.2,314.8 576.4,318.8 576.7,321.9 576.9,323.4 577.2,323.9 577.4,324 577.7,324 577.9,323.7 578.2,322.4 578.4,319.5" stroke="#1c12b8" stroke-width="1.2" fill="none" stroke-linejoin="round"/>
<path d="M30.5,416.4L31.2,427.1 31.9,417.4 32.6,425.1 33.3,418.4" stroke="#ff0000" stroke-width="1.15" fill="none" stroke-linejoin="bevel"/>
<path d="M30.5,417L31.2,428.3 31.9,416.6 32.6,424 33.3,416.4" stroke="#0000ff" stroke-width="1.15" fill="none" stroke-linejoin="bevel"/>
<path d="M30.5,421.3L31.2,430.6 31.9,422.6 32.6,433 33.3,420.7" stroke="#00ee00" stroke-width="1.15" fill="none" stroke-linejoin="bevel"/>
<path d="M33.3,418.4L34,426 34.7,418.1 35.4,427.7 36.1,419.1 36.8,430.9" stroke="#ff0000" stroke-width="1.15" fill="none" stroke-linejoin="bevel"/>
<path d="M33.3,416.4L34,423 34.7,414.8 35.4,424.4 36.1,413.4 36.8,422.6" stroke="#0000ff" stroke-width="1.15" fill="none" stroke-linejoin="bevel"/>
<path d="M33.3,420.7L34,431.1 34.7,421.3 35.4,429.2 36.1,418.4 36.8,429.8" stroke="#00ee00" stroke-width="1.15" fill="none" stroke-linejoin="bevel"/>
<path d="M36.8,430.9L37.5,419.1 38.2,427.6 38.9,419.9 39.6,427" stroke="#ff0000" stroke-width="1.15" fill="none" stroke-linejoin="bevel"/>
<path d="M36.8,422.6L37.5,412.3 38.2,422.3 38.9,414.1 39.6,420.1" stroke="#0000ff" stroke-width="1.15" fill="none" stroke-linejoin="bevel"/>
<path d="M36.8,429.8L37.5,417.3 38.2,428.5 38.9,417.9 39.6,424.6" stroke="#00ee00" stroke-width="1.15" fill="none" stroke-linejoin="bevel"/>
<path d="M39.6,424.6L40.3,417 41,426.7 41.7,418.5 42.4,425.9" stroke="#00ee00" stroke-width="1.15" fill="none" stroke-linejoin="bevel"/>
<path d="M39.6,427L40.3,417.6 41,425.6 41.7,418.1 42.4,428.4" stroke="#ff0000" stroke-width="1.15" fill="none" stroke-linejoin="bevel"/>
<path d="M39.6,420.1L40.3,414.4 41,423.1 41.7,414.9 42.4,424.5" stroke="#0000ff" stroke-width="1.15" fill="none" stroke-linejoin="bevel"/>
<path d="M42.4,428.4L43.1,418.4 43.8,426.1 44.5,418.1 45.2,426.1 45.9,418.4" stroke="#ff0000" stroke-width="1.15" fill="none" stroke-linejoin="bevel"/>
<path d="M42.4,424.5L43.1,411.6 43.8,425.1 44.5,417.3 45.2,427.1 45.9,422.5" stroke="#0000ff" stroke-width="1.15" fill="none" stroke-linejoin="bevel"/>
<path d="M42.4,425.9L43.1,417.9 43.8,428 44.5,419.9 45.2,432.3 45.9,419.9" stroke="#00ee00" stroke-width="1.15" fill="none" stroke-linejoin="bevel"/>
<path d="M45.2,427.1L45.9,422.5 46.6,432.1 47.3,423.1 48,434 48.7,424" stroke="#0000ff" stroke-width="1.15" fill="none" stroke-linejoin="bevel"/>
<path d="M45.2,432.3L45.9,419.9 46.6,429.5 47.3,418.3 48,430.4 48.7,423.2" stroke="#00ee00" stroke-width="1.15" fill="none" stroke-linejoin="bevel"/>
<path d="M45.2,426.1L45.9,418.4 46.6,428.3 47.3,419.2 48,427.2 48.7,418.9" stroke="#ff0000" stroke-width="1.15" fill="none" stroke-linejoin="bevel"/>
<path d="M48.7,424L49.4,430.8 50.1,423.8 50.8,430.6 51.5,421" stroke="#0000ff" stroke-width="1.15" fill="none" stroke-linejoin="bevel"/>
<path d="M48.7,418.9L49.4,430.9 50.1,421.6 50.8,431.1 51.5,422.4" stroke="#ff0000" stroke-width="1.15" fill="none" stroke-linejoin="bevel"/>
<path d="M48.7,423.2L49.4,430.6 50.1,421 50.8,429.2 51.5,422.2" stroke="#00ee00" stroke-width="1.15" fill="none" stroke-linejoin="bevel"/>
<path d="M51.5,422.4L52.2,430 52.9,423.2 53.6,432.1 54.3,423" stroke="#ff0000" stroke-width="1.15" fill="none" stroke-linejoin="bevel"/>
<path d="M51.5,422.2L52.2,431.7 52.9,421.5 53.6,430.5 54.3,419.6" stroke="#00ee00" stroke-width="1.15" fill="none" stroke-linejoin="bevel"/>
<path d="M51.5,421L52.2,429.5 52.9,420.7 53.6,427.5 54.3,419" stroke="#0000ff" stroke-width="1.15" fill="none" stroke-linejoin="bevel"/>
<path d="M54.3,419.6L55,431.2 55.7,419.7 56.4,428.5 57.1,421.2 57.8,430.9" stroke="#00ee00" stroke-width="1.15" fill="none" stroke-linejoin="bevel"/>
<path d="M54.3,419L55,429.3 55.7,417.8 56.4,429.6 57.1,417.9 57.8,427.7" stroke="#0000ff" stroke-width="1.15" fill="none" stroke-linejoin="bevel"/>
<path d="M54.3,423L55,432.1 55.7,422.7 56.4,431 57.1,422 57.8,431.1" stroke="#ff0000" stroke-width="1.15" fill="none" stroke-linejoin="bevel"/>
<path d="M57.8,431.1L58.5,422.3 59.2,430.4 59.9,420.7 60.6,428.7" stroke="#ff0000" stroke-width="1.15" fill="none" stroke-linejoin="bevel"/>
<path d="M57.8,430.9L58.5,420.5 59.2,428.8 59.9,420.8 60.6,429.6" stroke="#00ee00" stroke-width="1.15" fill="none" stroke-linejoin="bevel"/>
<path d="M57.8,427.7L58.5,421.1 59.2,430.8 59.9,418.4 60.6,430.3" stroke="#0000ff" stroke-width="1.15" fill="none" stroke-linejoin="bevel"/>
<path d="M60.6,429.6L61.3,420.1 62,428.3 62.7,420.4 63.4,426.4" stroke="#00ee00" stroke-width="1.15" fill="none" stroke-linejoin="bevel"/>
<path d="M60.6,428.7L61.3,420.5 62,429.9 62.7,420.5 63.4,425.7" stroke="#ff0000" stroke-width="1.15" fill="none" stroke-linejoin="bevel"/>
<path d="M60.6,430.3L61.3,420.2 62,428.1 62.7,415 63.4,428.2" stroke="#0000ff" stroke-width="1.15" fill="none" stroke-linejoin="bevel"/>
<path d="M63.4,425.7L64.1,418.4 64.8,425.7 65.5,414.6 66.2,425.4 66.9,407.8" stroke="#ff0000" stroke-width="1.15" fill="none" stroke-linejoin="bevel"/>
<path d="M63.4,428.2L64.1,418.8 64.8,425.2 65.5,418.7 66.2,426.1 66.9,416.5" stroke="#0000ff" stroke-width="1.15" fill="none" stroke-linejoin="bevel"/>
<path d="M63.4,426.4L64.1,416.2 64.8,427 65.5,414.5 66.2,422.2 66.9,415.7" stroke="#00ee00" stroke-width="1.15" fill="none" stroke-linejoin="bevel"/>
<path d="M66.2,426.1L66.9,416.5 67.6,423.1 68.3,414.4 69,424.7 69.7,415.2" stroke="#0000ff" stroke-width="1.15" fill="none" stroke-linejoin="bevel"/>
<path d="M66.2,425.4L66.9,407.8 67.6,420.8 68.3,413.9 69,424.7 69.7,410.8" stroke="#ff0000" stroke-width="1.15" fill="none" stroke-linejoin="bevel"/>
<path d="M66.2,422.2L66.9,415.7 67.6,422.7 68.3,414.4 69,423.2 69.7,413.9" stroke="#00ee00" stroke-width="1.15" fill="none" stroke-linejoin="bevel"/>
<path d="M69.7,410.8L70.4,425.8 71.1,413.9 71.8,423 72.5,414.2" stroke="#ff0000" stroke-width="1.15" fill="none" stroke-linejoin="bevel"/>
<path d="M69.7,415.2L70.4,425.9 71.1,415.5 71.8,426.1 72.5,418" stroke="#0000ff" stroke-width="1.15" fill="none" stroke-linejoin="bevel"/>
<path d="M69.7,413.9L70.4,422.2 71.1,415.5 71.8,423.5 72.5,416.8" stroke="#00ee00" stroke-width="1.15" fill="none" stroke-linejoin="bevel"/>
<path d="M72.5,418L73.2,431.1 73.9,417.8 74.6,426.6 75.3,417.5" stroke="#0000ff" stroke-width="1.15" fill="none" stroke-linejoin="bevel"/>
<path d="M72.5,414.2L73.2,422.1 73.9,412.2 74.6,421.2 75.3,413" stroke="#ff0000" stroke-width="1.15" fill="none" stroke-linejoin="bevel"/>
<path d="M72.5,416.8L73.2,424.7 73.9,416.8 74.6,425.2 75.3,416.8" stroke="#00ee00" stroke-width="1.15" fill="none" stroke-linejoin="bevel"/>
<path d="M75.3,413L76,424.4 76.7,414.7 77.4,424.6 78.1,418 78.8,425.8" stroke="#ff0000" stroke-width="1.15" fill="none" stroke-linejoin="bevel"/>
<path d="M75.3,417.5L76,427.1 76.7,418.7 77.4,431.7 78.1,419.3 78.8,427.5" stroke="#0000ff" stroke-width="1.15" fill="none" stroke-linejoin="bevel"/>
<path d="M75.3,416.8L76,427.5 76.7,417.6 77.4,426.1 78.1,418.6 78.8,427.5" stroke="#00ee00" stroke-width="1.15" fill="none" stroke-linejoin="bevel"/>
<path d="M78.8,425.8L79.5,418.2 80.2,429.3 80.9,420.8 81.6,427.8" stroke="#ff0000" stroke-width="1.15" fill="none" stroke-linejoin="bevel"/>
<path d="M78.8,427.5L79.5,416.6 80.2,427.8 80.9,419.9 81.6,425.7" stroke="#00ee00" stroke-width="1.15" fill="none" stroke-linejoin="bevel"/>
<path d="M78.8,427.5L79.5,417.9 80.2,425.6 80.9,418.6 81.6,426.5" stroke="#0000ff" stroke-width="1.15" fill="none" stroke-linejoin="bevel"/>
<path d="M81.6,426.5L82.3,416 83,426.3 83.7,417.4 84.4,426.4" stroke="#0000ff" stroke-width="1.15" fill="none" stroke-linejoin="bevel"/>
<path d="M81.6,425.7L82.3,416.1 83,426.3 83.7,415.6 84.4,425.2" stroke="#00ee00" stroke-width="1.15" fill="none" stroke-linejoin="bevel"/>
<path d="M81.6,427.8L82.3,417.6 83,429 83.7,419.3 84.4,426.3" stroke="#ff0000" stroke-width="1.15" fill="none" stroke-linejoin="bevel"/>
<path d="M84.4,426.3L85.1,413.1 85.8,428.3 86.5,418 87.2,427.4 87.9,416.4" stroke="#ff0000" stroke-width="1.15" fill="none" stroke-linejoin="bevel"/>
<path d="M84.4,426.4L85.1,417.1 85.8,426.4 86.5,418.3 87.2,428.1 87.9,418.3" stroke="#0000ff" stroke-width="1.15" fill="none" stroke-linejoin="bevel"/>
<path d="M84.4,425.2L85.1,414.6 85.8,425.8 86.5,415.6 87.2,423.8 87.9,416" stroke="#00ee00" stroke-width="1.15" fill="none" stroke-linejoin="bevel"/>
<path d="M87.2,423.8L87.9,416 88.6,424.6 89.3,417.7 90,427 90.7,419.9" stroke="#00ee00" stroke-width="1.15" fill="none" stroke-linejoin="bevel"/>
<path d="M87.2,427.4L87.9,416.4 88.6,427.9 89.3,417.1 90,428.1 90.7,420" stroke="#ff0000" stroke-width="1.15" fill="none" stroke-linejoin="bevel"/>
<path d="M87.2,428.1L87.9,418.3 88.6,426.6 89.3,417.7 90,427.9 90.7,417.9" stroke="#0000ff" stroke-width="1.15" fill="none" stroke-linejoin="bevel"/>
<path d="M90.7,417.9L91.4,432.8 92.1,418.4 92.8,430.1 93.5,422.1" stroke="#0000ff" stroke-width="1.15" fill="none" stroke-linejoin="bevel"/>
<path d="M90.7,420L91.4,431.7 92.1,422 92.8,434.4 93.5,423.5" stroke="#ff0000" stroke-width="1.15" fill="none" stroke-linejoin="bevel"/>
<path d="M90.7,419.9L91.4,427.8 92.1,421.2 92.8,428.4 93.5,423.3" stroke="#00ee00" stroke-width="1.15" fill="none" stroke-linejoin="bevel"/>
<path d="M93.5,422.1L94.2,429.6 94.9,421.9 95.6,428.4 96.3,419.3" stroke="#0000ff" stroke-width="1.15" fill="none" stroke-linejoin="bevel"/>
<path d="M93.5,423.3L94.2,428.7 94.9,417.1 95.6,429.3 96.3,421.1" stroke="#00ee00" stroke-width="1.15" fill="none" stroke-linejoin="bevel"/>
<path d="M93.5,423.5L94.2,430.1 94.9,422.9 95.6,428 96.3,421.1" stroke="#ff0000" stroke-width="1.15" fill="none" stroke-linejoin="bevel"/>
<path d="M96.3,421.1L97,426.9 97.7,419.2 98.4,431.4 99.1,418.5 99.8,424.1" stroke="#ff0000" stroke-width="1.15" fill="none" stroke-linejoin="bevel"/>
<path d="M96.3,419.3L97,426 97.7,417.4 98.4,427.2 99.1,417.9 99.8,424.8" stroke="#0000ff" stroke-width="1.15" fill="none" stroke-linejoin="bevel"/>
<path d="M96.3,421.1L97,433 97.7,419.7 98.4,426.8 99.1,421 99.8,426.4" stroke="#00ee00" stroke-width="1.15" fill="none" stroke-linejoin="bevel"/>
<path d="M99.8,424.8L100.5,415.6 101.2,425.6 101.9,415.9 102.6,430.9" stroke="#0000ff" stroke-width="1.15" fill="none" stroke-linejoin="bevel"/>
<path d="M99.8,424.1L100.5,416.7 101.2,424 101.9,415.6 102.6,425.9" stroke="#ff0000" stroke-width="1.15" fill="none" stroke-linejoin="bevel"/>
<path d="M99.8,426.4L100.5,419 101.2,429.3 101.9,417 102.6,428" stroke="#00ee00" stroke-width="1.15" fill="none" stroke-linejoin="bevel"/>
<path d="M102.6,425.9L103.3,415.2 104,425.3 104.7,419.1 105.4,427.7" stroke="#ff0000" stroke-width="1.15" fill="none" stroke-linejoin="bevel"/>
<path d="M102.6,430.9L103.3,416.8 104,426.5 104.7,418.1 105.4,429.2" stroke="#0000ff" stroke-width="1.15" fill="none" stroke-linejoin="bevel"/>
<path d="M102.6,428L103.3,417.6 104,429.9 104.7,421.6 105.4,427.9" stroke="#00ee00" stroke-width="1.15" fill="none" stroke-linejoin="bevel"/>
<path d="M105.4,427.7L106.1,420.1 106.8,429.4 107.5,420.1 108.2,432.3 108.9,422.2" stroke="#ff0000" stroke-width="1.15" fill="none" stroke-linejoin="bevel"/>
<path d="M105.4,427.9L106.1,419.5 106.8,434.8 107.5,421.1 108.2,431 108.9,421" stroke="#00ee00" stroke-width="1.15" fill="none" stroke-linejoin="bevel"/>
<path d="M105.4,429.2L106.1,420 106.8,426.4 107.5,413.5 108.2,425.7 108.9,415.6" stroke="#0000ff" stroke-width="1.15" fill="none" stroke-linejoin="bevel"/>
<path d="M108.2,425.7L108.9,415.6 109.6,426.2 110.3,415.8 111,423.7 111.7,417.7" stroke="#0000ff" stroke-width="1.15" fill="none" stroke-linejoin="bevel"/>
<path d="M108.2,432.3L108.9,422.2 109.6,428.7 110.3,423.5 111,431.9 111.7,421.8" stroke="#ff0000" stroke-width="1.15" fill="none" stroke-linejoin="bevel"/>
<path d="M108.2,431L108.9,421 109.6,430.8 110.3,422.4 111,430.5 111.7,421.3" stroke="#00ee00" stroke-width="1.15" fill="none" stroke-linejoin="bevel"/>
<path d="M111.7,417.7L112.4,423.4 113.1,415.5 113.8,424.4 114.5,419.2" stroke="#0000ff" stroke-width="1.15" fill="none" stroke-linejoin="bevel"/>
<path d="M111.7,421.8L112.4,429.2 113.1,421.5 113.8,430.1 114.5,422.8" stroke="#ff0000" stroke-width="1.15" fill="none" stroke-linejoin="bevel"/>
<path d="M111.7,421.3L112.4,427.3 113.1,418.7 113.8,428.9 114.5,418.8" stroke="#00ee00" stroke-width="1.15" fill="none" stroke-linejoin="bevel"/>
<path d="M114.5,419.2L115.2,427.9 115.9,419.3 116.6,427.3 117.3,419.6" stroke="#0000ff" stroke-width="1.15" fill="none" stroke-linejoin="bevel"/>
<path d="M114.5,422.8L115.2,428.3 115.9,419.4 116.6,427.6 117.3,420" stroke="#ff0000" stroke-width="1.15" fill="none" stroke-linejoin="bevel"/>
<path d="M114.5,418.8L115.2,427.9 115.9,417.6 116.6,425.3 117.3,415.9" stroke="#00ee00" stroke-width="1.15" fill="none" stroke-linejoin="bevel"/>
<path d="M117.3,420L118,426.5 118.7,417.9 119.4,426.4 120.1,418.6 120.8,425.7" stroke="#ff0000" stroke-width="1.15" fill="none" stroke-linejoin="bevel"/>
<path d="M117.3,419.6L118,428.3 118.7,419 119.4,431.2 120.1,417.7 120.8,428.3" stroke="#0000ff" stroke-width="1.15" fill="none" stroke-linejoin="bevel"/>
<path d="M117.3,415.9L118,426.8 118.7,418.5 119.4,425.9 120.1,416.6 120.8,426.1" stroke="#00ee00" stroke-width="1.15" fill="none" stroke-linejoin="bevel"/>
<path d="M120.8,425.7L121.5,418.3 122.2,428.6 122.9,419.4 123.6,426.5" stroke="#ff0000" stroke-width="1.15" fill="none" stroke-linejoin="bevel"/>
<path d="M120.8,428.3L121.5,418.1 122.2,428.3 122.9,419.4 123.6,428.6" stroke="#0000ff" stroke-width="1.15" fill="none" stroke-linejoin="bevel"/>
<path d="M120.8,426.1L121.5,417 122.2,429 122.9,418.4 123.6,427.4" stroke="#00ee00" stroke-width="1.15" fill="none" stroke-linejoin="bevel"/>
<path d="M123.6,428.6L124.3,418.6 125,426.8 125.7,420.1 126.4,425.9" stroke="#0000ff" stroke-width="1.15" fill="none" stroke-linejoin="bevel"/>
<path d="M123.6,426.5L124.3,415.1 125,426.6 125.7,420.1 126.4,426.6" stroke="#ff0000" stroke-width="1.15" fill="none" stroke-linejoin="bevel"/>
<path d="M123.6,427.4L124.3,417.8 125,428.9 125.7,419.4 126.4,426.4" stroke="#00ee00" stroke-width="1.15" fill="none" stroke-linejoin="bevel"/>
<path d="M126.4,425.9L127.1,419.5 127.8,426.5 128.5,416.1 129.2,428.4 129.9,417.8" stroke="#0000ff" stroke-width="1.15" fill="none" stroke-linejoin="bevel"/>
<path d="M126.4,426.6L127.1,416 127.8,428 128.5,420.2 129.2,426.3 129.9,420" stroke="#ff0000" stroke-width="1.15" fill="none" stroke-linejoin="bevel"/>
<path d="M126.4,426.4L127.1,419.1 127.8,427.3 128.5,417.8 129.2,428.3 129.9,421.3" stroke="#00ee00" stroke-width="1.15" fill="none" stroke-linejoin="bevel"/>
<path d="M129.2,428.3L129.9,421.3 130.6,428.4 131.3,420.2 132,428.5 132.7,421.3" stroke="#00ee00" stroke-width="1.15" fill="none" stroke-linejoin="bevel"/>
<path d="M129.2,426.3L129.9,420 130.6,426.9 131.3,417.1 132,427.5 132.7,417.5" stroke="#ff0000" stroke-width="1.15" fill="none" stroke-linejoin="bevel"/>
<path d="M129.2,428.4L129.9,417.8 130.6,427.6 131.3,417.2 132,427.9 132.7,418" stroke="#0000ff" stroke-width="1.15" fill="none" stroke-linejoin="bevel"/>
<path d="M132.7,417.5L133.4,427.6 134.1,417.7 134.8,429.2 135.5,418.9" stroke="#ff0000" stroke-width="1.15" fill="none" stroke-linejoin="bevel"/>
<path d="M132.7,418L133.4,430.1 134.1,419.1 134.8,427.7 135.5,419.5" stroke="#0000ff" stroke-width="1.15" fill="none" stroke-linejoin="bevel"/>
<path d="M132.7,421.3L133.4,427.5 134.1,417.6 134.8,426.2 135.5,420.2" stroke="#00ee00" stroke-width="1.15" fill="none" stroke-linejoin="bevel"/>
<path d="M135.5,420.2L136.2,427.9 136.9,419.5 137.6,426.3 138.3,421.2" stroke="#00ee00" stroke-width="1.15" fill="none" stroke-linejoin="bevel"/>
<path d="M135.5,418.9L136.2,428.4 136.9,420.1 137.6,428.1 138.3,421.1" stroke="#ff0000" stroke-width="1.15" fill="none" stroke-linejoin="bevel"/>
<path d="M135.5,419.5L136.2,427.2 136.9,416.1 137.6,429.9 138.3,418.2" stroke="#0000ff" stroke-width="1.15" fill="none" stroke-linejoin="bevel"/>
<path d="M138.3,421.2L139,433.5 139.7,417.9 140.4,429.2 141.1,417.8 141.8,428.7" stroke="#00ee00" stroke-width="1.15" fill="none" stroke-linejoin="bevel"/>
<path d="M138.3,421.1L139,430.7 139.7,420.7 140.4,430.5 141.1,414.6 141.8,427.1" stroke="#ff0000" stroke-width="1.15" fill="none" stroke-linejoin="bevel"/>
<path d="M138.3,418.2L139,427.5 139.7,417.7 140.4,425.9 141.1,417 141.8,426.8" stroke="#0000ff" stroke-width="1.15" fill="none" stroke-linejoin="bevel"/>
<path d="M141.8,426.8L142.5,414.5 143.2,422.7 143.9,416.5 144.6,422.7" stroke="#0000ff" stroke-width="1.15" fill="none" stroke-linejoin="bevel"/>
<path d="M141.8,427.1L142.5,418.1 143.2,429 143.9,416.3 144.6,426.1" stroke="#ff0000" stroke-width="1.15" fill="none" stroke-linejoin="bevel"/>
<path d="M141.8,428.7L142.5,418.8 143.2,425.8 143.9,415.7 144.6,426.1" stroke="#00ee00" stroke-width="1.15" fill="none" stroke-linejoin="bevel"/>
<path d="M144.6,422.7L145.3,414.8 146,424.6 146.7,413.3 147.4,423.2" stroke="#0000ff" stroke-width="1.15" fill="none" stroke-linejoin="bevel"/>
<path d="M144.6,426.1L145.3,415.4 146,427.4 146.7,416.8 147.4,424.3" stroke="#ff0000" stroke-width="1.15" fill="none" stroke-linejoin="bevel"/>
<path d="M144.6,426.1L145.3,416.5 146,426.8 146.7,417.3 147.4,423.3" stroke="#00ee00" stroke-width="1.15" fill="none" stroke-linejoin="bevel"/>
<path d="M147.4,423.2L148.1,416.9 148.8,424.9 149.5,419.6 150.2,429.4 150.9,419.2" stroke="#0000ff" stroke-width="1.15" fill="none" stroke-linejoin="bevel"/>
<path d="M147.4,424.3L148.1,416.6 148.8,426.5 149.5,416.6 150.2,426.4 150.9,417.5" stroke="#ff0000" stroke-width="1.15" fill="none" stroke-linejoin="bevel"/>
<path d="M147.4,423.3L148.1,414.6 148.8,423.9 149.5,416 150.2,430 150.9,416.4" stroke="#00ee00" stroke-width="1.15" fill="none" stroke-linejoin="bevel"/>
<path d="M150.2,426.4L150.9,417.5 151.6,430 152.3,417.3 153,425.6 153.7,412.8" stroke="#ff0000" stroke-width="1.15" fill="none" stroke-linejoin="bevel"/>
<path d="M150.2,430L150.9,416.4 151.6,425.7 152.3,413.7 153,426.7 153.7,418.6" stroke="#00ee00" stroke-width="1.15" fill="none" stroke-linejoin="bevel"/>
<path d="M150.2,429.4L150.9,419.2 151.6,431.2 152.3,420.2 153,429.6 153.7,420.2" stroke="#0000ff" stroke-width="1.15" fill="none" stroke-linejoin="bevel"/>
<path d="M153.7,412.8L154.4,425.6 155.1,418.8 155.8,427.6 156.5,417.3" stroke="#ff0000" stroke-width="1.15" fill="none" stroke-linejoin="bevel"/>
<path d="M153.7,420.2L154.4,428.7 155.1,415.6 155.8,425.9 156.5,419" stroke="#0000ff" stroke-width="1.15" fill="none" stroke-linejoin="bevel"/>
<path d="M153.7,418.6L154.4,426.5 155.1,417.4 155.8,429.2 156.5,418" stroke="#00ee00" stroke-width="1.15" fill="none" stroke-linejoin="bevel"/>
<path d="M156.5,417.3L157.2,428.4 157.9,417.9 158.6,427.2 159.3,417.9" stroke="#ff0000" stroke-width="1.15" fill="none" stroke-linejoin="bevel"/>
<path d="M156.5,419L157.2,426.4 157.9,415.6 158.6,422.4 159.3,414.6" stroke="#0000ff" stroke-width="1.15" fill="none" stroke-linejoin="bevel"/>
<path d="M156.5,418L157.2,427.3 157.9,417.6 158.6,425.6 159.3,416.3" stroke="#00ee00" stroke-width="1.15" fill="none" stroke-linejoin="bevel"/>
<path d="M159.3,414.6L160,422.1 160.7,415.6 161.4,425.6 162.1,416.4 162.8,425.6" stroke="#0000ff" stroke-width="1.15" fill="none" stroke-linejoin="bevel"/>
<path d="M159.3,417.9L160,428.3 160.7,418 161.4,429.1 162.1,417.4 162.8,426.9" stroke="#ff0000" stroke-width="1.15" fill="none" stroke-linejoin="bevel"/>
<path d="M159.3,416.3L160,426.2 160.7,414.9 161.4,427.6 162.1,420.1 162.8,427.8" stroke="#00ee00" stroke-width="1.15" fill="none" stroke-linejoin="bevel"/>
<path d="M162.8,425.6L163.5,416.7 164.2,425.7 164.9,418.4 165.6,427.3" stroke="#0000ff" stroke-width="1.15" fill="none" stroke-linejoin="bevel"/>
<path d="M162.8,426.9L163.5,419.6 164.2,428.1 164.9,418.5 165.6,430.6" stroke="#ff0000" stroke-width="1.15" fill="none" stroke-linejoin="bevel"/>
<path d="M162.8,427.8L163.5,420.9 164.2,429.6 164.9,420.6 165.6,429.8" stroke="#00ee00" stroke-width="1.15" fill="none" stroke-linejoin="bevel"/>
<path d="M165.6,427.3L166.3,420.1 167,431.6 167.7,418.3 168.4,428.3" stroke="#0000ff" stroke-width="1.15" fill="none" stroke-linejoin="bevel"/>
<path d="M165.6,430.6L166.3,420.7 167,428.8 167.7,420.2 168.4,430.7" stroke="#ff0000" stroke-width="1.15" fill="none" stroke-linejoin="bevel"/>
<path d="M165.6,429.8L166.3,419.6 167,427.8 167.7,418.6 168.4,429.6" stroke="#00ee00" stroke-width="1.15" fill="none" stroke-linejoin="bevel"/>
<path d="M168.4,429.6L169.1,417.5 169.8,428.5 170.5,417.4 171.2,426.3 171.9,414.9" stroke="#00ee00" stroke-width="1.15" fill="none" stroke-linejoin="bevel"/>
<path d="M168.4,428.3L169.1,420.1 169.8,428.5 170.5,420.1 171.2,428.9 171.9,417.7" stroke="#0000ff" stroke-width="1.15" fill="none" stroke-linejoin="bevel"/>
<path d="M168.4,430.7L169.1,419 169.8,427.8 170.5,418.4 171.2,428.1 171.9,418.3" stroke="#ff0000" stroke-width="1.15" fill="none" stroke-linejoin="bevel"/>
<path d="M171.2,428.1L171.9,418.3 172.6,427 173.3,418.6 174,426.8 174.7,416.3" stroke="#ff0000" stroke-width="1.15" fill="none" stroke-linejoin="bevel"/>
<path d="M171.2,428.9L171.9,417.7 172.6,426.8 173.3,418.1 174,425.9 174.7,418.2" stroke="#0000ff" stroke-width="1.15" fill="none" stroke-linejoin="bevel"/>
<path d="M171.2,426.3L171.9,414.9 172.6,423.9 173.3,414.1 174,423.2 174.7,415.9" stroke="#00ee00" stroke-width="1.15" fill="none" stroke-linejoin="bevel"/>
<path d="M174.7,415.9L175.4,421.9 176.1,413.5 176.8,423.4 177.5,413.8" stroke="#00ee00" stroke-width="1.15" fill="none" stroke-linejoin="bevel"/>
<path d="M174.7,416.3L175.4,425.1 176.1,416.8 176.8,426.6 177.5,416.7" stroke="#ff0000" stroke-width="1.15" fill="none" stroke-linejoin="bevel"/>
<path d="M174.7,418.2L175.4,430.4 176.1,418.4 176.8,427.9 177.5,415.1" stroke="#0000ff" stroke-width="1.15" fill="none" stroke-linejoin="bevel"/>
<path d="M177.5,415.1L178.2,428.3 178.9,419 179.6,430.4 180.3,414.8" stroke="#0000ff" stroke-width="1.15" fill="none" stroke-linejoin="bevel"/>
<path d="M177.5,416.7L178.2,425 178.9,417.4 179.6,423.9 180.3,416.4" stroke="#ff0000" stroke-width="1.15" fill="none" stroke-linejoin="bevel"/>
<path d="M177.5,413.8L178.2,423.5 178.9,414.9 179.6,426.9 180.3,418.1" stroke="#00ee00" stroke-width="1.15" fill="none" stroke-linejoin="bevel"/>
<path d="M180.3,414.8L181,428.9 181.7,421.2 182.4,430 183.1,420.6 183.8,430.4" stroke="#0000ff" stroke-width="1.15" fill="none" stroke-linejoin="bevel"/>
<path d="M180.3,416.4L181,425.8 181.7,416.2 182.4,425.7 183.1,416.4 183.8,424.9" stroke="#ff0000" stroke-width="1.15" fill="none" stroke-linejoin="bevel"/>
<path d="M180.3,418.1L181,428.1 181.7,417.5 182.4,426.8 183.1,419.9 183.8,426.4" stroke="#00ee00" stroke-width="1.15" fill="none" stroke-linejoin="bevel"/>
<path d="M183.8,430.4L184.5,419.6 185.2,427.3 185.9,417.9 186.6,428.8" stroke="#0000ff" stroke-width="1.15" fill="none" stroke-linejoin="bevel"/>
<path d="M183.8,426.4L184.5,417.5 185.2,428.7 185.9,419.6 186.6,426" stroke="#00ee00" stroke-width="1.15" fill="none" stroke-linejoin="bevel"/>
<path d="M183.8,424.9L184.5,417.2 185.2,428.4 185.9,418.1 186.6,428" stroke="#ff0000" stroke-width="1.15" fill="none" stroke-linejoin="bevel"/>
<path d="M186.6,426L187.3,416.6 188,428 188.7,419.6 189.4,426.4" stroke="#00ee00" stroke-width="1.15" fill="none" stroke-linejoin="bevel"/>
<path d="M186.6,428L187.3,418.3 188,426.7 188.7,417.7 189.4,426.9" stroke="#ff0000" stroke-width="1.15" fill="none" stroke-linejoin="bevel"/>
<path d="M186.6,428.8L187.3,417.2 188,427.1 188.7,418.2 189.4,427.5" stroke="#0000ff" stroke-width="1.15" fill="none" stroke-linejoin="bevel"/>
<path d="M189.4,426.4L190.1,420 190.8,427.3 191.5,418.9 192.2,429.6 192.9,421" stroke="#00ee00" stroke-width="1.15" fill="none" stroke-linejoin="bevel"/>
<path d="M189.4,426.9L190.1,419.6 190.8,426 191.5,420.1 192.2,427.7 192.9,419.6" stroke="#ff0000" stroke-width="1.15" fill="none" stroke-linejoin="bevel"/>
<path d="M189.4,427.5L190.1,412.7 190.8,429.1 191.5,417 192.2,427 192.9,418.2" stroke="#0000ff" stroke-width="1.15" fill="none" stroke-linejoin="bevel"/>
<path d="M192.2,427L192.9,418.2 193.6,425.9 194.3,420.4 195,427.4 195.7,415.1" stroke="#0000ff" stroke-width="1.15" fill="none" stroke-linejoin="bevel"/>
<path d="M192.2,427.7L192.9,419.6 193.6,431 194.3,417.2 195,426.5 195.7,415" stroke="#ff0000" stroke-width="1.15" fill="none" stroke-linejoin="bevel"/>
<path d="M192.2,429.6L192.9,421 193.6,432 194.3,419.3 195,430 195.7,418.2" stroke="#00ee00" stroke-width="1.15" fill="none" stroke-linejoin="bevel"/>
<path d="M195.7,415.1L196.4,429 197.1,417.9 197.8,426.5 198.5,418.9" stroke="#0000ff" stroke-width="1.15" fill="none" stroke-linejoin="bevel"/>
<path d="M195.7,415L196.4,424.2 197.1,415.7 197.8,425.5 198.5,415.8" stroke="#ff0000" stroke-width="1.15" fill="none" stroke-linejoin="bevel"/>
<path d="M195.7,418.2L196.4,428.7 197.1,416.6 197.8,427.7 198.5,420.5" stroke="#00ee00" stroke-width="1.15" fill="none" stroke-linejoin="bevel"/>
<path d="M198.5,415.8L199.2,424.6 199.9,416.4 200.6,428.1 201.3,416.6" stroke="#ff0000" stroke-width="1.15" fill="none" stroke-linejoin="bevel"/>
<path d="M198.5,418.9L199.2,430.1 199.9,417.8 200.6,427.9 201.3,420.1" stroke="#0000ff" stroke-width="1.15" fill="none" stroke-linejoin="bevel"/>
<path d="M198.5,420.5L199.2,427 199.9,421.6 200.6,429.6 201.3,419.9" stroke="#00ee00" stroke-width="1.15" fill="none" stroke-linejoin="bevel"/>
<path d="M201.3,416.6L202,423.4 202.7,414.8 203.4,423.6 204.1,412.4 204.8,422.1" stroke="#ff0000" stroke-width="1.15" fill="none" stroke-linejoin="bevel"/>
<path d="M201.3,420.1L202,430.6 202.7,417.6 203.4,428.2 204.1,413.5 204.8,425.5" stroke="#0000ff" stroke-width="1.15" fill="none" stroke-linejoin="bevel"/>
<path d="M201.3,419.9L202,426.8 202.7,420.3 203.4,427.1 204.1,419.7 204.8,427.2" stroke="#00ee00" stroke-width="1.15" fill="none" stroke-linejoin="bevel"/>
<path d="M204.8,425.5L205.5,414.9 206.2,424.7 206.9,416.1 207.6,424.7" stroke="#0000ff" stroke-width="1.15" fill="none" stroke-linejoin="bevel"/>
<path d="M204.8,422.1L205.5,410.9 206.2,422.3 206.9,413.6 207.6,421.3" stroke="#ff0000" stroke-width="1.15" fill="none" stroke-linejoin="bevel"/>
<path d="M204.8,427.2L205.5,419.5 206.2,427 206.9,418.5 207.6,432.1" stroke="#00ee00" stroke-width="1.15" fill="none" stroke-linejoin="bevel"/>
<path d="M207.6,421.3L208.3,410.9 209,423.6 209.7,414.5 210.4,425.4" stroke="#ff0000" stroke-width="1.15" fill="none" stroke-linejoin="bevel"/>
<path d="M207.6,424.7L208.3,417.5 209,425.8 209.7,415.7 210.4,426.9" stroke="#0000ff" stroke-width="1.15" fill="none" stroke-linejoin="bevel"/>
<path d="M207.6,432.1L208.3,415.6 209,428.8 209.7,416.4 210.4,427.9" stroke="#00ee00" stroke-width="1.15" fill="none" stroke-linejoin="bevel"/>
<path d="M210.4,425.4L211.1,418.8 211.8,424.9 212.5,418.7 213.2,427.1" stroke="#ff0000" stroke-width="1.15" fill="none" stroke-linejoin="bevel"/>
<path d="M210.4,426.9L211.1,417.7 211.8,425.6 212.5,417 213.2,427" stroke="#0000ff" stroke-width="1.15" fill="none" stroke-linejoin="bevel"/>
<path d="M210.4,427.9L211.1,419.2 211.8,427.7 212.5,419.4 213.2,428.1" stroke="#00ee00" stroke-width="1.15" fill="none" stroke-linejoin="bevel"/>
<path d="M396.2,427L396.9,438.1 397.6,421.5 398.3,438.2 399,428.2" stroke="#0000ff" stroke-width="1.15" fill="none" stroke-linejoin="bevel"/>
<path d="M396.2,428.7L396.9,438.7 397.6,427.6 398.3,441.6 399,428.7" stroke="#ff0000" stroke-width="1.15" fill="none" stroke-linejoin="bevel"/>
<path d="M396.2,426.1L396.9,436.6 397.6,425.4 398.3,436.5 399,428.4" stroke="#00ee00" stroke-width="1.15" fill="none" stroke-linejoin="bevel"/>
<path d="M399,428.2L399.7,442.9 400.4,428.2 401.1,442.6 401.8,422.6 402.5,441.5" stroke="#0000ff" stroke-width="1.15" fill="none" stroke-linejoin="bevel"/>
<path d="M399,428.4L399.7,437.1 400.4,423.7 401.1,434.4 401.8,425.7 402.5,435.2" stroke="#00ee00" stroke-width="1.15" fill="none" stroke-linejoin="bevel"/>
<path d="M399,428.7L399.7,440.5 400.4,429.8 401.1,441.4 401.8,430.8 402.5,440.8" stroke="#ff0000" stroke-width="1.15" fill="none" stroke-linejoin="bevel"/>
<path d="M402.5,441.5L403.2,426.7 403.9,438.3 404.6,426.1 405.3,437.4" stroke="#0000ff" stroke-width="1.15" fill="none" stroke-linejoin="bevel"/>
<path d="M402.5,440.8L403.2,429.9 403.9,439.4 404.6,427.7 405.3,438.1" stroke="#ff0000" stroke-width="1.15" fill="none" stroke-linejoin="bevel"/>
<path d="M402.5,435.2L403.2,422.2 403.9,434.3 404.6,425.6 405.3,436.3" stroke="#00ee00" stroke-width="1.15" fill="none" stroke-linejoin="bevel"/>
<path d="M405.3,438.1L406,428.9 406.7,434.9 407.4,426.1 408.1,438.4" stroke="#ff0000" stroke-width="1.15" fill="none" stroke-linejoin="bevel"/>
<path d="M405.3,437.4L406,426.3 406.7,435.5 407.4,426.9 408.1,437.4" stroke="#0000ff" stroke-width="1.15" fill="none" stroke-linejoin="bevel"/>
<path d="M405.3,436.3L406,426 406.7,436.1 407.4,426.8 408.1,441.9" stroke="#00ee00" stroke-width="1.15" fill="none" stroke-linejoin="bevel"/>
<path d="M408.1,437.4L408.8,427.7 409.5,438.9 410.2,425.3 410.9,438.6 411.6,425.6" stroke="#0000ff" stroke-width="1.15" fill="none" stroke-linejoin="bevel"/>
<path d="M408.1,438.4L408.8,421.9 409.5,439.5 410.2,422.9 410.9,437.4 411.6,421.1" stroke="#ff0000" stroke-width="1.15" fill="none" stroke-linejoin="bevel"/>
<path d="M408.1,441.9L408.8,427.4 409.5,437.7 410.2,428.5 410.9,438.6 411.6,425.6" stroke="#00ee00" stroke-width="1.15" fill="none" stroke-linejoin="bevel"/>
<path d="M410.9,438.6L411.6,425.6 412.3,438.2 413,425.8 413.7,436 414.4,425.4" stroke="#0000ff" stroke-width="1.15" fill="none" stroke-linejoin="bevel"/>
<path d="M410.9,437.4L411.6,421.1 412.3,433.6 413,423.7 413.7,434.9 414.4,425.8" stroke="#ff0000" stroke-width="1.15" fill="none" stroke-linejoin="bevel"/>
<path d="M410.9,438.6L411.6,425.6 412.3,436.3 413,426.1 413.7,435.8 414.4,425.5" stroke="#00ee00" stroke-width="1.15" fill="none" stroke-linejoin="bevel"/>
<path d="M414.4,425.8L415.1,436.1 415.8,426 416.5,434.7 417.2,423.4" stroke="#ff0000" stroke-width="1.15" fill="none" stroke-linejoin="bevel"/>
<path d="M414.4,425.4L415.1,434.8 415.8,424.5 416.5,435.3 417.2,424.4" stroke="#0000ff" stroke-width="1.15" fill="none" stroke-linejoin="bevel"/>
<path d="M414.4,425.5L415.1,435.9 415.8,424 416.5,433.7 417.2,424.8" stroke="#00ee00" stroke-width="1.15" fill="none" stroke-linejoin="bevel"/>
<path d="M417.2,423.4L417.9,433.8 418.6,425.3 419.3,433.2 420,424.7" stroke="#ff0000" stroke-width="1.15" fill="none" stroke-linejoin="bevel"/>
<path d="M417.2,424.4L417.9,434.6 418.6,424.1 419.3,434.2 420,422.5" stroke="#0000ff" stroke-width="1.15" fill="none" stroke-linejoin="bevel"/>
<path d="M417.2,424.8L417.9,432.9 418.6,422.7 419.3,433.4 420,421.5" stroke="#00ee00" stroke-width="1.15" fill="none" stroke-linejoin="bevel"/>
<path d="M420,424.7L420.7,432.7 421.4,426.1 422.1,434.7 422.8,423.2 423.5,436" stroke="#ff0000" stroke-width="1.15" fill="none" stroke-linejoin="bevel"/>
<path d="M420,422.5L420.7,434.2 421.4,422.3 422.1,434.3 422.8,422.3 423.5,431.3" stroke="#0000ff" stroke-width="1.15" fill="none" stroke-linejoin="bevel"/>
<path d="M420,421.5L420.7,434.3 421.4,423.9 422.1,433.8 422.8,425.2 423.5,434.7" stroke="#00ee00" stroke-width="1.15" fill="none" stroke-linejoin="bevel"/>
<path d="M423.5,431.3L424.2,422.2 424.9,432.8 425.6,419 426.3,431.6" stroke="#0000ff" stroke-width="1.15" fill="none" stroke-linejoin="bevel"/>
<path d="M423.5,434.7L424.2,422.3 424.9,433.1 425.6,427.1 426.3,437.4" stroke="#00ee00" stroke-width="1.15" fill="none" stroke-linejoin="bevel"/>
<path d="M423.5,436L424.2,425.1 424.9,436.7 425.6,428 426.3,434.3" stroke="#ff0000" stroke-width="1.15" fill="none" stroke-linejoin="bevel"/>
<path d="M426.3,437.4L427,421 427.7,435.4 428.4,424.9 429.1,435.9" stroke="#00ee00" stroke-width="1.15" fill="none" stroke-linejoin="bevel"/>
<path d="M426.3,434.3L427,427.3 427.7,436.1 428.4,425 429.1,438.6" stroke="#ff0000" stroke-width="1.15" fill="none" stroke-linejoin="bevel"/>
<path d="M426.3,431.6L427,420.8 427.7,432.7 428.4,421.7 429.1,433.3" stroke="#0000ff" stroke-width="1.15" fill="none" stroke-linejoin="bevel"/>
<path d="M429.1,433.3L429.8,417.8 430.5,430.8 431.2,418.4 431.9,432.8 432.6,420.5" stroke="#0000ff" stroke-width="1.15" fill="none" stroke-linejoin="bevel"/>
<path d="M429.1,438.6L429.8,425.3 430.5,437.5 431.2,425.2 431.9,433 432.6,424.8" stroke="#ff0000" stroke-width="1.15" fill="none" stroke-linejoin="bevel"/>
<path d="M429.1,435.9L429.8,426.3 430.5,434.4 431.2,422.4 431.9,431.5 432.6,423.7" stroke="#00ee00" stroke-width="1.15" fill="none" stroke-linejoin="bevel"/>
<path d="M431.9,433L432.6,424.8 433.3,433 434,421.9 434.7,433.6 435.4,422.3" stroke="#ff0000" stroke-width="1.15" fill="none" stroke-linejoin="bevel"/>
<path d="M431.9,432.8L432.6,420.5 433.3,430.5 434,421.9 434.7,432.4 435.4,425.1" stroke="#0000ff" stroke-width="1.15" fill="none" stroke-linejoin="bevel"/>
<path d="M431.9,431.5L432.6,423.7 433.3,430.3 434,423.5 434.7,430.2 435.4,419.6" stroke="#00ee00" stroke-width="1.15" fill="none" stroke-linejoin="bevel"/>
<path d="M435.4,422.3L436.1,432.6 436.8,424.1 437.5,431 438.2,421.4" stroke="#ff0000" stroke-width="1.15" fill="none" stroke-linejoin="bevel"/>
<path d="M435.4,425.1L436.1,434.5 436.8,423.5 437.5,433.6 438.2,426.2" stroke="#0000ff" stroke-width="1.15" fill="none" stroke-linejoin="bevel"/>
<path d="M435.4,419.6L436.1,432.3 436.8,420.9 437.5,432.1 438.2,420.5" stroke="#00ee00" stroke-width="1.15" fill="none" stroke-linejoin="bevel"/>
<path d="M438.2,421.4L438.9,432.1 439.6,419.9 440.3,430.6 441,419.9" stroke="#ff0000" stroke-width="1.15" fill="none" stroke-linejoin="bevel"/>
<path d="M438.2,426.2L438.9,433.3 439.6,425.4 440.3,437.4 441,427.2" stroke="#0000ff" stroke-width="1.15" fill="none" stroke-linejoin="bevel"/>
<path d="M438.2,420.5L438.9,429.3 439.6,419.2 440.3,430.1 441,422.8" stroke="#00ee00" stroke-width="1.15" fill="none" stroke-linejoin="bevel"/>
<path d="M441,419.9L441.7,428.7 442.4,421.6 443.1,431.6 443.8,414.8 444.5,429.7" stroke="#ff0000" stroke-width="1.15" fill="none" stroke-linejoin="bevel"/>
<path d="M441,427.2L441.7,434.5 442.4,425.7 443.1,437.2 443.8,417.8 444.5,433" stroke="#0000ff" stroke-width="1.15" fill="none" stroke-linejoin="bevel"/>
<path d="M441,422.8L441.7,434.1 442.4,420 443.1,434.1 443.8,421.2 444.5,433.4" stroke="#00ee00" stroke-width="1.15" fill="none" stroke-linejoin="bevel"/>
<path d="M444.5,433L445.2,421 445.9,435.3 446.6,421.9 447.3,429.1" stroke="#0000ff" stroke-width="1.15" fill="none" stroke-linejoin="bevel"/>
<path d="M444.5,429.7L445.2,421.2 445.9,428.5 446.6,417.5 447.3,428.1" stroke="#ff0000" stroke-width="1.15" fill="none" stroke-linejoin="bevel"/>
<path d="M444.5,433.4L445.2,422.4 445.9,430.1 446.6,419 447.3,428.6" stroke="#00ee00" stroke-width="1.15" fill="none" stroke-linejoin="bevel"/>
<path d="M447.3,429.1L448,421.8 448.7,429.4 449.4,416.1 450.1,431.7" stroke="#0000ff" stroke-width="1.15" fill="none" stroke-linejoin="bevel"/>
<path d="M447.3,428.1L448,418.5 448.7,427.1 449.4,418.3 450.1,428.1" stroke="#ff0000" stroke-width="1.15" fill="none" stroke-linejoin="bevel"/>
<path d="M447.3,428.6L448,419.7 448.7,427.3 449.4,417.8 450.1,430.2" stroke="#00ee00" stroke-width="1.15" fill="none" stroke-linejoin="bevel"/>
<path d="M450.1,428.1L450.8,418.6 451.5,433.2 452.2,418 452.9,431.5 453.6,415" stroke="#ff0000" stroke-width="1.15" fill="none" stroke-linejoin="bevel"/>
<path d="M450.1,431.7L450.8,418.1 451.5,429.8 452.2,421.6 452.9,434.5 453.6,419.9" stroke="#0000ff" stroke-width="1.15" fill="none" stroke-linejoin="bevel"/>
<path d="M450.1,430.2L450.8,417.6 451.5,427.1 452.2,412.6 452.9,426.9 453.6,417.8" stroke="#00ee00" stroke-width="1.15" fill="none" stroke-linejoin="bevel"/>
<path d="M452.9,426.9L453.6,417.8 454.3,433.4 455,417.8 455.7,428.8 456.4,419.3" stroke="#00ee00" stroke-width="1.15" fill="none" stroke-linejoin="bevel"/>
<path d="M452.9,434.5L453.6,419.9 454.3,429.4 455,420.2 455.7,429.2 456.4,418.2" stroke="#0000ff" stroke-width="1.15" fill="none" stroke-linejoin="bevel"/>
<path d="M452.9,431.5L453.6,415 454.3,427.9 455,414.7 455.7,425.9 456.4,410.7" stroke="#ff0000" stroke-width="1.15" fill="none" stroke-linejoin="bevel"/>
<path d="M456.4,410.7L457.1,428.1 457.8,418.1 458.5,427.4 459.2,416" stroke="#ff0000" stroke-width="1.15" fill="none" stroke-linejoin="bevel"/>
<path d="M456.4,418.2L457.1,431.6 457.8,420.5 458.5,431.4 459.2,419.1" stroke="#0000ff" stroke-width="1.15" fill="none" stroke-linejoin="bevel"/>
<path d="M456.4,419.3L457.1,428.4 457.8,418.2 458.5,430.1 459.2,421" stroke="#00ee00" stroke-width="1.15" fill="none" stroke-linejoin="bevel"/>
<path d="M459.2,416L459.9,425.6 460.6,416 461.3,425.2 462,418.5" stroke="#ff0000" stroke-width="1.15" fill="none" stroke-linejoin="bevel"/>
<path d="M459.2,419.1L459.9,433.3 460.6,419.3 461.3,432.2 462,415.9" stroke="#0000ff" stroke-width="1.15" fill="none" stroke-linejoin="bevel"/>
<path d="M459.2,421L459.9,428.9 460.6,418.2 461.3,432.4 462,413.8" stroke="#00ee00" stroke-width="1.15" fill="none" stroke-linejoin="bevel"/>
<path d="M462,418.5L462.7,427.6 463.4,417.6 464.1,425.4 464.8,416.8 465.5,427.6" stroke="#ff0000" stroke-width="1.15" fill="none" stroke-linejoin="bevel"/>
<path d="M462,415.9L462.7,428.2 463.4,417.7 464.1,426.2 464.8,416 465.5,425.3" stroke="#0000ff" stroke-width="1.15" fill="none" stroke-linejoin="bevel"/>
<path d="M462,413.8L462.7,426.4 463.4,416.4 464.1,426.1 464.8,418.2 465.5,428.1" stroke="#00ee00" stroke-width="1.15" fill="none" stroke-linejoin="bevel"/>
<path d="M465.5,425.3L466.2,413.5 466.9,425.4 467.6,418.1 468.3,429.4" stroke="#0000ff" stroke-width="1.15" fill="none" stroke-linejoin="bevel"/>
<path d="M465.5,427.6L466.2,417.8 466.9,426.3 467.6,417.6 468.3,426.7" stroke="#ff0000" stroke-width="1.15" fill="none" stroke-linejoin="bevel"/>
<path d="M465.5,428.1L466.2,419 466.9,425.6 467.6,418.3 468.3,427.3" stroke="#00ee00" stroke-width="1.15" fill="none" stroke-linejoin="bevel"/>
<path d="M468.3,427.3L469,417.9 469.7,427.2 470.4,416 471.1,426.5" stroke="#00ee00" stroke-width="1.15" fill="none" stroke-linejoin="bevel"/>
<path d="M468.3,429.4L469,418.1 469.7,431.9 470.4,420.8 471.1,432.3" stroke="#0000ff" stroke-width="1.15" fill="none" stroke-linejoin="bevel"/>
<path d="M468.3,426.7L469,418.6 469.7,428 470.4,419.2 471.1,430.2" stroke="#ff0000" stroke-width="1.15" fill="none" stroke-linejoin="bevel"/>
<path d="M471.1,432.3L471.8,420.4 472.5,428.9 473.2,420.7 473.9,428.9 474.6,419.2" stroke="#0000ff" stroke-width="1.15" fill="none" stroke-linejoin="bevel"/>
<path d="M471.1,430.2L471.8,418.9 472.5,429.8 473.2,419.1 473.9,431 474.6,413.3" stroke="#ff0000" stroke-width="1.15" fill="none" stroke-linejoin="bevel"/>
<path d="M471.1,426.5L471.8,418.1 472.5,427.9 473.2,415.9 473.9,425.5 474.6,415.7" stroke="#00ee00" stroke-width="1.15" fill="none" stroke-linejoin="bevel"/>
<path d="M473.9,428.9L474.6,419.2 475.3,428.8 476,419.3 476.7,430.1 477.4,419.8" stroke="#0000ff" stroke-width="1.15" fill="none" stroke-linejoin="bevel"/>
<path d="M473.9,425.5L474.6,415.7 475.3,426.4 476,413.6 476.7,425.8 477.4,413" stroke="#00ee00" stroke-width="1.15" fill="none" stroke-linejoin="bevel"/>
<path d="M473.9,431L474.6,413.3 475.3,427.3 476,421.1 476.7,429.7 477.4,416.7" stroke="#ff0000" stroke-width="1.15" fill="none" stroke-linejoin="bevel"/>
<path d="M477.4,419.8L478.1,428.5 478.8,419.8 479.5,429.8 480.2,418" stroke="#0000ff" stroke-width="1.15" fill="none" stroke-linejoin="bevel"/>
<path d="M477.4,416.7L478.1,435.6 478.8,421.5 479.5,428.8 480.2,418.4" stroke="#ff0000" stroke-width="1.15" fill="none" stroke-linejoin="bevel"/>
<path d="M477.4,413L478.1,425.4 478.8,409.2 479.5,426.3 480.2,414.8" stroke="#00ee00" stroke-width="1.15" fill="none" stroke-linejoin="bevel"/>
<path d="M480.2,418L480.9,436.1 481.6,419.3 482.3,433.4 483,419.2" stroke="#0000ff" stroke-width="1.15" fill="none" stroke-linejoin="bevel"/>
<path d="M480.2,418.4L480.9,428 481.6,421.3 482.3,430.1 483,416.9" stroke="#ff0000" stroke-width="1.15" fill="none" stroke-linejoin="bevel"/>
<path d="M480.2,414.8L480.9,424.5 481.6,416.2 482.3,426.6 483,416.5" stroke="#00ee00" stroke-width="1.15" fill="none" stroke-linejoin="bevel"/>
<path d="M483,419.2L483.7,430.6 484.4,421.9 485.1,432.2 485.8,421.3 486.5,433.1" stroke="#0000ff" stroke-width="1.15" fill="none" stroke-linejoin="bevel"/>
<path d="M483,416.9L483.7,427.6 484.4,417.5 485.1,430.1 485.8,418.7 486.5,425.5" stroke="#ff0000" stroke-width="1.15" fill="none" stroke-linejoin="bevel"/>
<path d="M483,416.5L483.7,434 484.4,419 485.1,429.9 485.8,419.7 486.5,428.3" stroke="#00ee00" stroke-width="1.15" fill="none" stroke-linejoin="bevel"/>
<path d="M486.5,425.5L487.2,418.2 487.9,426.2 488.6,416.3 489.3,427.2" stroke="#ff0000" stroke-width="1.15" fill="none" stroke-linejoin="bevel"/>
<path d="M486.5,433.1L487.2,420.5 487.9,432.6 488.6,420.7 489.3,427.9" stroke="#0000ff" stroke-width="1.15" fill="none" stroke-linejoin="bevel"/>
<path d="M486.5,428.3L487.2,421.1 487.9,435.6 488.6,418.6 489.3,431.6" stroke="#00ee00" stroke-width="1.15" fill="none" stroke-linejoin="bevel"/>
<path d="M489.3,427.9L490,421 490.7,429.7 491.4,419.6 492.1,428.2" stroke="#0000ff" stroke-width="1.15" fill="none" stroke-linejoin="bevel"/>
<path d="M489.3,427.2L490,419.2 490.7,427 491.4,418.8 492.1,428.1" stroke="#ff0000" stroke-width="1.15" fill="none" stroke-linejoin="bevel"/>
<path d="M489.3,431.6L490,420 490.7,433.5 491.4,417 492.1,426.8" stroke="#00ee00" stroke-width="1.15" fill="none" stroke-linejoin="bevel"/>
<path d="M492.1,428.2L492.8,419.5 493.5,429.5 494.2,419 494.9,427.2 495.6,419.1" stroke="#0000ff" stroke-width="1.15" fill="none" stroke-linejoin="bevel"/>
<path d="M492.1,426.8L492.8,411.1 493.5,425.2 494.2,412.9 494.9,424.3 495.6,413.2" stroke="#00ee00" stroke-width="1.15" fill="none" stroke-linejoin="bevel"/>
<path d="M492.1,428.1L492.8,417 493.5,429.4 494.2,415.5 494.9,430 495.6,420.8" stroke="#ff0000" stroke-width="1.15" fill="none" stroke-linejoin="bevel"/>
<path d="M494.9,430L495.6,420.8 496.3,428.5 497,421.9 497.7,429 498.4,419.8" stroke="#ff0000" stroke-width="1.15" fill="none" stroke-linejoin="bevel"/>
<path d="M494.9,427.2L495.6,419.1 496.3,429.5 497,418.8 497.7,426.3 498.4,416.7" stroke="#0000ff" stroke-width="1.15" fill="none" stroke-linejoin="bevel"/>
<path d="M494.9,424.3L495.6,413.2 496.3,424.2 497,418 497.7,427 498.4,418.9" stroke="#00ee00" stroke-width="1.15" fill="none" stroke-linejoin="bevel"/>
<path d="M498.4,416.7L499.1,427.9 499.8,417.2 500.5,428.2 501.2,418.2" stroke="#0000ff" stroke-width="1.15" fill="none" stroke-linejoin="bevel"/>
<path d="M498.4,418.9L499.1,430.7 499.8,418.4 500.5,431.4 501.2,419" stroke="#00ee00" stroke-width="1.15" fill="none" stroke-linejoin="bevel"/>
<path d="M498.4,419.8L499.1,430.2 499.8,419.3 500.5,428.4 501.2,421.8" stroke="#ff0000" stroke-width="1.15" fill="none" stroke-linejoin="bevel"/>
<path d="M501.2,419L501.9,430.3 502.6,415.2 503.3,430.5 504,417.5" stroke="#00ee00" stroke-width="1.15" fill="none" stroke-linejoin="bevel"/>
<path d="M501.2,418.2L501.9,431.9 502.6,416.2 503.3,429.8 504,421.7" stroke="#0000ff" stroke-width="1.15" fill="none" stroke-linejoin="bevel"/>
<path d="M501.2,421.8L501.9,429.8 502.6,420 503.3,430.9 504,417.6" stroke="#ff0000" stroke-width="1.15" fill="none" stroke-linejoin="bevel"/>
<path d="M504,417.6L504.7,428 505.4,412.2 506.1,430 506.8,416.6 507.5,425.2" stroke="#ff0000" stroke-width="1.15" fill="none" stroke-linejoin="bevel"/>
<path d="M504,421.7L504.7,428.1 505.4,418.3 506.1,428.9 506.8,417.2 507.5,429.4" stroke="#0000ff" stroke-width="1.15" fill="none" stroke-linejoin="bevel"/>
<path d="M504,417.5L504.7,429.2 505.4,421.1 506.1,429.2 506.8,419.6 507.5,430.7" stroke="#00ee00" stroke-width="1.15" fill="none" stroke-linejoin="bevel"/>
<path d="M507.5,425.2L508.2,414 508.9,427 509.6,412.8 510.3,426.7" stroke="#ff0000" stroke-width="1.15" fill="none" stroke-linejoin="bevel"/>
<path d="M507.5,429.4L508.2,418.7 508.9,428.1 509.6,415.6 510.3,428.2" stroke="#0000ff" stroke-width="1.15" fill="none" stroke-linejoin="bevel"/>
<path d="M507.5,430.7L508.2,421.9 508.9,432 509.6,418.3 510.3,428.7" stroke="#00ee00" stroke-width="1.15" fill="none" stroke-linejoin="bevel"/>
<path d="M510.3,426.7L511,414.2 511.7,425.9 512.4,411.3 513.1,429.7" stroke="#ff0000" stroke-width="1.15" fill="none" stroke-linejoin="bevel"/>
<path d="M510.3,428.2L511,415.8 511.7,424.9 512.4,416.2 513.1,427.4" stroke="#0000ff" stroke-width="1.15" fill="none" stroke-linejoin="bevel"/>
<path d="M510.3,428.7L511,419.7 511.7,429.5 512.4,422.7 513.1,431.1" stroke="#00ee00" stroke-width="1.15" fill="none" stroke-linejoin="bevel"/>
<path d="M513.1,427.4L513.8,416.7 514.5,427.5 515.2,418.8 515.9,430.6 516.6,419.5" stroke="#0000ff" stroke-width="1.15" fill="none" stroke-linejoin="bevel"/>
<path d="M513.1,431.1L513.8,421.8 514.5,429.2 515.2,419.7 515.9,428.9 516.6,418.6" stroke="#00ee00" stroke-width="1.15" fill="none" stroke-linejoin="bevel"/>
<path d="M513.1,429.7L513.8,418 514.5,426 515.2,418.8 515.9,427.3 516.6,417.4" stroke="#ff0000" stroke-width="1.15" fill="none" stroke-linejoin="bevel"/>
<path d="M515.9,430.6L516.6,419.5 517.3,428.6 518,417.2 518.7,428.1 519.4,417.1" stroke="#0000ff" stroke-width="1.15" fill="none" stroke-linejoin="bevel"/>
<path d="M515.9,427.3L516.6,417.4 517.3,426.8 518,419.3 518.7,429 519.4,419.3" stroke="#ff0000" stroke-width="1.15" fill="none" stroke-linejoin="bevel"/>
<path d="M515.9,428.9L516.6,418.6 517.3,430 518,421 518.7,428.8 519.4,421.3" stroke="#00ee00" stroke-width="1.15" fill="none" stroke-linejoin="bevel"/>
<path d="M519.4,419.3L520.1,432.6 520.8,417.9 521.5,429.4 522.2,414.4" stroke="#ff0000" stroke-width="1.15" fill="none" stroke-linejoin="bevel"/>
<path d="M519.4,417.1L520.1,428.9 520.8,416.1 521.5,427.7 522.2,417.5" stroke="#0000ff" stroke-width="1.15" fill="none" stroke-linejoin="bevel"/>
<path d="M519.4,421.3L520.1,428.2 520.8,418.4 521.5,426.1 522.2,418.2" stroke="#00ee00" stroke-width="1.15" fill="none" stroke-linejoin="bevel"/>
<path d="M522.2,417.5L522.9,428.9 523.6,416.2 524.3,427.1 525,417.1" stroke="#0000ff" stroke-width="1.15" fill="none" stroke-linejoin="bevel"/>
<path d="M522.2,414.4L522.9,429.8 523.6,415.9 524.3,425 525,413.6" stroke="#ff0000" stroke-width="1.15" fill="none" stroke-linejoin="bevel"/>
<path d="M522.2,418.2L522.9,429.1 523.6,416.7 524.3,426 525,415.1" stroke="#00ee00" stroke-width="1.15" fill="none" stroke-linejoin="bevel"/>
<path d="M525,415.1L525.7,424.4 526.4,412.4 527.1,423.7 527.8,413.9 528.5,424.2" stroke="#00ee00" stroke-width="1.15" fill="none" stroke-linejoin="bevel"/>
<path d="M525,417.1L525.7,426.3 526.4,414.4 527.1,425.7 527.8,414.9 528.5,430.1" stroke="#0000ff" stroke-width="1.15" fill="none" stroke-linejoin="bevel"/>
<path d="M525,413.6L525.7,425 526.4,414.9 527.1,424.9 527.8,414.4 528.5,426.5" stroke="#ff0000" stroke-width="1.15" fill="none" stroke-linejoin="bevel"/>
<path d="M528.5,430.1L529.2,416.9 529.9,425.4 530.6,417 531.3,427" stroke="#0000ff" stroke-width="1.15" fill="none" stroke-linejoin="bevel"/>
<path d="M528.5,426.5L529.2,413.1 529.9,430.9 530.6,417.4 531.3,428.6" stroke="#ff0000" stroke-width="1.15" fill="none" stroke-linejoin="bevel"/>
<path d="M528.5,424.2L529.2,416.8 529.9,428.3 530.6,415.3 531.3,426.8" stroke="#00ee00" stroke-width="1.15" fill="none" stroke-linejoin="bevel"/>
<path d="M531.3,426.8L532,420.1 532.7,430.1 533.4,420.9 534.1,430.4" stroke="#00ee00" stroke-width="1.15" fill="none" stroke-linejoin="bevel"/>
<path d="M531.3,428.6L532,419.4 532.7,430.8 533.4,419.3 534.1,430.7" stroke="#ff0000" stroke-width="1.15" fill="none" stroke-linejoin="bevel"/>
<path d="M531.3,427L532,417.1 532.7,428.9 533.4,419.8 534.1,431.3" stroke="#0000ff" stroke-width="1.15" fill="none" stroke-linejoin="bevel"/>
<path d="M534.1,430.7L534.8,420.5 535.5,434.5 536.2,417.2 536.9,425.6 537.6,415" stroke="#ff0000" stroke-width="1.15" fill="none" stroke-linejoin="bevel"/>
<path d="M534.1,430.4L534.8,419.4 535.5,427.2 536.2,418.4 536.9,426.6 537.6,418.1" stroke="#00ee00" stroke-width="1.15" fill="none" stroke-linejoin="bevel"/>
<path d="M534.1,431.3L534.8,417.7 535.5,430.4 536.2,421.7 536.9,431.4 537.6,417" stroke="#0000ff" stroke-width="1.15" fill="none" stroke-linejoin="bevel"/>
<path d="M536.9,425.6L537.6,415 538.3,425.3 539,417.7 539.7,427.8 540.4,414.8" stroke="#ff0000" stroke-width="1.15" fill="none" stroke-linejoin="bevel"/>
<path d="M536.9,431.4L537.6,417 538.3,427.3 539,417.9 539.7,428.7 540.4,418.4" stroke="#0000ff" stroke-width="1.15" fill="none" stroke-linejoin="bevel"/>
<path d="M536.9,426.6L537.6,418.1 538.3,428.3 539,417 539.7,425.1 540.4,417.7" stroke="#00ee00" stroke-width="1.15" fill="none" stroke-linejoin="bevel"/>
<path d="M540.4,418.4L541.1,428.1 541.8,414.5 542.5,424.7 543.2,414.5" stroke="#0000ff" stroke-width="1.15" fill="none" stroke-linejoin="bevel"/>
<path d="M540.4,414.8L541.1,427.4 541.8,414.2 542.5,428.1 543.2,415.3" stroke="#ff0000" stroke-width="1.15" fill="none" stroke-linejoin="bevel"/>
<path d="M540.4,417.7L541.1,432.8 541.8,416.2 542.5,425.5 543.2,415" stroke="#00ee00" stroke-width="1.15" fill="none" stroke-linejoin="bevel"/>
<path d="M543.2,415.3L543.9,425.4 544.6,418 545.3,427.3 546,419.4" stroke="#ff0000" stroke-width="1.15" fill="none" stroke-linejoin="bevel"/>
<path d="M543.2,414.5L543.9,425.2 544.6,416.7 545.3,425.8 546,417.7" stroke="#0000ff" stroke-width="1.15" fill="none" stroke-linejoin="bevel"/>
<path d="M543.2,415L543.9,427.2 544.6,419 545.3,426 546,416" stroke="#00ee00" stroke-width="1.15" fill="none" stroke-linejoin="bevel"/>
<path d="M546,417.7L546.7,430 547.4,419.8 548.1,425.6 548.8,413 549.5,425.8" stroke="#0000ff" stroke-width="1.15" fill="none" stroke-linejoin="bevel"/>
<path d="M546,419.4L546.7,426.3 547.4,416.9 548.1,427.5 548.8,418.3 549.5,428.7" stroke="#ff0000" stroke-width="1.15" fill="none" stroke-linejoin="bevel"/>
<path d="M546,416L546.7,427.7 547.4,417.8 548.1,428.1 548.8,419.5 549.5,431" stroke="#00ee00" stroke-width="1.15" fill="none" stroke-linejoin="bevel"/>
<path d="M549.5,428.7L550.2,418.4 550.9,429.8 551.6,418.1 552.3,428.5" stroke="#ff0000" stroke-width="1.15" fill="none" stroke-linejoin="bevel"/>
<path d="M549.5,425.8L550.2,415.3 550.9,425.5 551.6,413.7 552.3,424.6" stroke="#0000ff" stroke-width="1.15" fill="none" stroke-linejoin="bevel"/>
<path d="M549.5,431L550.2,418.6 550.9,427.7 551.6,412.3 552.3,428.1" stroke="#00ee00" stroke-width="1.15" fill="none" stroke-linejoin="bevel"/>
<path d="M552.3,424.6L553,411.8 553.7,425.4 554.4,413.3 555.1,422" stroke="#0000ff" stroke-width="1.15" fill="none" stroke-linejoin="bevel"/>
<path d="M552.3,428.5L553,419.8 553.7,428.9 554.4,416.5 555.1,429.7" stroke="#ff0000" stroke-width="1.15" fill="none" stroke-linejoin="bevel"/>
<path d="M552.3,428.1L553,419.8 553.7,426.9 554.4,417.4 555.1,427.3" stroke="#00ee00" stroke-width="1.15" fill="none" stroke-linejoin="bevel"/>
<path d="M555.1,422L555.8,414.7 556.5,425 557.2,411.4 557.9,425.6 558.6,414.8" stroke="#0000ff" stroke-width="1.15" fill="none" stroke-linejoin="bevel"/>
<path d="M555.1,429.7L555.8,412.7 556.5,427 557.2,417.8 557.9,427.4 558.6,415.3" stroke="#ff0000" stroke-width="1.15" fill="none" stroke-linejoin="bevel"/>
<path d="M555.1,427.3L555.8,417.1 556.5,427.4 557.2,418.7 557.9,429.5 558.6,421.8" stroke="#00ee00" stroke-width="1.15" fill="none" stroke-linejoin="bevel"/>
<path d="M557.9,425.6L558.6,414.8 559.3,428.8 560,412 560.7,427.4 561.4,420.6" stroke="#0000ff" stroke-width="1.15" fill="none" stroke-linejoin="bevel"/>
<path d="M557.9,429.5L558.6,421.8 559.3,428.4 560,418.2 560.7,431.5 561.4,420.2" stroke="#00ee00" stroke-width="1.15" fill="none" stroke-linejoin="bevel"/>
<path d="M557.9,427.4L558.6,415.3 559.3,426.4 560,416.7 560.7,425.2 561.4,418.5" stroke="#ff0000" stroke-width="1.15" fill="none" stroke-linejoin="bevel"/>
<path d="M561.4,420.6L562.1,427.7 562.8,421.2 563.5,430.1 564.2,421.9" stroke="#0000ff" stroke-width="1.15" fill="none" stroke-linejoin="bevel"/>
<path d="M561.4,418.5L562.1,426 562.8,416.7 563.5,427.6 564.2,414.7" stroke="#ff0000" stroke-width="1.15" fill="none" stroke-linejoin="bevel"/>
<path d="M561.4,420.2L562.1,432.5 562.8,421.6 563.5,429.5 564.2,417" stroke="#00ee00" stroke-width="1.15" fill="none" stroke-linejoin="bevel"/>
<path d="M564.2,414.7L564.9,426 565.6,414.3 566.3,430.1 567,415" stroke="#ff0000" stroke-width="1.15" fill="none" stroke-linejoin="bevel"/>
<path d="M564.2,421.9L564.9,431.2 565.6,418.7 566.3,430.6 567,415.7" stroke="#0000ff" stroke-width="1.15" fill="none" stroke-linejoin="bevel"/>
<path d="M564.2,417L564.9,430.3 565.6,420.2 566.3,429.3 567,418.3" stroke="#00ee00" stroke-width="1.15" fill="none" stroke-linejoin="bevel"/>
<path d="M567,415.7L567.7,430 568.4,421.3 569.1,427.6 569.8,420.6 570.5,431.1" stroke="#0000ff" stroke-width="1.15" fill="none" stroke-linejoin="bevel"/>
<path d="M567,415L567.7,425.2 568.4,413.2 569.1,425.9 569.8,415.1 570.5,423.6" stroke="#ff0000" stroke-width="1.15" fill="none" stroke-linejoin="bevel"/>
<path d="M567,418.3L567.7,434.2 568.4,420.5 569.1,428 569.8,416.8 570.5,430.9" stroke="#00ee00" stroke-width="1.15" fill="none" stroke-linejoin="bevel"/>
<path d="M570.5,431.1L571.2,420 571.9,434.2 572.6,419.9 573.3,433.6" stroke="#0000ff" stroke-width="1.15" fill="none" stroke-linejoin="bevel"/>
<path d="M570.5,423.6L571.2,415.8 571.9,425 572.6,417.5 573.3,427" stroke="#ff0000" stroke-width="1.15" fill="none" stroke-linejoin="bevel"/>
<path d="M570.5,430.9L571.2,417.6 571.9,426.5 572.6,417 573.3,429.8" stroke="#00ee00" stroke-width="1.15" fill="none" stroke-linejoin="bevel"/>
<path d="M573.3,429.8L574,417.5 574.7,429.2 575.4,412.6 576.1,427.3" stroke="#00ee00" stroke-width="1.15" fill="none" stroke-linejoin="bevel"/>
<path d="M573.3,433.6L574,417.9 574.7,430.9 575.4,420.9 576.1,431.2" stroke="#0000ff" stroke-width="1.15" fill="none" stroke-linejoin="bevel"/>
<path d="M573.3,427L574,417.8 574.7,427.7 575.4,414.6 576.1,426.6" stroke="#ff0000" stroke-width="1.15" fill="none" stroke-linejoin="bevel"/>
<path d="M576.1,431.2L576.8,419.2 577.5,429.2 578.2,414.4 578.9,429.4" stroke="#0000ff" stroke-width="1.15" fill="none" stroke-linejoin="bevel"/>
<path d="M576.1,426.6L576.8,417.1 577.5,429.5 578.2,419.2 578.9,426.8" stroke="#ff0000" stroke-width="1.15" fill="none" stroke-linejoin="bevel"/>
<path d="M576.1,427.3L576.8,414.6 577.5,426.5 578.2,418.7 578.9,427.5" stroke="#00ee00" stroke-width="1.15" fill="none" stroke-linejoin="bevel"/>
<path d="M396.8 401L397.6 452L398.4 405L399.2 447" stroke="#00ee00" stroke-width="1.2" fill="none"/>
<path d="M396.2 455L397 403" stroke="#0000ff" stroke-width="1.2" fill="none"/>
<path d="M213.8,412.6L214.8,435.8 215.8,416 216.8,435.6" stroke="#ff0000" stroke-width="1.2" fill="none" stroke-linejoin="bevel"/>
<path d="M213.8,406L214.8,441.9 215.8,418.6 216.8,434.4" stroke="#0000ff" stroke-width="1.2" fill="none" stroke-linejoin="bevel"/>
<path d="M213.8,407.6L214.8,435.9 215.8,409.9 216.8,432.8" stroke="#00ee00" stroke-width="1.2" fill="none" stroke-linejoin="bevel"/>
<path d="M215.8,416L216.8,435.6 217.8,411.4 218.8,435.8" stroke="#ff0000" stroke-width="1.2" fill="none" stroke-linejoin="bevel"/>
<path d="M215.8,418.6L216.8,434.4 217.8,414.3 218.8,454.3" stroke="#0000ff" stroke-width="1.2" fill="none" stroke-linejoin="bevel"/>
<path d="M215.8,409.9L216.8,432.8 217.8,414 218.8,441.4" stroke="#00ee00" stroke-width="1.2" fill="none" stroke-linejoin="bevel"/>
<path d="M218.8,454.3L219.8,411.4 220.8,439.3 221.8,413.3" stroke="#0000ff" stroke-width="1.2" fill="none" stroke-linejoin="bevel"/>
<path d="M218.8,435.8L219.8,413.5 220.8,436.7 221.8,417.3" stroke="#ff0000" stroke-width="1.2" fill="none" stroke-linejoin="bevel"/>
<path d="M218.8,441.4L219.8,412 220.8,440.5 221.8,412.9" stroke="#00ee00" stroke-width="1.2" fill="none" stroke-linejoin="bevel"/>
<path d="M221.8,417.3L222.8,436.5 223.8,410.7 224.8,451.8" stroke="#ff0000" stroke-width="1.2" fill="none" stroke-linejoin="bevel"/>
<path d="M221.8,413.3L222.8,437 223.8,414.8 224.8,435.7" stroke="#0000ff" stroke-width="1.2" fill="none" stroke-linejoin="bevel"/>
<path d="M221.8,412.9L222.8,441.9 223.8,418.6 224.8,435.7" stroke="#00ee00" stroke-width="1.2" fill="none" stroke-linejoin="bevel"/>
<path d="M223.8,410.7L224.8,451.8 225.8,407.5 226.8,429" stroke="#ff0000" stroke-width="1.2" fill="none" stroke-linejoin="bevel"/>
<path d="M223.8,414.8L224.8,435.7 225.8,411.6 226.8,436.6" stroke="#0000ff" stroke-width="1.2" fill="none" stroke-linejoin="bevel"/>
<path d="M223.8,418.6L224.8,435.7 225.8,406.7 226.8,438" stroke="#00ee00" stroke-width="1.2" fill="none" stroke-linejoin="bevel"/>
<path d="M226.8,429L227.8,408 228.8,443.7 229.8,394.3" stroke="#ff0000" stroke-width="1.2" fill="none" stroke-linejoin="bevel"/>
<path d="M226.8,436.6L227.8,410.5 228.8,432.2 229.8,415.8" stroke="#0000ff" stroke-width="1.2" fill="none" stroke-linejoin="bevel"/>
<path d="M226.8,438L227.8,414.9 228.8,439.8 229.8,416" stroke="#00ee00" stroke-width="1.2" fill="none" stroke-linejoin="bevel"/>
<path d="M228.8,443.7L229.8,394.3 230.8,433.6 231.8,393.5" stroke="#ff0000" stroke-width="1.2" fill="none" stroke-linejoin="bevel"/>
<path d="M228.8,439.8L229.8,416 230.8,436.9 231.8,419.8" stroke="#00ee00" stroke-width="1.2" fill="none" stroke-linejoin="bevel"/>
<path d="M228.8,432.2L229.8,415.8 230.8,437.9 231.8,401.2" stroke="#0000ff" stroke-width="1.2" fill="none" stroke-linejoin="bevel"/>
<path d="M231.8,393.5L232.8,432.5 233.8,400.2 234.8,440.3" stroke="#ff0000" stroke-width="1.2" fill="none" stroke-linejoin="bevel"/>
<path d="M231.8,401.2L232.8,432.6 233.8,419.5 234.8,444.8" stroke="#0000ff" stroke-width="1.2" fill="none" stroke-linejoin="bevel"/>
<path d="M231.8,419.8L232.8,441.1 233.8,418 234.8,448.4" stroke="#00ee00" stroke-width="1.2" fill="none" stroke-linejoin="bevel"/>
<path d="M234.8,440.3L235.8,421 236.8,441.3 237.8,418.2" stroke="#ff0000" stroke-width="1.2" fill="none" stroke-linejoin="bevel"/>
<path d="M234.8,444.8L235.8,420.9 236.8,451.7 237.8,420.8" stroke="#0000ff" stroke-width="1.2" fill="none" stroke-linejoin="bevel"/>
<path d="M234.8,448.4L235.8,420.7 236.8,442.2 237.8,413.8" stroke="#00ee00" stroke-width="1.2" fill="none" stroke-linejoin="bevel"/>
<path d="M236.8,451.7L237.8,420.8 238.8,457.6 239.8,417" stroke="#0000ff" stroke-width="1.2" fill="none" stroke-linejoin="bevel"/>
<path d="M236.8,441.3L237.8,418.2 238.8,445.1 239.8,421.9" stroke="#ff0000" stroke-width="1.2" fill="none" stroke-linejoin="bevel"/>
<path d="M236.8,442.2L237.8,413.8 238.8,435.9 239.8,421.1" stroke="#00ee00" stroke-width="1.2" fill="none" stroke-linejoin="bevel"/>
<path d="M239.8,421.9L240.8,439.8 241.8,414.6 242.8,444.5" stroke="#ff0000" stroke-width="1.2" fill="none" stroke-linejoin="bevel"/>
<path d="M239.8,421.1L240.8,443.1 241.8,416.7 242.8,443.4" stroke="#00ee00" stroke-width="1.2" fill="none" stroke-linejoin="bevel"/>
<path d="M239.8,417L240.8,440.1 241.8,418.4 242.8,455.1" stroke="#0000ff" stroke-width="1.2" fill="none" stroke-linejoin="bevel"/>
<path d="M241.8,418.4L242.8,455.1 243.8,412.2 244.8,440.5" stroke="#0000ff" stroke-width="1.2" fill="none" stroke-linejoin="bevel"/>
<path d="M241.8,416.7L242.8,443.4 243.8,415.1 244.8,442.5" stroke="#00ee00" stroke-width="1.2" fill="none" stroke-linejoin="bevel"/>
<path d="M241.8,414.6L242.8,444.5 243.8,404.5 244.8,447.4" stroke="#ff0000" stroke-width="1.2" fill="none" stroke-linejoin="bevel"/>
<path d="M244.8,440.5L245.8,414.4 246.8,438.7 247.8,412.2" stroke="#0000ff" stroke-width="1.2" fill="none" stroke-linejoin="bevel"/>
<path d="M244.8,447.4L245.8,419.6 246.8,435.8 247.8,395.3" stroke="#ff0000" stroke-width="1.2" fill="none" stroke-linejoin="bevel"/>
<path d="M244.8,442.5L245.8,411.7 246.8,441.5 247.8,415.4" stroke="#00ee00" stroke-width="1.2" fill="none" stroke-linejoin="bevel"/>
<path d="M247.8,412.2L248.8,442.1 249.8,411.3 250.8,433.4" stroke="#0000ff" stroke-width="1.2" fill="none" stroke-linejoin="bevel"/>
<path d="M247.8,395.3L248.8,436.8 249.8,416 250.8,434.4" stroke="#ff0000" stroke-width="1.2" fill="none" stroke-linejoin="bevel"/>
<path d="M247.8,415.4L248.8,434.3 249.8,394.3 250.8,439" stroke="#00ee00" stroke-width="1.2" fill="none" stroke-linejoin="bevel"/>
<path d="M249.8,394.3L250.8,439 251.8,415.1 252.8,431.7" stroke="#00ee00" stroke-width="1.2" fill="none" stroke-linejoin="bevel"/>
<path d="M249.8,416L250.8,434.4 251.8,413 252.8,429" stroke="#ff0000" stroke-width="1.2" fill="none" stroke-linejoin="bevel"/>
<path d="M249.8,411.3L250.8,433.4 251.8,413.6 252.8,432.5" stroke="#0000ff" stroke-width="1.2" fill="none" stroke-linejoin="bevel"/>
<path d="M252.8,432.5L253.8,401.5 254.8,434.1 255.8,413.5" stroke="#0000ff" stroke-width="1.2" fill="none" stroke-linejoin="bevel"/>
<path d="M252.8,429L253.8,414.2 254.8,435 255.8,401.5" stroke="#ff0000" stroke-width="1.2" fill="none" stroke-linejoin="bevel"/>
<path d="M252.8,431.7L253.8,414.1 254.8,431.9 255.8,401.5" stroke="#00ee00" stroke-width="1.2" fill="none" stroke-linejoin="bevel"/>
<path d="M254.8,435L255.8,401.5 256.8,436.3 257.8,421.9" stroke="#ff0000" stroke-width="1.2" fill="none" stroke-linejoin="bevel"/>
<path d="M254.8,434.1L255.8,413.5 256.8,441.3 257.8,413.3" stroke="#0000ff" stroke-width="1.2" fill="none" stroke-linejoin="bevel"/>
<path d="M254.8,431.9L255.8,401.5 256.8,442.3 257.8,418.7" stroke="#00ee00" stroke-width="1.2" fill="none" stroke-linejoin="bevel"/>
<path d="M257.8,421.9L258.8,440.7 259.8,416.2 260.8,445" stroke="#ff0000" stroke-width="1.2" fill="none" stroke-linejoin="bevel"/>
<path d="M257.8,413.3L258.8,446.9 259.8,413.4 260.8,436.8" stroke="#0000ff" stroke-width="1.2" fill="none" stroke-linejoin="bevel"/>
<path d="M257.8,418.7L258.8,440.7 259.8,419.3 260.8,439" stroke="#00ee00" stroke-width="1.2" fill="none" stroke-linejoin="bevel"/>
<path d="M260.8,436.8L261.8,415.1 262.8,437.3 263.8,411.2" stroke="#0000ff" stroke-width="1.2" fill="none" stroke-linejoin="bevel"/>
<path d="M260.8,445L261.8,423.3 262.8,456.7 263.8,418.1" stroke="#ff0000" stroke-width="1.2" fill="none" stroke-linejoin="bevel"/>
<path d="M260.8,439L261.8,420.6 262.8,439.7 263.8,418.1" stroke="#00ee00" stroke-width="1.2" fill="none" stroke-linejoin="bevel"/>
<path d="M262.8,456.7L263.8,418.1 264.8,450.7 265.8,417.7" stroke="#ff0000" stroke-width="1.2" fill="none" stroke-linejoin="bevel"/>
<path d="M262.8,437.3L263.8,411.2 264.8,442.1 265.8,411.5" stroke="#0000ff" stroke-width="1.2" fill="none" stroke-linejoin="bevel"/>
<path d="M262.8,439.7L263.8,418.1 264.8,440.9 265.8,414.7" stroke="#00ee00" stroke-width="1.2" fill="none" stroke-linejoin="bevel"/>
<path d="M265.8,417.7L266.8,438.6 267.8,403.9 268.8,444.2" stroke="#ff0000" stroke-width="1.2" fill="none" stroke-linejoin="bevel"/>
<path d="M265.8,411.5L266.8,435.2 267.8,412.8 268.8,439.2" stroke="#0000ff" stroke-width="1.2" fill="none" stroke-linejoin="bevel"/>
<path d="M265.8,414.7L266.8,446.7 267.8,417.5 268.8,434.8" stroke="#00ee00" stroke-width="1.2" fill="none" stroke-linejoin="bevel"/>
<path d="M267.8,412.8L268.8,439.2 269.8,408.6 270.8,438.2" stroke="#0000ff" stroke-width="1.2" fill="none" stroke-linejoin="bevel"/>
<path d="M267.8,403.9L268.8,444.2 269.8,419.1 270.8,443.8" stroke="#ff0000" stroke-width="1.2" fill="none" stroke-linejoin="bevel"/>
<path d="M267.8,417.5L268.8,434.8 269.8,416.3 270.8,438.1" stroke="#00ee00" stroke-width="1.2" fill="none" stroke-linejoin="bevel"/>
<path d="M270.8,438.2L271.8,414.1 272.8,442.6 273.8,410.1" stroke="#0000ff" stroke-width="1.2" fill="none" stroke-linejoin="bevel"/>
<path d="M270.8,443.8L271.8,419.8 272.8,444.5 273.8,411.5" stroke="#ff0000" stroke-width="1.2" fill="none" stroke-linejoin="bevel"/>
<path d="M270.8,438.1L271.8,407.8 272.8,434.9 273.8,410.2" stroke="#00ee00" stroke-width="1.2" fill="none" stroke-linejoin="bevel"/>
<path d="M273.8,410.1L274.8,437.5 275.8,411.1 276.8,441.4" stroke="#0000ff" stroke-width="1.2" fill="none" stroke-linejoin="bevel"/>
<path d="M273.8,411.5L274.8,437.8 275.8,415.2 276.8,437.4" stroke="#ff0000" stroke-width="1.2" fill="none" stroke-linejoin="bevel"/>
<path d="M273.8,410.2L274.8,433 275.8,413.3 276.8,436.5" stroke="#00ee00" stroke-width="1.2" fill="none" stroke-linejoin="bevel"/>
<path d="M275.8,411.1L276.8,441.4 277.8,414.1 278.8,440.2" stroke="#0000ff" stroke-width="1.2" fill="none" stroke-linejoin="bevel"/>
<path d="M275.8,413.3L276.8,436.5 277.8,417.2 278.8,438.5" stroke="#00ee00" stroke-width="1.2" fill="none" stroke-linejoin="bevel"/>
<path d="M275.8,415.2L276.8,437.4 277.8,421.1 278.8,439.2" stroke="#ff0000" stroke-width="1.2" fill="none" stroke-linejoin="bevel"/>
<path d="M278.8,439.2L279.8,411.9 280.8,436 281.8,408.4" stroke="#ff0000" stroke-width="1.2" fill="none" stroke-linejoin="bevel"/>
<path d="M278.8,440.2L279.8,398.4 280.8,445.2 281.8,419.3" stroke="#0000ff" stroke-width="1.2" fill="none" stroke-linejoin="bevel"/>
<path d="M278.8,438.5L279.8,414.9 280.8,434.9 281.8,410.6" stroke="#00ee00" stroke-width="1.2" fill="none" stroke-linejoin="bevel"/>
<path d="M280.8,436L281.8,408.4 282.8,437 283.8,423.3" stroke="#ff0000" stroke-width="1.2" fill="none" stroke-linejoin="bevel"/>
<path d="M280.8,445.2L281.8,419.3 282.8,444.5 283.8,420.2" stroke="#0000ff" stroke-width="1.2" fill="none" stroke-linejoin="bevel"/>
<path d="M280.8,434.9L281.8,410.6 282.8,440 283.8,411.4" stroke="#00ee00" stroke-width="1.2" fill="none" stroke-linejoin="bevel"/>
<path d="M283.8,420.2L284.8,445.3 285.8,422.4 286.8,441.9" stroke="#0000ff" stroke-width="1.2" fill="none" stroke-linejoin="bevel"/>
<path d="M283.8,411.4L284.8,434.6 285.8,410.9 286.8,442.5" stroke="#00ee00" stroke-width="1.2" fill="none" stroke-linejoin="bevel"/>
<path d="M283.8,423.3L284.8,441 285.8,417.7 286.8,446.1" stroke="#ff0000" stroke-width="1.2" fill="none" stroke-linejoin="bevel"/>
<path d="M286.8,446.1L287.8,424.4 288.8,440.5 289.8,420.7" stroke="#ff0000" stroke-width="1.2" fill="none" stroke-linejoin="bevel"/>
<path d="M286.8,441.9L287.8,422.9 288.8,442.7 289.8,404.3" stroke="#0000ff" stroke-width="1.2" fill="none" stroke-linejoin="bevel"/>
<path d="M286.8,442.5L287.8,420.7 288.8,435.6 289.8,412" stroke="#00ee00" stroke-width="1.2" fill="none" stroke-linejoin="bevel"/>
<path d="M288.8,440.5L289.8,420.7 290.8,449.7 291.8,421.9" stroke="#ff0000" stroke-width="1.2" fill="none" stroke-linejoin="bevel"/>
<path d="M288.8,435.6L289.8,412 290.8,450.6 291.8,418.4" stroke="#00ee00" stroke-width="1.2" fill="none" stroke-linejoin="bevel"/>
<path d="M288.8,442.7L289.8,404.3 290.8,441.7 291.8,421.4" stroke="#0000ff" stroke-width="1.2" fill="none" stroke-linejoin="bevel"/>
<path d="M291.8,421.9L292.8,451.5 293.8,404.6 294.8,434" stroke="#ff0000" stroke-width="1.2" fill="none" stroke-linejoin="bevel"/>
<path d="M291.8,421.4L292.8,439.1 293.8,422.5 294.8,442.4" stroke="#0000ff" stroke-width="1.2" fill="none" stroke-linejoin="bevel"/>
<path d="M291.8,418.4L292.8,435.3 293.8,418 294.8,436.9" stroke="#00ee00" stroke-width="1.2" fill="none" stroke-linejoin="bevel"/>
<path d="M293.8,422.5L294.8,442.4 295.8,419.2 296.8,437.9" stroke="#0000ff" stroke-width="1.2" fill="none" stroke-linejoin="bevel"/>
<path d="M293.8,418L294.8,436.9 295.8,418.4 296.8,442.4" stroke="#00ee00" stroke-width="1.2" fill="none" stroke-linejoin="bevel"/>
<path d="M293.8,404.6L294.8,434 295.8,416.9 296.8,439.6" stroke="#ff0000" stroke-width="1.2" fill="none" stroke-linejoin="bevel"/>
<path d="M296.8,439.6L297.8,418.3 298.8,440.1 299.8,414.2" stroke="#ff0000" stroke-width="1.2" fill="none" stroke-linejoin="bevel"/>
<path d="M296.8,437.9L297.8,412.6 298.8,433 299.8,417.5" stroke="#0000ff" stroke-width="1.2" fill="none" stroke-linejoin="bevel"/>
<path d="M296.8,442.4L297.8,416.2 298.8,450.6 299.8,418.3" stroke="#00ee00" stroke-width="1.2" fill="none" stroke-linejoin="bevel"/>
<path d="M299.8,417.5L300.8,439 301.8,411.1 302.8,429.9" stroke="#0000ff" stroke-width="1.2" fill="none" stroke-linejoin="bevel"/>
<path d="M299.8,414.2L300.8,434.5 301.8,415.6 302.8,433.6" stroke="#ff0000" stroke-width="1.2" fill="none" stroke-linejoin="bevel"/>
<path d="M299.8,418.3L300.8,442.8 301.8,420.4 302.8,445" stroke="#00ee00" stroke-width="1.2" fill="none" stroke-linejoin="bevel"/>
<path d="M301.8,420.4L302.8,445 303.8,417.8 304.8,442.4" stroke="#00ee00" stroke-width="1.2" fill="none" stroke-linejoin="bevel"/>
<path d="M301.8,411.1L302.8,429.9 303.8,407.8 304.8,435.9" stroke="#0000ff" stroke-width="1.2" fill="none" stroke-linejoin="bevel"/>
<path d="M301.8,415.6L302.8,433.6 303.8,418.2 304.8,439.1" stroke="#ff0000" stroke-width="1.2" fill="none" stroke-linejoin="bevel"/>
<path d="M304.8,442.4L305.8,411 306.8,441.9 307.8,402.3" stroke="#00ee00" stroke-width="1.2" fill="none" stroke-linejoin="bevel"/>
<path d="M304.8,435.9L305.8,414.2 306.8,431.6 307.8,411.6" stroke="#0000ff" stroke-width="1.2" fill="none" stroke-linejoin="bevel"/>
<path d="M304.8,439.1L305.8,401.6 306.8,439 307.8,422.9" stroke="#ff0000" stroke-width="1.2" fill="none" stroke-linejoin="bevel"/>
<path d="M306.8,431.6L307.8,411.6 308.8,434.2 309.8,415.4" stroke="#0000ff" stroke-width="1.2" fill="none" stroke-linejoin="bevel"/>
<path d="M306.8,439L307.8,422.9 308.8,443.9 309.8,416.7" stroke="#ff0000" stroke-width="1.2" fill="none" stroke-linejoin="bevel"/>
<path d="M306.8,441.9L307.8,402.3 308.8,444 309.8,421.4" stroke="#00ee00" stroke-width="1.2" fill="none" stroke-linejoin="bevel"/>
<path d="M309.8,415.4L310.8,439.1 311.8,415.2 312.8,436.1" stroke="#0000ff" stroke-width="1.2" fill="none" stroke-linejoin="bevel"/>
<path d="M309.8,416.7L310.8,433.4 311.8,411 312.8,436.1" stroke="#ff0000" stroke-width="1.2" fill="none" stroke-linejoin="bevel"/>
<path d="M309.8,421.4L310.8,441.2 311.8,419.4 312.8,440.9" stroke="#00ee00" stroke-width="1.2" fill="none" stroke-linejoin="bevel"/>
<path d="M312.8,436.1L313.8,405.2 314.8,444.9 315.8,412.6" stroke="#ff0000" stroke-width="1.2" fill="none" stroke-linejoin="bevel"/>
<path d="M312.8,436.1L313.8,414.8 314.8,431.6 315.8,410.1" stroke="#0000ff" stroke-width="1.2" fill="none" stroke-linejoin="bevel"/>
<path d="M312.8,440.9L313.8,416.7 314.8,439.2 315.8,421.6" stroke="#00ee00" stroke-width="1.2" fill="none" stroke-linejoin="bevel"/>
<path d="M314.8,444.9L315.8,412.6 316.8,428.2 317.8,394.6" stroke="#ff0000" stroke-width="1.2" fill="none" stroke-linejoin="bevel"/>
<path d="M314.8,431.6L315.8,410.1 316.8,442.6 317.8,411" stroke="#0000ff" stroke-width="1.2" fill="none" stroke-linejoin="bevel"/>
<path d="M314.8,439.2L315.8,421.6 316.8,453.4 317.8,410.7" stroke="#00ee00" stroke-width="1.2" fill="none" stroke-linejoin="bevel"/>
<path d="M317.8,394.6L318.8,434.6 319.8,413.9 320.8,434.2" stroke="#ff0000" stroke-width="1.2" fill="none" stroke-linejoin="bevel"/>
<path d="M317.8,411L318.8,431.2 319.8,415.7 320.8,440.9" stroke="#0000ff" stroke-width="1.2" fill="none" stroke-linejoin="bevel"/>
<path d="M317.8,410.7L318.8,439.2 319.8,421.4 320.8,438.5" stroke="#00ee00" stroke-width="1.2" fill="none" stroke-linejoin="bevel"/>
<path d="M319.8,415.7L320.8,440.9 321.8,420.2 322.8,435.5" stroke="#0000ff" stroke-width="1.2" fill="none" stroke-linejoin="bevel"/>
<path d="M319.8,413.9L320.8,434.2 321.8,406.7 322.8,442.4" stroke="#ff0000" stroke-width="1.2" fill="none" stroke-linejoin="bevel"/>
<path d="M319.8,421.4L320.8,438.5 321.8,420.7 322.8,434.5" stroke="#00ee00" stroke-width="1.2" fill="none" stroke-linejoin="bevel"/>
<path d="M322.8,435.5L323.8,399.8 324.8,436.4 325.8,401" stroke="#0000ff" stroke-width="1.2" fill="none" stroke-linejoin="bevel"/>
<path d="M322.8,442.4L323.8,414.9 324.8,444.4 325.8,402.5" stroke="#ff0000" stroke-width="1.2" fill="none" stroke-linejoin="bevel"/>
<path d="M322.8,434.5L323.8,417.2 324.8,435 325.8,403.4" stroke="#00ee00" stroke-width="1.2" fill="none" stroke-linejoin="bevel"/>
<path d="M325.8,401L326.8,443.6 327.8,397.6 328.8,436.3" stroke="#0000ff" stroke-width="1.2" fill="none" stroke-linejoin="bevel"/>
<path d="M325.8,402.5L326.8,438.7 327.8,400.2 328.8,436.2" stroke="#ff0000" stroke-width="1.2" fill="none" stroke-linejoin="bevel"/>
<path d="M325.8,403.4L326.8,441.8 327.8,420.1 328.8,439.6" stroke="#00ee00" stroke-width="1.2" fill="none" stroke-linejoin="bevel"/>
<path d="M327.8,420.1L328.8,439.6 329.8,421.4 330.8,445" stroke="#00ee00" stroke-width="1.2" fill="none" stroke-linejoin="bevel"/>
<path d="M327.8,397.6L328.8,436.3 329.8,401.2 330.8,441.8" stroke="#0000ff" stroke-width="1.2" fill="none" stroke-linejoin="bevel"/>
<path d="M327.8,400.2L328.8,436.2 329.8,417.1 330.8,435.6" stroke="#ff0000" stroke-width="1.2" fill="none" stroke-linejoin="bevel"/>
<path d="M330.8,435.6L331.8,408.1 332.8,444.8 333.8,412.3" stroke="#ff0000" stroke-width="1.2" fill="none" stroke-linejoin="bevel"/>
<path d="M330.8,441.8L331.8,415.3 332.8,443 333.8,419.8" stroke="#0000ff" stroke-width="1.2" fill="none" stroke-linejoin="bevel"/>
<path d="M330.8,445L331.8,411.5 332.8,440 333.8,418.3" stroke="#00ee00" stroke-width="1.2" fill="none" stroke-linejoin="bevel"/>
<path d="M332.8,443L333.8,419.8 334.8,442.3 335.8,405.4" stroke="#0000ff" stroke-width="1.2" fill="none" stroke-linejoin="bevel"/>
<path d="M332.8,444.8L333.8,412.3 334.8,435.3 335.8,413.3" stroke="#ff0000" stroke-width="1.2" fill="none" stroke-linejoin="bevel"/>
<path d="M332.8,440L333.8,418.3 334.8,445.3 335.8,405.2" stroke="#00ee00" stroke-width="1.2" fill="none" stroke-linejoin="bevel"/>
<path d="M335.8,405.4L336.8,435.3 337.8,414.1 338.8,436.9" stroke="#0000ff" stroke-width="1.2" fill="none" stroke-linejoin="bevel"/>
<path d="M335.8,413.3L336.8,435.2 337.8,414.3 338.8,440.2" stroke="#ff0000" stroke-width="1.2" fill="none" stroke-linejoin="bevel"/>
<path d="M335.8,405.2L336.8,440.7 337.8,421.6 338.8,444.3" stroke="#00ee00" stroke-width="1.2" fill="none" stroke-linejoin="bevel"/>
<path d="M338.8,444.3L339.8,417.2 340.8,438.6 341.8,417" stroke="#00ee00" stroke-width="1.2" fill="none" stroke-linejoin="bevel"/>
<path d="M338.8,436.9L339.8,412.4 340.8,439.8 341.8,414" stroke="#0000ff" stroke-width="1.2" fill="none" stroke-linejoin="bevel"/>
<path d="M338.8,440.2L339.8,406.7 340.8,433.8 341.8,417" stroke="#ff0000" stroke-width="1.2" fill="none" stroke-linejoin="bevel"/>
<path d="M340.8,433.8L341.8,417 342.8,441.5 343.8,420.9" stroke="#ff0000" stroke-width="1.2" fill="none" stroke-linejoin="bevel"/>
<path d="M340.8,439.8L341.8,414 342.8,428.4 343.8,412" stroke="#0000ff" stroke-width="1.2" fill="none" stroke-linejoin="bevel"/>
<path d="M340.8,438.6L341.8,417 342.8,443.2 343.8,420.9" stroke="#00ee00" stroke-width="1.2" fill="none" stroke-linejoin="bevel"/>
<path d="M343.8,420.9L344.8,441.5 345.8,422.1 346.8,435.1" stroke="#ff0000" stroke-width="1.2" fill="none" stroke-linejoin="bevel"/>
<path d="M343.8,412L344.8,448.1 345.8,412.5 346.8,438.6" stroke="#0000ff" stroke-width="1.2" fill="none" stroke-linejoin="bevel"/>
<path d="M343.8,420.9L344.8,448.5 345.8,415.5 346.8,458.5" stroke="#00ee00" stroke-width="1.2" fill="none" stroke-linejoin="bevel"/>
<path d="M345.8,415.5L346.8,458.5 347.8,414.1 348.8,442.8" stroke="#00ee00" stroke-width="1.2" fill="none" stroke-linejoin="bevel"/>
<path d="M345.8,422.1L346.8,435.1 347.8,418.6 348.8,440.3" stroke="#ff0000" stroke-width="1.2" fill="none" stroke-linejoin="bevel"/>
<path d="M345.8,412.5L346.8,438.6 347.8,416.8 348.8,435.5" stroke="#0000ff" stroke-width="1.2" fill="none" stroke-linejoin="bevel"/>
<path d="M348.8,435.5L349.8,413.2 350.8,435.1 351.8,415.6" stroke="#0000ff" stroke-width="1.2" fill="none" stroke-linejoin="bevel"/>
<path d="M348.8,442.8L349.8,419.9 350.8,445.5 351.8,425.6" stroke="#00ee00" stroke-width="1.2" fill="none" stroke-linejoin="bevel"/>
<path d="M348.8,440.3L349.8,420 350.8,435.7 351.8,411.9" stroke="#ff0000" stroke-width="1.2" fill="none" stroke-linejoin="bevel"/>
<path d="M351.8,425.6L352.8,447 353.8,413.8 354.8,445" stroke="#00ee00" stroke-width="1.2" fill="none" stroke-linejoin="bevel"/>
<path d="M351.8,411.9L352.8,441.7 353.8,417.4 354.8,440" stroke="#ff0000" stroke-width="1.2" fill="none" stroke-linejoin="bevel"/>
<path d="M351.8,415.6L352.8,435.5 353.8,413.1 354.8,443.4" stroke="#0000ff" stroke-width="1.2" fill="none" stroke-linejoin="bevel"/>
<path d="M353.8,417.4L354.8,440 355.8,403.1 356.8,433.4" stroke="#ff0000" stroke-width="1.2" fill="none" stroke-linejoin="bevel"/>
<path d="M353.8,413.1L354.8,443.4 355.8,399 356.8,436.6" stroke="#0000ff" stroke-width="1.2" fill="none" stroke-linejoin="bevel"/>
<path d="M353.8,413.8L354.8,445 355.8,427.7 356.8,446.6" stroke="#00ee00" stroke-width="1.2" fill="none" stroke-linejoin="bevel"/>
<path d="M356.8,433.4L357.8,419.8 358.8,451.4 359.8,415.7" stroke="#ff0000" stroke-width="1.2" fill="none" stroke-linejoin="bevel"/>
<path d="M356.8,436.6L357.8,419.4 358.8,435.8 359.8,414.1" stroke="#0000ff" stroke-width="1.2" fill="none" stroke-linejoin="bevel"/>
<path d="M356.8,446.6L357.8,426.3 358.8,444.3 359.8,425.2" stroke="#00ee00" stroke-width="1.2" fill="none" stroke-linejoin="bevel"/>
<path d="M358.8,435.8L359.8,414.1 360.8,459.8 361.8,417.1" stroke="#0000ff" stroke-width="1.2" fill="none" stroke-linejoin="bevel"/>
<path d="M358.8,451.4L359.8,415.7 360.8,437.8 361.8,417.2" stroke="#ff0000" stroke-width="1.2" fill="none" stroke-linejoin="bevel"/>
<path d="M358.8,444.3L359.8,425.2 360.8,447.8 361.8,419.8" stroke="#00ee00" stroke-width="1.2" fill="none" stroke-linejoin="bevel"/>
<path d="M361.8,417.2L362.8,444.6 363.8,419.2 364.8,441.5" stroke="#ff0000" stroke-width="1.2" fill="none" stroke-linejoin="bevel"/>
<path d="M361.8,417.1L362.8,446.6 363.8,421.9 364.8,445.1" stroke="#0000ff" stroke-width="1.2" fill="none" stroke-linejoin="bevel"/>
<path d="M361.8,419.8L362.8,458.6 363.8,421.6 364.8,441.4" stroke="#00ee00" stroke-width="1.2" fill="none" stroke-linejoin="bevel"/>
<path d="M364.8,441.4L365.8,423.2 366.8,438.5 367.8,411" stroke="#00ee00" stroke-width="1.2" fill="none" stroke-linejoin="bevel"/>
<path d="M364.8,445.1L365.8,410.2 366.8,446.1 367.8,409.5" stroke="#0000ff" stroke-width="1.2" fill="none" stroke-linejoin="bevel"/>
<path d="M364.8,441.5L365.8,419.6 366.8,437.7 367.8,415.7" stroke="#ff0000" stroke-width="1.2" fill="none" stroke-linejoin="bevel"/>
<path d="M366.8,446.1L367.8,409.5 368.8,444.8 369.8,415.1" stroke="#0000ff" stroke-width="1.2" fill="none" stroke-linejoin="bevel"/>
<path d="M366.8,437.7L367.8,415.7 368.8,436.2 369.8,415.8" stroke="#ff0000" stroke-width="1.2" fill="none" stroke-linejoin="bevel"/>
<path d="M366.8,438.5L367.8,411 368.8,442.1 369.8,422.9" stroke="#00ee00" stroke-width="1.2" fill="none" stroke-linejoin="bevel"/>
<path d="M369.8,415.8L370.8,453.8 371.8,408.8 372.8,436.1" stroke="#ff0000" stroke-width="1.2" fill="none" stroke-linejoin="bevel"/>
<path d="M369.8,415.1L370.8,444.9 371.8,419.2 372.8,441.4" stroke="#0000ff" stroke-width="1.2" fill="none" stroke-linejoin="bevel"/>
<path d="M369.8,422.9L370.8,440.1 371.8,401 372.8,444.3" stroke="#00ee00" stroke-width="1.2" fill="none" stroke-linejoin="bevel"/>
<path d="M371.8,408.8L372.8,436.1 373.8,414.1 374.8,452.7" stroke="#ff0000" stroke-width="1.2" fill="none" stroke-linejoin="bevel"/>
<path d="M371.8,419.2L372.8,441.4 373.8,412 374.8,434.5" stroke="#0000ff" stroke-width="1.2" fill="none" stroke-linejoin="bevel"/>
<path d="M371.8,401L372.8,444.3 373.8,404 374.8,444.2" stroke="#00ee00" stroke-width="1.2" fill="none" stroke-linejoin="bevel"/>
<path d="M374.8,434.5L375.8,415.5 376.8,437.6 377.8,416.9" stroke="#0000ff" stroke-width="1.2" fill="none" stroke-linejoin="bevel"/>
<path d="M374.8,452.7L375.8,405.9 376.8,448 377.8,402.1" stroke="#ff0000" stroke-width="1.2" fill="none" stroke-linejoin="bevel"/>
<path d="M374.8,444.2L375.8,416.9 376.8,446.1 377.8,423.6" stroke="#00ee00" stroke-width="1.2" fill="none" stroke-linejoin="bevel"/>
<path d="M377.8,416.9L378.8,434.1 379.8,416.5 380.8,434.7" stroke="#0000ff" stroke-width="1.2" fill="none" stroke-linejoin="bevel"/>
<path d="M377.8,402.1L378.8,427.5 379.8,404.4 380.8,429.5" stroke="#ff0000" stroke-width="1.2" fill="none" stroke-linejoin="bevel"/>
<path d="M377.8,423.6L378.8,438.7 379.8,420.2 380.8,441.2" stroke="#00ee00" stroke-width="1.2" fill="none" stroke-linejoin="bevel"/>
<path d="M379.8,416.5L380.8,434.7 381.8,412.2 382.8,435.9" stroke="#0000ff" stroke-width="1.2" fill="none" stroke-linejoin="bevel"/>
<path d="M379.8,404.4L380.8,429.5 381.8,414.9 382.8,434.1" stroke="#ff0000" stroke-width="1.2" fill="none" stroke-linejoin="bevel"/>
<path d="M379.8,420.2L380.8,441.2 381.8,419.5 382.8,442.1" stroke="#00ee00" stroke-width="1.2" fill="none" stroke-linejoin="bevel"/>
<path d="M382.8,434.1L383.8,411.4 384.8,437.9 385.8,415.5" stroke="#ff0000" stroke-width="1.2" fill="none" stroke-linejoin="bevel"/>
<path d="M382.8,435.9L383.8,411.8 384.8,434.5 385.8,413.8" stroke="#0000ff" stroke-width="1.2" fill="none" stroke-linejoin="bevel"/>
<path d="M382.8,442.1L383.8,396.8 384.8,438.2 385.8,406.4" stroke="#00ee00" stroke-width="1.2" fill="none" stroke-linejoin="bevel"/>
<path d="M384.8,438.2L385.8,406.4 386.8,434.4 387.8,416.4" stroke="#00ee00" stroke-width="1.2" fill="none" stroke-linejoin="bevel"/>
<path d="M384.8,434.5L385.8,413.8 386.8,437.6 387.8,411.5" stroke="#0000ff" stroke-width="1.2" fill="none" stroke-linejoin="bevel"/>
<path d="M384.8,437.9L385.8,415.5 386.8,438.3 387.8,422.5" stroke="#ff0000" stroke-width="1.2" fill="none" stroke-linejoin="bevel"/>
<path d="M387.8,411.5L388.8,452.7 389.8,410.6 390.8,435.1" stroke="#0000ff" stroke-width="1.2" fill="none" stroke-linejoin="bevel"/>
<path d="M387.8,422.5L388.8,445.5 389.8,414.4 390.8,437.6" stroke="#ff0000" stroke-width="1.2" fill="none" stroke-linejoin="bevel"/>
<path d="M387.8,416.4L388.8,448.5 389.8,415.5 390.8,438.7" stroke="#00ee00" stroke-width="1.2" fill="none" stroke-linejoin="bevel"/>
<path d="M390.8,437.6L391.8,418.2 392.8,442.5 393.8,417.2" stroke="#ff0000" stroke-width="1.2" fill="none" stroke-linejoin="bevel"/>
<path d="M390.8,435.1L391.8,400.1 392.8,441.5 393.8,414.4" stroke="#0000ff" stroke-width="1.2" fill="none" stroke-linejoin="bevel"/>
<path d="M390.8,438.7L391.8,415.3 392.8,437.2 393.8,420.1" stroke="#00ee00" stroke-width="1.2" fill="none" stroke-linejoin="bevel"/>
<path d="M392.8,441.5L393.8,414.4 394.8,435.4 395.8,406.9" stroke="#0000ff" stroke-width="1.2" fill="none" stroke-linejoin="bevel"/>
<path d="M392.8,437.2L393.8,420.1 394.8,443.9 395.8,417.4" stroke="#00ee00" stroke-width="1.2" fill="none" stroke-linejoin="bevel"/>
<path d="M392.8,442.5L393.8,417.2 394.8,437.6 395.8,411.5" stroke="#ff0000" stroke-width="1.2" fill="none" stroke-linejoin="bevel"/>
<path d="M31.5,521.4L31.9,520.4 32.3,519.8 32.7,519.6 33.1,519.8 33.5,520.4 33.9,521.4 34.3,522.7 34.7,524.3 35.1,526.3 35.5,528.4 35.9,530.7 36.3,533.1 36.7,535.5 37.1,537.9 37.5,540.2 37.9,542.3 38.3,544.3 38.7,545.9 39.1,547.2 39.5,548.2 39.9,548.8 40.3,549 40.7,548.8 41.1,548.2 41.5,547.2 41.9,545.9 42.3,544.2 42.7,542.3 43.1,540.2 43.5,537.9 43.9,535.5 44.3,533.1 44.7,530.7 45.1,528.4 45.5,526.2 45.9,524.3 46.3,522.7 46.7,521.4 47.1,520.4 47.5,519.8 47.9,519.6 48.3,519.8 48.7,520.4 49.1,521.4 49.5,522.7 49.9,524.4 50.3,526.3 50.7,528.4 51.1,530.7 51.5,533.1 51.9,535.6 52.3,538 52.7,540.2 53.1,542.4 53.5,544.3 53.9,545.9 54.3,547.3 54.7,548.2 55.1,548.8 55.5,549 55.9,548.8 56.3,548.2 56.7,547.2 57.1,545.9 57.5,544.2 57.9,542.3 58.3,540.2 58.7,537.9 59.1,535.5 59.5,533 59.9,530.6 60.3,528.3 60.7,526.2 61.1,524.3 61.5,522.7 61.9,521.3 62.3,520.4 62.7,519.8 63.1,519.6 63.5,519.8 63.9,520.4 64.3,521.4 64.7,522.7 65.1,524.4 65.5,526.3 65.9,528.5 66.3,530.8 66.7,533.2 67.1,535.6 67.5,538 67.9,540.3 68.3,542.4 68.7,544.3 69.1,545.9 69.5,547.3 69.9,548.2 70.3,548.8 70.7,549 71.1,548.8 71.5,548.2 71.9,547.2 72.3,545.8 72.7,544.2 73.1,542.3 73.5,540.1 73.9,537.8 74.3,535.4 74.7,533 75.1,530.6 75.5,528.3 75.9,526.2 76.3,524.3 76.7,522.6 77.1,521.3 77.5,520.4 77.9,519.8 78.3,519.6 78.7,519.8 79.1,520.4 79.5,521.4 79.9,522.8 80.3,524.4 80.7,526.3 81.1,528.5 81.5,530.8 81.9,533.2 82.3,535.6 82.7,538 83.1,540.3 83.5,542.4 83.9,544.3 84.3,546 84.7,547.3 85.1,548.2 85.5,548.8 85.9,549 86.3,548.8 86.7,548.2 87.1,547.2 87.5,545.8 87.9,544.2 88.3,542.2 88.7,540.1 89.1,537.8 89.5,535.4 89.9,533 90.3,530.6 90.7,528.3 91.1,526.2 91.5,524.2 91.9,522.6 92.3,521.3 92.7,520.4 93.1,519.8 93.5,519.6 93.9,519.8 94.3,520.4 94.7,521.4 95.1,522.8 95.5,524.4 95.9,526.4 96.3,528.5 96.7,530.8 97.1,533.2 97.5,535.7 97.9,538 98.3,540.3 98.7,542.5 99.1,544.4 99.5,546 99.9,547.3 100.3,548.3 100.7,548.8 101.1,549 101.5,548.8 101.9,548.2 102.3,547.2 102.7,545.8 103.1,544.1 103.5,542.2 103.9,540.1 104.3,537.8 104.7,535.4 105.1,532.9 105.5,530.5 105.9,528.2 106.3,526.1 106.7,524.2 107.1,522.6 107.5,521.3 107.9,520.3 108.3,519.8 108.7,519.6 109.1,519.8 109.5,520.5 109.9,521.5 110.3,522.8 110.7,524.5 111.1,526.4 111.5,528.6 111.9,530.9 112.3,533.3 112.7,535.7 113.1,538.1 113.5,540.4 113.9,542.5 114.3,544.4 114.7,546 115.1,547.3 115.5,548.3 115.9,548.8 116.3,549 116.7,548.8 117.1,548.1 117.5,547.1 117.9,545.8 118.3,544.1 118.7,542.2 119.1,540 119.5,537.7 119.9,535.3 120.3,532.9 120.7,530.5 121.1,528.2 121.5,526.1 121.9,524.2 122.3,522.6 122.7,521.3 123.1,520.3 123.5,519.8 123.9,519.6 124.3,519.8 124.7,520.5 125.1,521.5 125.5,522.8 125.9,524.5 126.3,526.4 126.7,528.6 127.1,530.9 127.5,533.3 127.9,535.7 128.3,538.1 128.7,540.4 129.1,542.5 129.5,544.4 129.9,546 130.3,547.3 130.7,548.3 131.1,548.8 131.5,549 131.9,548.8 132.3,548.1 132.7,547.1 133.1,545.8 133.5,544.1 133.9,542.2 134.3,540 134.7,537.7 135.1,535.3 135.5,532.9 135.9,530.5 136.3,528.2 136.7,526.1 137.1,524.2 137.5,522.6 137.9,521.3 138.3,520.3 138.7,519.8 139.1,519.6 139.5,519.8 139.9,520.5 140.3,521.5 140.7,522.8 141.1,524.5 141.5,526.5 141.9,528.6 142.3,530.9 142.7,533.3 143.1,535.8 143.5,538.1 143.9,540.4 144.3,542.5 144.7,544.4 145.1,546.1 145.5,547.3 145.9,548.3 146.3,548.8 146.7,549 147.1,548.8 147.5,548.1 147.9,547.1 148.3,545.7 148.7,544.1 149.1,542.1 149.5,540 149.9,537.7 150.3,535.3 150.7,532.8 151.1,530.4 151.5,528.2 151.9,526 152.3,524.2 152.7,522.5 153.1,521.2 153.5,520.3 153.9,519.8 154.3,519.6 154.7,519.8 155.1,520.5 155.5,521.5 155.9,522.9 156.3,524.5 156.7,526.5 157.1,528.6 157.5,531 157.9,533.4 158.3,535.8 158.7,538.2 159.1,540.5 159.5,542.6 159.9,544.5 160.3,546.1 160.7,547.4 161.1,548.3 161.5,548.8 161.9,549 162.3,548.7 162.7,548.1 163.1,547.1 163.5,545.7 163.9,544 164.3,542.1 164.7,539.9 165.1,537.6 165.5,535.2 165.9,532.8 166.3,530.4 166.7,528.1 167.1,526 167.5,524.1 167.9,522.5 168.3,521.2 168.7,520.3 169.1,519.8 169.5,519.6 169.9,519.9 170.3,520.5 170.7,521.5 171.1,522.9 171.5,524.6 171.9,526.5 172.3,528.7 172.7,531 173.1,533.4 173.5,535.8 173.9,538.2 174.3,540.5 174.7,542.6 175.1,544.5 175.5,546.1 175.9,547.4 176.3,548.3 176.7,548.8 177.1,549 177.5,548.7 177.9,548.1 178.3,547.1 178.7,545.7 179.1,544 179.5,542.1 179.9,539.9 180.3,537.6 180.7,535.2 181.1,532.8 181.5,530.4 181.9,528.1 182.3,526 182.7,524.1 183.1,522.5 183.5,521.2 183.9,520.3 184.3,519.7 184.7,519.6 185.1,519.9 185.5,520.5 185.9,521.5 186.3,522.9 186.7,524.6 187.1,526.5 187.5,528.7 187.9,531 188.3,533.4 188.7,535.9 189.1,538.2 189.5,540.5 189.9,542.6 190.3,544.5 190.7,546.1 191.1,547.4 191.5,548.3 191.9,548.9 192.3,549 192.7,548.7 193.1,548.1 193.5,547.1 193.9,545.7 194.3,544 194.7,542 195.1,539.9 195.5,537.6 195.9,535.2 196.3,532.7 196.7,530.3 197.1,528.1 197.5,526 197.9,524.1 198.3,522.5 198.7,521.2 199.1,520.3 199.5,519.7 199.9,519.6 200.3,519.9 200.7,520.5 201.1,521.6 201.5,522.9 201.9,524.6 202.3,526.6 202.7,528.7 203.1,531.1 203.5,533.5 203.9,535.9 204.3,538.3 204.7,540.6 205.1,542.7 205.5,544.5 205.9,546.1 206.3,547.4 206.7,548.3 207.1,548.9 207.5,549 207.9,548.7 208.3,548.1 208.7,547 209.1,545.7 209.5,544 209.9,542 210.3,539.8 210.7,537.5 211.1,535.1 211.5,532.7 211.9,530.3 212.3,528 212.7,525.9 213.1,524.1 213.5,522.5 213.9,506.3 214.3,504.3 214.7,503.2 215.1,502.9 215.5,503.5 215.9,504.9 216.3,507.1 216.7,510.1 217.1,513.7 217.5,517.9 217.9,522.5 218.3,527.4 218.7,532.6 219.1,537.8 219.5,542.9 219.9,547.7 220.3,552.2 220.7,556.2 221.1,559.6 221.5,562.3 221.9,564.3 222.3,565.4 222.7,565.7 223.1,565.1 223.5,563.7 223.9,561.5 224.3,558.5 224.7,554.9 225.1,550.7 225.5,546.1 225.9,541.1 226.3,536 226.7,530.8 227.1,525.7 227.5,520.8 227.9,516.4 228.3,512.4 228.7,509 229.1,506.3 229.5,504.3 229.9,503.2 230.3,502.9 230.7,503.5 231.1,504.9 231.5,507.1 231.9,510.1 232.3,513.7 232.7,517.9 233.1,522.6 233.5,527.5 233.9,532.7 234.3,537.8 234.7,542.9 235.1,547.8 235.5,552.3 235.9,556.3 236.3,559.7 236.7,562.4 237.1,564.3 237.5,565.4 237.9,565.7 238.3,565.1 238.7,563.7 239.1,561.4 239.5,558.5 239.9,554.8 240.3,550.6 240.7,546 241.1,541 241.5,535.9 241.9,530.7 242.3,525.6 242.7,520.8 243.1,516.3 243.5,512.3 243.9,508.9 244.3,506.2 244.7,504.3 245.1,503.2 245.5,502.9 245.9,503.5 246.3,504.9 246.7,507.2 247.1,510.2 247.5,513.8 247.9,518 248.3,522.6 248.7,527.6 249.1,532.7 249.5,537.9 249.9,543 250.3,547.9 250.7,552.3 251.1,556.3 251.5,559.7 251.9,562.4 252.3,564.3 252.7,565.4 253.1,565.7 253.5,565.1 253.9,563.6 254.3,561.4 254.7,558.4 255.1,554.8 255.5,550.6 255.9,545.9 256.3,541 256.7,535.8 257.1,530.6 257.5,525.6 257.9,520.7 258.3,516.2 258.7,512.3 259.1,508.9 259.5,506.2 259.9,504.3 260.3,503.2 260.7,502.9 261.1,503.5 261.5,505 261.9,507.2 262.3,510.2 262.7,513.8 263.1,518.1 263.5,522.7 263.9,527.7 264.3,532.8 264.7,538 265.1,543.1 265.5,547.9 265.9,552.4 266.3,556.4 266.7,559.7 267.1,562.4 267.5,564.3 267.9,565.4 268.3,565.7 268.7,565.1 269.1,563.6 269.5,561.4 269.9,558.4 270.3,554.7 270.7,550.5 271.1,545.9 271.5,540.9 271.9,535.8 272.3,530.6 272.7,525.5 273.1,520.7 273.5,516.2 273.9,512.2 274.3,508.8 274.7,506.2 275.1,504.2 275.5,503.2 275.9,502.9 276.3,503.5 276.7,505 277.1,507.3 277.5,510.3 277.9,513.9 278.3,518.1 278.7,522.8 279.1,527.7 279.5,532.9 279.9,538.1 280.3,543.1 280.7,548 281.1,552.4 281.5,556.4 281.9,559.8 282.3,562.5 282.7,564.4 283.1,565.4 283.5,565.7 283.9,565.1 284.3,563.6 284.7,561.3 285.1,558.3 285.5,554.7 285.9,550.5 286.3,545.8 286.7,540.8 287.1,535.7 287.5,530.5 287.9,525.4 288.3,520.6 288.7,516.1 289.1,512.2 289.5,508.8 289.9,506.1 290.3,504.2 290.7,503.2 291.1,502.9 291.5,503.6 291.9,505 292.3,507.3 292.7,510.3 293.1,514 293.5,518.2 293.9,522.8 294.3,527.8 294.7,532.9 295.1,538.1 295.5,543.2 295.9,548 296.3,552.5 296.7,556.5 297.1,559.8 297.5,562.5 297.9,564.4 298.3,565.5 298.7,565.7 299.1,565 299.5,563.6 299.9,561.3 300.3,558.3 300.7,554.6 301.1,550.4 301.5,545.7 301.9,540.8 302.3,535.6 302.7,530.4 303.1,525.4 303.5,520.5 303.9,516.1 304.3,512.1 304.7,508.7 305.1,506.1 305.5,504.2 305.9,503.1 306.3,502.9 306.7,503.6 307.1,505 307.5,507.3 307.9,510.3 308.3,514 308.7,518.2 309.1,522.9 309.5,527.9 309.9,533 310.3,538.2 310.7,543.3 311.1,548.1 311.5,552.6 311.9,556.5 312.3,559.9 312.7,562.5 313.1,564.4 313.5,565.5 313.9,565.7 314.3,565 314.7,563.5 315.1,561.3 315.5,558.2 315.9,554.6 316.3,550.3 316.7,545.7 317.1,540.7 317.5,535.5 317.9,530.4 318.3,525.3 318.7,520.5 319.1,516 319.5,512.1 319.9,508.7 320.3,506.1 320.7,504.2 321.1,503.1 321.5,502.9 321.9,503.6 322.3,505.1 322.7,507.4 323.1,510.4 323.5,514.1 323.9,518.3 324.3,523 324.7,527.9 325.1,533.1 325.5,538.3 325.9,543.3 326.3,548.2 326.7,552.6 327.1,556.6 327.5,559.9 327.9,562.6 328.3,564.4 328.7,565.5 329.1,565.7 329.5,565 329.9,563.5 330.3,561.2 330.7,558.2 331.1,554.5 331.5,550.3 331.9,545.6 332.3,540.6 332.7,535.5 333.1,530.3 333.5,525.2 333.9,520.4 334.3,515.9 334.7,512 335.1,508.7 335.5,506 335.9,504.2 336.3,503.1 336.7,502.9 337.1,503.6 337.5,505.1 337.9,507.4 338.3,510.4 338.7,514.1 339.1,518.4 339.5,523 339.9,528 340.3,533.2 340.7,538.3 341.1,543.4 341.5,548.2 341.9,552.7 342.3,556.6 342.7,560 343.1,562.6 343.5,564.4 343.9,565.5 344.3,565.7 344.7,565 345.1,563.5 345.5,561.2 345.9,558.1 346.3,554.4 346.7,550.2 347.1,545.5 347.5,540.6 347.9,535.4 348.3,530.2 348.7,525.1 349.1,520.3 349.5,515.9 349.9,512 350.3,508.6 350.7,506 351.1,504.1 351.5,503.1 351.9,502.9 352.3,503.6 352.7,505.1 353.1,507.4 353.5,510.5 353.9,514.2 354.3,518.4 354.7,523.1 355.1,528.1 355.5,533.2 355.9,538.4 356.3,543.5 356.7,548.3 357.1,552.7 357.5,556.7 357.9,560 358.3,562.6 358.7,564.5 359.1,565.5 359.5,565.7 359.9,565 360.3,563.5 360.7,561.1 361.1,558.1 361.5,554.4 361.9,550.1 362.3,545.5 362.7,540.5 363.1,535.3 363.5,530.1 363.9,525.1 364.3,520.3 364.7,515.8 365.1,511.9 365.5,508.6 365.9,506 366.3,504.1 366.7,503.1 367.1,502.9 367.5,503.6 367.9,505.2 368.3,507.5 368.7,510.5 369.1,514.2 369.5,518.5 369.9,523.2 370.3,528.2 370.7,533.3 371.1,538.5 371.5,543.6 371.9,548.4 372.3,552.8 372.7,556.7 373.1,560 373.5,562.6 373.9,564.5 374.3,565.5 374.7,565.7 375.1,565 375.5,563.4 375.9,561.1 376.3,558 376.7,554.3 377.1,550.1 377.5,545.4 377.9,540.4 378.3,535.3 378.7,530.1 379.1,525 379.5,520.2 379.9,515.8 380.3,511.8 380.7,508.5 381.1,505.9 381.5,504.1 381.9,503.1 382.3,502.9 382.7,503.6 383.1,505.2 383.5,507.5 383.9,510.6 384.3,514.3 384.7,518.5 385.1,523.2 385.5,528.2 385.9,533.4 386.3,538.6 386.7,543.6 387.1,548.4 387.5,552.9 387.9,556.8 388.3,560.1 388.7,562.7 389.1,564.5 389.5,565.5 389.9,565.7 390.3,564.9 390.7,563.4 391.1,561.1 391.5,558 391.9,554.3 392.3,550 392.7,545.3 393.1,540.3 393.5,535.2 393.9,530 394.3,524.9 394.7,520.1 395.1,515.7 395.5,511.8 395.9,508.5 396.3,521 396.7,520.2 397.1,519.7 397.5,519.6 397.9,520 398.3,520.7 398.7,521.8 399.1,523.2 399.5,525 399.9,527 400.3,529.2 400.7,531.5 401.1,533.9 401.5,536.3 401.9,538.7 402.3,540.9 402.7,543 403.1,544.8 403.5,546.4 403.9,547.6 404.3,548.4 404.7,548.9 405.1,549 405.5,548.6 405.9,547.9 406.3,546.8 406.7,545.4 407.1,543.6 407.5,541.6 407.9,539.4 408.3,537.1 408.7,534.7 409.1,532.3 409.5,529.9 409.9,527.6 410.3,525.6 410.7,523.7 411.1,522.2 411.5,521 411.9,520.1 412.3,519.7 412.7,519.6 413.1,520 413.5,520.7 413.9,521.8 414.3,523.2 414.7,525 415.1,527 415.5,529.2 415.9,531.5 416.3,533.9 416.7,536.4 417.1,538.7 417.5,541 417.9,543 418.3,544.9 418.7,546.4 419.1,547.6 419.5,548.5 419.9,548.9 420.3,549 420.7,548.6 421.1,547.9 421.5,546.8 421.9,545.3 422.3,543.6 422.7,541.6 423.1,539.4 423.5,537.1 423.9,534.6 424.3,532.2 424.7,529.9 425.1,527.6 425.5,525.5 425.9,523.7 426.3,522.2 426.7,521 427.1,520.1 427.5,519.7 427.9,519.6 428.3,520 428.7,520.7 429.1,521.8 429.5,523.3 429.9,525 430.3,527 430.7,529.2 431.1,531.6 431.5,534 431.9,536.4 432.3,538.8 432.7,541 433.1,543.1 433.5,544.9 433.9,546.4 434.3,547.6 434.7,548.5 435.1,548.9 435.5,549 435.9,548.6 436.3,547.9 436.7,546.8 437.1,545.3 437.5,543.6 437.9,541.6 438.3,539.4 438.7,537 439.1,534.6 439.5,532.2 439.9,529.8 440.3,527.6 440.7,525.5 441.1,523.7 441.5,522.2 441.9,521 442.3,520.1 442.7,519.7 443.1,519.6 443.5,520 443.9,520.7 444.3,521.8 444.7,523.3 445.1,525 445.5,527 445.9,529.2 446.3,531.6 446.7,534 447.1,536.4 447.5,538.8 447.9,541 448.3,543.1 448.7,544.9 449.1,546.4 449.5,547.6 449.9,548.5 450.3,548.9 450.7,549 451.1,548.6 451.5,547.9 451.9,546.8 452.3,545.3 452.7,543.5 453.1,541.5 453.5,539.3 453.9,537 454.3,534.6 454.7,532.2 455.1,529.8 455.5,527.5 455.9,525.5 456.3,523.7 456.7,522.1 457.1,520.9 457.5,520.1 457.9,519.7 458.3,519.6 458.7,520 459.1,520.7 459.5,521.8 459.9,523.3 460.3,525.1 460.7,527.1 461.1,529.3 461.5,531.6 461.9,534 462.3,536.5 462.7,538.8 463.1,541.1 463.5,543.1 463.9,544.9 464.3,546.5 464.7,547.7 465.1,548.5 465.5,548.9 465.9,549 466.3,548.6 466.7,547.9 467.1,546.7 467.5,545.3 467.9,543.5 468.3,541.5 468.7,539.3 469.1,537 469.5,534.5 469.9,532.1 470.3,529.8 470.7,527.5 471.1,525.5 471.5,523.6 471.9,522.1 472.3,520.9 472.7,520.1 473.1,519.7 473.5,519.6 473.9,520 474.3,520.7 474.7,521.9 475.1,523.3 475.5,525.1 475.9,527.1 476.3,529.3 476.7,531.7 477.1,534.1 477.5,536.5 477.9,538.9 478.3,541.1 478.7,543.2 479.1,545 479.5,546.5 479.9,547.7 480.3,548.5 480.7,548.9 481.1,549 481.5,548.6 481.9,547.8 482.3,546.7 482.7,545.3 483.1,543.5 483.5,541.5 483.9,539.3 484.3,536.9 484.7,534.5 485.1,532.1 485.5,529.7 485.9,527.5 486.3,525.4 486.7,523.6 487.1,522.1 487.5,520.9 487.9,520.1 488.3,519.7 488.7,519.6 489.1,520 489.5,520.8 489.9,521.9 490.3,523.4 490.7,525.1 491.1,527.1 491.5,529.3 491.9,531.7 492.3,534.1 492.7,536.5 493.1,538.9 493.5,541.1 493.9,543.2 494.3,545 494.7,546.5 495.1,547.7 495.5,548.5 495.9,548.9 496.3,549 496.7,548.6 497.1,547.8 497.5,546.7 497.9,545.2 498.3,543.5 498.7,541.5 499.1,539.2 499.5,536.9 499.9,534.5 500.3,532.1 500.7,529.7 501.1,527.5 501.5,525.4 501.9,523.6 502.3,522.1 502.7,520.9 503.1,520.1 503.5,519.7 503.9,519.6 504.3,520 504.7,520.8 505.1,521.9 505.5,523.4 505.9,525.1 506.3,527.2 506.7,529.4 507.1,531.7 507.5,534.1 507.9,536.6 508.3,538.9 508.7,541.2 509.1,543.2 509.5,545 509.9,546.5 510.3,547.7 510.7,548.5 511.1,548.9 511.5,549 511.9,548.6 512.3,547.8 512.7,546.7 513.1,545.2 513.5,543.4 513.9,541.4 514.3,539.2 514.7,536.9 515.1,534.4 515.5,532 515.9,529.7 516.3,527.4 516.7,525.4 517.1,523.6 517.5,522.1 517.9,520.9 518.3,520.1 518.7,519.7 519.1,519.6 519.5,520 519.9,520.8 520.3,521.9 520.7,523.4 521.1,525.2 521.5,527.2 521.9,529.4 522.3,531.8 522.7,534.2 523.1,536.6 523.5,539 523.9,541.2 524.3,543.2 524.7,545 525.1,546.5 525.5,547.7 525.9,548.5 526.3,548.9 526.7,549 527.1,548.6 527.5,547.8 527.9,546.7 528.3,545.2 528.7,543.4 529.1,541.4 529.5,539.2 529.9,536.8 530.3,534.4 530.7,532 531.1,529.6 531.5,527.4 531.9,525.4 532.3,523.6 532.7,522.1 533.1,520.9 533.5,520.1 533.9,519.7 534.3,519.6 534.7,520 535.1,520.8 535.5,521.9 535.9,523.4 536.3,525.2 536.7,527.2 537.1,529.4 537.5,531.8 537.9,534.2 538.3,536.6 538.7,539 539.1,541.2 539.5,543.3 539.9,545.1 540.3,546.6 540.7,547.7 541.1,548.5 541.5,548.9 541.9,549 542.3,548.6 542.7,547.8 543.1,546.7 543.5,545.2 543.9,543.4 544.3,541.4 544.7,539.1 545.1,536.8 545.5,534.4 545.9,532 546.3,529.6 546.7,527.4 547.1,525.3 547.5,523.5 547.9,522 548.3,520.9 548.7,520.1 549.1,519.7 549.5,519.6 549.9,520 550.3,520.8 550.7,522 551.1,523.4 551.5,525.2 551.9,527.2 552.3,529.5 552.7,531.8 553.1,534.2 553.5,536.7 553.9,539 554.3,541.2 554.7,543.3 555.1,545.1 555.5,546.6 555.9,547.7 556.3,548.5 556.7,548.9 557.1,549 557.5,548.6 557.9,547.8 558.3,546.6 558.7,545.1 559.1,543.4 559.5,541.3 559.9,539.1 560.3,536.8 560.7,534.3 561.1,531.9 561.5,529.6 561.9,527.3 562.3,525.3 562.7,523.5 563.1,522 563.5,520.9 563.9,520.1 564.3,519.7 564.7,519.6 565.1,520 565.5,520.8 565.9,522 566.3,523.5 566.7,525.2 567.1,527.3 567.5,529.5 567.9,531.9 568.3,534.3 568.7,536.7 569.1,539.1 569.5,541.3 569.9,543.3 570.3,545.1 570.7,546.6 571.1,547.8 571.5,548.5 571.9,548.9 572.3,549 572.7,548.6 573.1,547.8 573.5,546.6 573.9,545.1 574.3,543.3 574.7,541.3 575.1,539.1 575.5,536.7 575.9,534.3 576.3,531.9 576.7,529.5 577.1,527.3 577.5,525.3 577.9,523.5 578.3,522" stroke="#ff0000" stroke-width="1.6" fill="none"/>
<path d="M31.5,546.8L31.9,545.4 32.3,543.6 32.7,541.6 33.1,539.5 33.5,537.1 33.9,534.7 34.3,532.3 34.7,529.9 35.1,527.7 35.5,525.6 35.9,523.8 36.3,522.2 36.7,521 37.1,520.2 37.5,519.7 37.9,519.6 38.3,520 38.7,520.7 39.1,521.8 39.5,523.2 39.9,525 40.3,527 40.7,529.2 41.1,531.5 41.5,533.9 41.9,536.3 42.3,538.7 42.7,541 43.1,543 43.5,544.9 43.9,546.4 44.3,547.6 44.7,548.5 45.1,548.9 45.5,549 45.9,548.6 46.3,547.9 46.7,546.8 47.1,545.4 47.5,543.6 47.9,541.6 48.3,539.4 48.7,537.1 49.1,534.7 49.5,532.2 49.9,529.9 50.3,527.6 50.7,525.6 51.1,523.7 51.5,522.2 51.9,521 52.3,520.1 52.7,519.7 53.1,519.6 53.5,520 53.9,520.7 54.3,521.8 54.7,523.2 55.1,525 55.5,527 55.9,529.2 56.3,531.5 56.7,533.9 57.1,536.4 57.5,538.7 57.9,541 58.3,543.1 58.7,544.9 59.1,546.4 59.5,547.6 59.9,548.5 60.3,548.9 60.7,549 61.1,548.6 61.5,547.9 61.9,546.8 62.3,545.3 62.7,543.6 63.1,541.6 63.5,539.4 63.9,537.1 64.3,534.6 64.7,532.2 65.1,529.8 65.5,527.6 65.9,525.5 66.3,523.7 66.7,522.2 67.1,521 67.5,520.1 67.9,519.7 68.3,519.6 68.7,520 69.1,520.7 69.5,521.8 69.9,523.3 70.3,525 70.7,527 71.1,529.2 71.5,531.6 71.9,534 72.3,536.4 72.7,538.8 73.1,541 73.5,543.1 73.9,544.9 74.3,546.4 74.7,547.6 75.1,548.5 75.5,548.9 75.9,549 76.3,548.6 76.7,547.9 77.1,546.8 77.5,545.3 77.9,543.6 78.3,541.6 78.7,539.4 79.1,537 79.5,534.6 79.9,532.2 80.3,529.8 80.7,527.6 81.1,525.5 81.5,523.7 81.9,522.2 82.3,521 82.7,520.1 83.1,519.7 83.5,519.6 83.9,520 84.3,520.7 84.7,521.8 85.1,523.3 85.5,525 85.9,527.1 86.3,529.3 86.7,531.6 87.1,534 87.5,536.4 87.9,538.8 88.3,541 88.7,543.1 89.1,544.9 89.5,546.5 89.9,547.6 90.3,548.5 90.7,548.9 91.1,549 91.5,548.6 91.9,547.9 92.3,546.8 92.7,545.3 93.1,543.5 93.5,541.5 93.9,539.3 94.3,537 94.7,534.6 95.1,532.1 95.5,529.8 95.9,527.5 96.3,525.5 96.7,523.7 97.1,522.1 97.5,520.9 97.9,520.1 98.3,519.7 98.7,519.6 99.1,520 99.5,520.7 99.9,521.9 100.3,523.3 100.7,525.1 101.1,527.1 101.5,529.3 101.9,531.6 102.3,534 102.7,536.5 103.1,538.8 103.5,541.1 103.9,543.1 104.3,544.9 104.7,546.5 105.1,547.7 105.5,548.5 105.9,548.9 106.3,549 106.7,548.6 107.1,547.9 107.5,546.7 107.9,545.3 108.3,543.5 108.7,541.5 109.1,539.3 109.5,537 109.9,534.5 110.3,532.1 110.7,529.7 111.1,527.5 111.5,525.5 111.9,523.6 112.3,522.1 112.7,520.9 113.1,520.1 113.5,519.7 113.9,519.6 114.3,520 114.7,520.8 115.1,521.9 115.5,523.3 115.9,525.1 116.3,527.1 116.7,529.3 117.1,531.7 117.5,534.1 117.9,536.5 118.3,538.9 118.7,541.1 119.1,543.2 119.5,545 119.9,546.5 120.3,547.7 120.7,548.5 121.1,548.9 121.5,549 121.9,548.6 122.3,547.8 122.7,546.7 123.1,545.3 123.5,543.5 123.9,541.5 124.3,539.3 124.7,536.9 125.1,534.5 125.5,532.1 125.9,529.7 126.3,527.5 126.7,525.4 127.1,523.6 127.5,522.1 127.9,520.9 128.3,520.1 128.7,519.7 129.1,519.6 129.5,520 129.9,520.8 130.3,521.9 130.7,523.4 131.1,525.1 131.5,527.1 131.9,529.4 132.3,531.7 132.7,534.1 133.1,536.5 133.5,538.9 133.9,541.1 134.3,543.2 134.7,545 135.1,546.5 135.5,547.7 135.9,548.5 136.3,548.9 136.7,549 137.1,548.6 137.5,547.8 137.9,546.7 138.3,545.2 138.7,543.5 139.1,541.4 139.5,539.2 139.9,536.9 140.3,534.5 140.7,532 141.1,529.7 141.5,527.4 141.9,525.4 142.3,523.6 142.7,522.1 143.1,520.9 143.5,520.1 143.9,519.7 144.3,519.6 144.7,520 145.1,520.8 145.5,521.9 145.9,523.4 146.3,525.2 146.7,527.2 147.1,529.4 147.5,531.7 147.9,534.2 148.3,536.6 148.7,538.9 149.1,541.2 149.5,543.2 149.9,545 150.3,546.5 150.7,547.7 151.1,548.5 151.5,548.9 151.9,549 152.3,548.6 152.7,547.8 153.1,546.7 153.5,545.2 153.9,543.4 154.3,541.4 154.7,539.2 155.1,536.9 155.5,534.4 155.9,532 156.3,529.7 156.7,527.4 157.1,525.4 157.5,523.6 157.9,522.1 158.3,520.9 158.7,520.1 159.1,519.7 159.5,519.6 159.9,520 160.3,520.8 160.7,521.9 161.1,523.4 161.5,525.2 161.9,527.2 162.3,529.4 162.7,531.8 163.1,534.2 163.5,536.6 163.9,539 164.3,541.2 164.7,543.2 165.1,545 165.5,546.5 165.9,547.7 166.3,548.5 166.7,548.9 167.1,549 167.5,548.6 167.9,547.8 168.3,546.7 168.7,545.2 169.1,543.4 169.5,541.4 169.9,539.2 170.3,536.8 170.7,534.4 171.1,532 171.5,529.6 171.9,527.4 172.3,525.3 172.7,523.5 173.1,522 173.5,520.9 173.9,520.1 174.3,519.7 174.7,519.6 175.1,520 175.5,520.8 175.9,521.9 176.3,523.4 176.7,525.2 177.1,527.2 177.5,529.4 177.9,531.8 178.3,534.2 178.7,536.6 179.1,539 179.5,541.2 179.9,543.3 180.3,545.1 180.7,546.6 181.1,547.7 181.5,548.5 181.9,548.9 182.3,549 182.7,548.6 183.1,547.8 183.5,546.6 183.9,545.2 184.3,543.4 184.7,541.4 185.1,539.1 185.5,536.8 185.9,534.4 186.3,531.9 186.7,529.6 187.1,527.4 187.5,525.3 187.9,523.5 188.3,522 188.7,520.9 189.1,520.1 189.5,519.7 189.9,519.6 190.3,520 190.7,520.8 191.1,522 191.5,523.4 191.9,525.2 192.3,527.3 192.7,529.5 193.1,531.8 193.5,534.3 193.9,536.7 194.3,539 194.7,541.3 195.1,543.3 195.5,545.1 195.9,546.6 196.3,547.7 196.7,548.5 197.1,548.9 197.5,549 197.9,548.6 198.3,547.8 198.7,546.6 199.1,545.1 199.5,543.4 199.9,541.3 200.3,539.1 200.7,536.8 201.1,534.3 201.5,531.9 201.9,529.6 202.3,527.3 202.7,525.3 203.1,523.5 203.5,522 203.9,520.8 204.3,520.1 204.7,519.7 205.1,519.6 205.5,520 205.9,520.8 206.3,522 206.7,523.5 207.1,525.3 207.5,527.3 207.9,529.5 208.3,531.9 208.7,534.3 209.1,536.7 209.5,539.1 209.9,541.3 210.3,543.3 210.7,545.1 211.1,546.6 211.5,547.8 211.9,548.5 212.3,548.9 212.7,549 213.1,548.6 213.5,547.8 213.9,560.6 214.3,557.4 214.7,553.6 215.1,549.2 215.5,544.5 215.9,539.5 216.3,534.3 216.7,529.1 217.1,524.1 217.5,519.3 217.9,515 218.3,511.2 218.7,508 219.1,505.5 219.5,503.9 219.9,503 220.3,503 220.7,503.9 221.1,505.6 221.5,508 221.9,511.2 222.3,515 222.7,519.4 223.1,524.1 223.5,529.2 223.9,534.3 224.3,539.5 224.7,544.5 225.1,549.3 225.5,553.6 225.9,557.4 226.3,560.6 226.7,563.1 227.1,564.8 227.5,565.6 227.9,565.6 228.3,564.7 228.7,563 229.1,560.6 229.5,557.4 229.9,553.5 230.3,549.2 230.7,544.4 231.1,539.4 231.5,534.2 231.9,529.1 232.3,524 232.7,519.3 233.1,514.9 233.5,511.1 233.9,508 234.3,505.5 234.7,503.8 235.1,503 235.5,503 235.9,503.9 236.3,505.6 236.7,508.1 237.1,511.3 237.5,515.1 237.9,519.5 238.3,524.2 238.7,529.2 239.1,534.4 239.5,539.6 239.9,544.6 240.3,549.4 240.7,553.7 241.1,557.5 241.5,560.7 241.9,563.1 242.3,564.8 242.7,565.6 243.1,565.6 243.5,564.7 243.9,563 244.3,560.5 244.7,557.3 245.1,553.5 245.5,549.1 245.9,544.4 246.3,539.3 246.7,534.1 247.1,529 247.5,524 247.9,519.2 248.3,514.9 248.7,511.1 249.1,507.9 249.5,505.5 249.9,503.8 250.3,503 250.7,503 251.1,503.9 251.5,505.6 251.9,508.1 252.3,511.3 252.7,515.2 253.1,519.5 253.5,524.3 253.9,529.3 254.3,534.5 254.7,539.7 255.1,544.7 255.5,549.4 255.9,553.7 256.3,557.5 256.7,560.7 257.1,563.1 257.5,564.8 257.9,565.6 258.3,565.6 258.7,564.7 259.1,563 259.5,560.5 259.9,557.3 260.3,553.4 260.7,549.1 261.1,544.3 261.5,539.3 261.9,534.1 262.3,528.9 262.7,523.9 263.1,519.2 263.5,514.8 263.9,511 264.3,507.9 264.7,505.5 265.1,503.8 265.5,503 265.9,503 266.3,503.9 266.7,505.6 267.1,508.1 267.5,511.4 267.9,515.2 268.3,519.6 268.7,524.3 269.1,529.4 269.5,534.6 269.9,539.7 270.3,544.7 270.7,549.5 271.1,553.8 271.5,557.6 271.9,560.7 272.3,563.2 272.7,564.8 273.1,565.6 273.5,565.6 273.9,564.7 274.3,562.9 274.7,560.4 275.1,557.2 275.5,553.4 275.9,549 276.3,544.2 276.7,539.2 277.1,534 277.5,528.8 277.9,523.8 278.3,519.1 278.7,514.8 279.1,511 279.5,507.8 279.9,505.4 280.3,503.8 280.7,503 281.1,503 281.5,503.9 281.9,505.7 282.3,508.2 282.7,511.4 283.1,515.3 283.5,519.6 283.9,524.4 284.3,529.5 284.7,534.6 285.1,539.8 285.5,544.8 285.9,549.5 286.3,553.9 286.7,557.6 287.1,560.8 287.5,563.2 287.9,564.8 288.3,565.6 288.7,565.6 289.1,564.7 289.5,562.9 289.9,560.4 290.3,557.2 290.7,553.3 291.1,548.9 291.5,544.2 291.9,539.1 292.3,533.9 292.7,528.8 293.1,523.8 293.5,519 293.9,514.7 294.3,510.9 294.7,507.8 295.1,505.4 295.5,503.8 295.9,503 296.3,503 296.7,504 297.1,505.7 297.5,508.2 297.9,511.5 298.3,515.3 298.7,519.7 299.1,524.5 299.5,529.5 299.9,534.7 300.3,539.9 300.7,544.9 301.1,549.6 301.5,553.9 301.9,557.7 302.3,560.8 302.7,563.2 303.1,564.8 303.5,565.6 303.9,565.6 304.3,564.6 304.7,562.9 305.1,560.4 305.5,557.1 305.9,553.2 306.3,548.9 306.7,544.1 307.1,539 307.5,533.9 307.9,528.7 308.3,523.7 308.7,519 309.1,514.7 309.5,510.9 309.9,507.8 310.3,505.4 310.7,503.8 311.1,503 311.5,503 311.9,504 312.3,505.7 312.7,508.3 313.1,511.5 313.5,515.4 313.9,519.8 314.3,524.6 314.7,529.6 315.1,534.8 315.5,539.9 315.9,544.9 316.3,549.7 316.7,554 317.1,557.7 317.5,560.8 317.9,563.2 318.3,564.9 318.7,565.6 319.1,565.5 319.5,564.6 319.9,562.9 320.3,560.3 320.7,557.1 321.1,553.2 321.5,548.8 321.9,544 322.3,539 322.7,533.8 323.1,528.6 323.5,523.6 323.9,518.9 324.3,514.6 324.7,510.8 325.1,507.7 325.5,505.3 325.9,503.7 326.3,503 326.7,503.1 327.1,504 327.5,505.8 327.9,508.3 328.3,511.6 328.7,515.4 329.1,519.8 329.5,524.6 329.9,529.7 330.3,534.8 330.7,540 331.1,545 331.5,549.7 331.9,554 332.3,557.8 332.7,560.9 333.1,563.3 333.5,564.9 333.9,565.6 334.3,565.5 334.7,564.6 335.1,562.8 335.5,560.3 335.9,557 336.3,553.1 336.7,548.7 337.1,543.9 337.5,538.9 337.9,533.7 338.3,528.6 338.7,523.6 339.1,518.8 339.5,514.6 339.9,510.8 340.3,507.7 340.7,505.3 341.1,503.7 341.5,503 341.9,503.1 342.3,504 342.7,505.8 343.1,508.4 343.5,511.6 343.9,515.5 344.3,519.9 344.7,524.7 345.1,529.7 345.5,534.9 345.9,540.1 346.3,545.1 346.7,549.8 347.1,554.1 347.5,557.8 347.9,560.9 348.3,563.3 348.7,564.9 349.1,565.6 349.5,565.5 349.9,564.6 350.3,562.8 350.7,560.2 351.1,557 351.5,553.1 351.9,548.7 352.3,543.9 352.7,538.8 353.1,533.6 353.5,528.5 353.9,523.5 354.3,518.8 354.7,514.5 355.1,510.8 355.5,507.7 355.9,505.3 356.3,503.7 356.7,503 357.1,503.1 357.5,504 357.9,505.8 358.3,508.4 358.7,511.7 359.1,515.6 359.5,520 359.9,524.8 360.3,529.8 360.7,535 361.1,540.2 361.5,545.2 361.9,549.9 362.3,554.1 362.7,557.9 363.1,561 363.5,563.3 363.9,564.9 364.3,565.6 364.7,565.5 365.1,564.6 365.5,562.8 365.9,560.2 366.3,556.9 366.7,553 367.1,548.6 367.5,543.8 367.9,538.8 368.3,533.6 368.7,528.4 369.1,523.4 369.5,518.7 369.9,514.4 370.3,510.7 370.7,507.6 371.1,505.3 371.5,503.7 371.9,503 372.3,503.1 372.7,504.1 373.1,505.9 373.5,508.4 373.9,511.7 374.3,515.6 374.7,520 375.1,524.8 375.5,529.9 375.9,535.1 376.3,540.2 376.7,545.2 377.1,549.9 377.5,554.2 377.9,557.9 378.3,561 378.7,563.4 379.1,564.9 379.5,565.6 379.9,565.5 380.3,564.5 380.7,562.7 381.1,560.1 381.5,556.9 381.9,553 382.3,548.5 382.7,543.7 383.1,538.7 383.5,533.5 383.9,528.3 384.3,523.3 384.7,518.7 385.1,514.4 385.5,510.7 385.9,507.6 386.3,505.2 386.7,503.7 387.1,503 387.5,503.1 387.9,504.1 388.3,505.9 388.7,508.5 389.1,511.8 389.5,515.7 389.9,520.1 390.3,524.9 390.7,530 391.1,535.1 391.5,540.3 391.9,545.3 392.3,550 392.7,554.2 393.1,558 393.5,561 393.9,563.4 394.3,564.9 394.7,565.7 395.1,565.5 395.5,564.5 395.9,562.7 396.3,546.4 396.7,544.8 397.1,543 397.5,540.9 397.9,538.7 398.3,536.3 398.7,533.9 399.1,531.5 399.5,529.1 399.9,526.9 400.3,524.9 400.7,523.2 401.1,521.8 401.5,520.7 401.9,520 402.3,519.6 402.7,519.7 403.1,520.2 403.5,521 403.9,522.2 404.3,523.8 404.7,525.6 405.1,527.7 405.5,529.9 405.9,532.3 406.3,534.7 406.7,537.1 407.1,539.5 407.5,541.7 407.9,543.7 408.3,545.4 408.7,546.8 409.1,547.9 409.5,548.7 409.9,549 410.3,548.9 410.7,548.4 411.1,547.6 411.5,546.4 411.9,544.8 412.3,543 412.7,540.9 413.1,538.7 413.5,536.3 413.9,533.9 414.3,531.4 414.7,529.1 415.1,526.9 415.5,524.9 415.9,523.2 416.3,521.8 416.7,520.7 417.1,519.9 417.5,519.6 417.9,519.7 418.3,520.2 418.7,521 419.1,522.2 419.5,523.8 419.9,525.6 420.3,527.7 420.7,530 421.1,532.3 421.5,534.8 421.9,537.2 422.3,539.5 422.7,541.7 423.1,543.7 423.5,545.4 423.9,546.9 424.3,547.9 424.7,548.7 425.1,549 425.5,548.9 425.9,548.4 426.3,547.6 426.7,546.3 427.1,544.8 427.5,543 427.9,540.9 428.3,538.6 428.7,536.3 429.1,533.8 429.5,531.4 429.9,529.1 430.3,526.9 430.7,524.9 431.1,523.2 431.5,521.7 431.9,520.7 432.3,519.9 432.7,519.6 433.1,519.7 433.5,520.2 433.9,521 434.3,522.3 434.7,523.8 435.1,525.7 435.5,527.7 435.9,530 436.3,532.4 436.7,534.8 437.1,537.2 437.5,539.5 437.9,541.7 438.3,543.7 438.7,545.4 439.1,546.9 439.5,548 439.9,548.7 440.3,549 440.7,548.9 441.1,548.4 441.5,547.6 441.9,546.3 442.3,544.8 442.7,542.9 443.1,540.8 443.5,538.6 443.9,536.2 444.3,533.8 444.7,531.4 445.1,529 445.5,526.9 445.9,524.9 446.3,523.1 446.7,521.7 447.1,520.6 447.5,519.9 447.9,519.6 448.3,519.7 448.7,520.2 449.1,521.1 449.5,522.3 449.9,523.8 450.3,525.7 450.7,527.8 451.1,530 451.5,532.4 451.9,534.8 452.3,537.2 452.7,539.6 453.1,541.8 453.5,543.7 453.9,545.5 454.3,546.9 454.7,548 455.1,548.7 455.5,549 455.9,548.9 456.3,548.4 456.7,547.5 457.1,546.3 457.5,544.7 457.9,542.9 458.3,540.8 458.7,538.6 459.1,536.2 459.5,533.8 459.9,531.3 460.3,529 460.7,526.8 461.1,524.8 461.5,523.1 461.9,521.7 462.3,520.6 462.7,519.9 463.1,519.6 463.5,519.7 463.9,520.2 464.3,521.1 464.7,522.3 465.1,523.9 465.5,525.7 465.9,527.8 466.3,530.1 466.7,532.4 467.1,534.9 467.5,537.3 467.9,539.6 468.3,541.8 468.7,543.8 469.1,545.5 469.5,546.9 469.9,548 470.3,548.7 470.7,549 471.1,548.9 471.5,548.4 471.9,547.5 472.3,546.3 472.7,544.7 473.1,542.9 473.5,540.8 473.9,538.5 474.3,536.1 474.7,533.7 475.1,531.3 475.5,529 475.9,526.8 476.3,524.8 476.7,523.1 477.1,521.7 477.5,520.6 477.9,519.9 478.3,519.6 478.7,519.7 479.1,520.2 479.5,521.1 479.9,522.3 480.3,523.9 480.7,525.7 481.1,527.8 481.5,530.1 481.9,532.5 482.3,534.9 482.7,537.3 483.1,539.6 483.5,541.8 483.9,543.8 484.3,545.5 484.7,546.9 485.1,548 485.5,548.7 485.9,549 486.3,548.9 486.7,548.4 487.1,547.5 487.5,546.3 487.9,544.7 488.3,542.8 488.7,540.8 489.1,538.5 489.5,536.1 489.9,533.7 490.3,531.3 490.7,529 491.1,526.8 491.5,524.8 491.9,523.1 492.3,521.7 492.7,520.6 493.1,519.9 493.5,519.6 493.9,519.7 494.3,520.2 494.7,521.1 495.1,522.3 495.5,523.9 495.9,525.8 496.3,527.9 496.7,530.1 497.1,532.5 497.5,534.9 497.9,537.3 498.3,539.7 498.7,541.8 499.1,543.8 499.5,545.5 499.9,546.9 500.3,548 500.7,548.7 501.1,549 501.5,548.9 501.9,548.4 502.3,547.5 502.7,546.2 503.1,544.7 503.5,542.8 503.9,540.7 504.3,538.5 504.7,536.1 505.1,533.7 505.5,531.2 505.9,528.9 506.3,526.7 506.7,524.8 507.1,523.1 507.5,521.7 507.9,520.6 508.3,519.9 508.7,519.6 509.1,519.7 509.5,520.2 509.9,521.1 510.3,522.4 510.7,523.9 511.1,525.8 511.5,527.9 511.9,530.2 512.3,532.5 512.7,535 513.1,537.4 513.5,539.7 513.9,541.9 514.3,543.8 514.7,545.6 515.1,547 515.5,548 515.9,548.7 516.3,549 516.7,548.9 517.1,548.4 517.5,547.5 517.9,546.2 518.3,544.6 518.7,542.8 519.1,540.7 519.5,538.4 519.9,536 520.3,533.6 520.7,531.2 521.1,528.9 521.5,526.7 521.9,524.7 522.3,523 522.7,521.6 523.1,520.6 523.5,519.9 523.9,519.6 524.3,519.7 524.7,520.2 525.1,521.1 525.5,522.4 525.9,524 526.3,525.8 526.7,527.9 527.1,530.2 527.5,532.6 527.9,535 528.3,537.4 528.7,539.7 529.1,541.9 529.5,543.9 529.9,545.6 530.3,547 530.7,548 531.1,548.7 531.5,549 531.9,548.9 532.3,548.4 532.7,547.5 533.1,546.2 533.5,544.6 533.9,542.8 534.3,540.7 534.7,538.4 535.1,536 535.5,533.6 535.9,531.2 536.3,528.9 536.7,526.7 537.1,524.7 537.5,523 537.9,521.6 538.3,520.6 538.7,519.9 539.1,519.6 539.5,519.7 539.9,520.2 540.3,521.1 540.7,522.4 541.1,524 541.5,525.9 541.9,528 542.3,530.2 542.7,532.6 543.1,535 543.5,537.4 543.9,539.8 544.3,541.9 544.7,543.9 545.1,545.6 545.5,547 545.9,548 546.3,548.7 546.7,549 547.1,548.9 547.5,548.4 547.9,547.4 548.3,546.2 548.7,544.6 549.1,542.7 549.5,540.6 549.9,538.4 550.3,536 550.7,533.6 551.1,531.1 551.5,528.8 551.9,526.7 552.3,524.7 552.7,523 553.1,521.6 553.5,520.6 553.9,519.9 554.3,519.6 554.7,519.7 555.1,520.3 555.5,521.2 555.9,522.4 556.3,524 556.7,525.9 557.1,528 557.5,530.3 557.9,532.6 558.3,535.1 558.7,537.5 559.1,539.8 559.5,542 559.9,543.9 560.3,545.6 560.7,547 561.1,548.1 561.5,548.7 561.9,549 562.3,548.9 562.7,548.3 563.1,547.4 563.5,546.2 563.9,544.6 564.3,542.7 564.7,540.6 565.1,538.3 565.5,535.9 565.9,533.5 566.3,531.1 566.7,528.8 567.1,526.6 567.5,524.7 567.9,523 568.3,521.6 568.7,520.5 569.1,519.9 569.5,519.6 569.9,519.7 570.3,520.3 570.7,521.2 571.1,522.4 571.5,524 571.9,525.9 572.3,528 572.7,530.3 573.1,532.7 573.5,535.1 573.9,537.5 574.3,539.8 574.7,542 575.1,543.9 575.5,545.6 575.9,547 576.3,548.1 576.7,548.7 577.1,549 577.5,548.9 577.9,548.3 578.3,547.4" stroke="#0000ff" stroke-width="1.6" fill="none"/>
<path d="M31.5,534.7L31.9,537.1 32.3,539.5 32.7,541.6 33.1,543.6 33.5,545.4 33.9,546.8 34.3,547.9 34.7,548.6 35.1,549 35.5,548.9 35.9,548.4 36.3,547.6 36.7,546.4 37.1,544.8 37.5,543 37.9,540.9 38.3,538.7 38.7,536.3 39.1,533.9 39.5,531.5 39.9,529.1 40.3,526.9 40.7,524.9 41.1,523.2 41.5,521.8 41.9,520.7 42.3,520 42.7,519.6 43.1,519.7 43.5,520.2 43.9,521 44.3,522.2 44.7,523.8 45.1,525.6 45.5,527.7 45.9,529.9 46.3,532.3 46.7,534.7 47.1,537.1 47.5,539.5 47.9,541.7 48.3,543.7 48.7,545.4 49.1,546.8 49.5,547.9 49.9,548.7 50.3,549 50.7,548.9 51.1,548.4 51.5,547.6 51.9,546.4 52.3,544.8 52.7,543 53.1,540.9 53.5,538.6 53.9,536.3 54.3,533.8 54.7,531.4 55.1,529.1 55.5,526.9 55.9,524.9 56.3,523.2 56.7,521.7 57.1,520.7 57.5,519.9 57.9,519.6 58.3,519.7 58.7,520.2 59.1,521 59.5,522.3 59.9,523.8 60.3,525.6 60.7,527.7 61.1,530 61.5,532.3 61.9,534.8 62.3,537.2 62.7,539.5 63.1,541.7 63.5,543.7 63.9,545.4 64.3,546.9 64.7,547.9 65.1,548.7 65.5,549 65.9,548.9 66.3,548.4 66.7,547.6 67.1,546.3 67.5,544.8 67.9,542.9 68.3,540.9 68.7,538.6 69.1,536.2 69.5,533.8 69.9,531.4 70.3,529.1 70.7,526.9 71.1,524.9 71.5,523.2 71.9,521.7 72.3,520.6 72.7,519.9 73.1,519.6 73.5,519.7 73.9,520.2 74.3,521 74.7,522.3 75.1,523.8 75.5,525.7 75.9,527.7 76.3,530 76.7,532.4 77.1,534.8 77.5,537.2 77.9,539.5 78.3,541.7 78.7,543.7 79.1,545.5 79.5,546.9 79.9,548 80.3,548.7 80.7,549 81.1,548.9 81.5,548.4 81.9,547.5 82.3,546.3 82.7,544.8 83.1,542.9 83.5,540.8 83.9,538.6 84.3,536.2 84.7,533.8 85.1,531.4 85.5,529 85.9,526.8 86.3,524.9 86.7,523.1 87.1,521.7 87.5,520.6 87.9,519.9 88.3,519.6 88.7,519.7 89.1,520.2 89.5,521.1 89.9,522.3 90.3,523.9 90.7,525.7 91.1,527.8 91.5,530 91.9,532.4 92.3,534.8 92.7,537.2 93.1,539.6 93.5,541.8 93.9,543.7 94.3,545.5 94.7,546.9 95.1,548 95.5,548.7 95.9,549 96.3,548.9 96.7,548.4 97.1,547.5 97.5,546.3 97.9,544.7 98.3,542.9 98.7,540.8 99.1,538.5 99.5,536.2 99.9,533.7 100.3,531.3 100.7,529 101.1,526.8 101.5,524.8 101.9,523.1 102.3,521.7 102.7,520.6 103.1,519.9 103.5,519.6 103.9,519.7 104.3,520.2 104.7,521.1 105.1,522.3 105.5,523.9 105.9,525.7 106.3,527.8 106.7,530.1 107.1,532.4 107.5,534.9 107.9,537.3 108.3,539.6 108.7,541.8 109.1,543.8 109.5,545.5 109.9,546.9 110.3,548 110.7,548.7 111.1,549 111.5,548.9 111.9,548.4 112.3,547.5 112.7,546.3 113.1,544.7 113.5,542.9 113.9,540.8 114.3,538.5 114.7,536.1 115.1,533.7 115.5,531.3 115.9,529 116.3,526.8 116.7,524.8 117.1,523.1 117.5,521.7 117.9,520.6 118.3,519.9 118.7,519.6 119.1,519.7 119.5,520.2 119.9,521.1 120.3,522.3 120.7,523.9 121.1,525.8 121.5,527.8 121.9,530.1 122.3,532.5 122.7,534.9 123.1,537.3 123.5,539.6 123.9,541.8 124.3,543.8 124.7,545.5 125.1,546.9 125.5,548 125.9,548.7 126.3,549 126.7,548.9 127.1,548.4 127.5,547.5 127.9,546.3 128.3,544.7 128.7,542.8 129.1,540.7 129.5,538.5 129.9,536.1 130.3,533.7 130.7,531.3 131.1,528.9 131.5,526.8 131.9,524.8 132.3,523.1 132.7,521.7 133.1,520.6 133.5,519.9 133.9,519.6 134.3,519.7 134.7,520.2 135.1,521.1 135.5,522.4 135.9,523.9 136.3,525.8 136.7,527.9 137.1,530.1 137.5,532.5 137.9,534.9 138.3,537.3 138.7,539.7 139.1,541.9 139.5,543.8 139.9,545.5 140.3,546.9 140.7,548 141.1,548.7 141.5,549 141.9,548.9 142.3,548.4 142.7,547.5 143.1,546.2 143.5,544.7 143.9,542.8 144.3,540.7 144.7,538.5 145.1,536.1 145.5,533.6 145.9,531.2 146.3,528.9 146.7,526.7 147.1,524.8 147.5,523 147.9,521.6 148.3,520.6 148.7,519.9 149.1,519.6 149.5,519.7 149.9,520.2 150.3,521.1 150.7,522.4 151.1,523.9 151.5,525.8 151.9,527.9 152.3,530.2 152.7,532.5 153.1,535 153.5,537.4 153.9,539.7 154.3,541.9 154.7,543.9 155.1,545.6 155.5,547 155.9,548 156.3,548.7 156.7,549 157.1,548.9 157.5,548.4 157.9,547.5 158.3,546.2 158.7,544.6 159.1,542.8 159.5,540.7 159.9,538.4 160.3,536 160.7,533.6 161.1,531.2 161.5,528.9 161.9,526.7 162.3,524.7 162.7,523 163.1,521.6 163.5,520.6 163.9,519.9 164.3,519.6 164.7,519.7 165.1,520.2 165.5,521.1 165.9,522.4 166.3,524 166.7,525.8 167.1,527.9 167.5,530.2 167.9,532.6 168.3,535 168.7,537.4 169.1,539.7 169.5,541.9 169.9,543.9 170.3,545.6 170.7,547 171.1,548 171.5,548.7 171.9,549 172.3,548.9 172.7,548.4 173.1,547.5 173.5,546.2 173.9,544.6 174.3,542.8 174.7,540.7 175.1,538.4 175.5,536 175.9,533.6 176.3,531.2 176.7,528.8 177.1,526.7 177.5,524.7 177.9,523 178.3,521.6 178.7,520.6 179.1,519.9 179.5,519.6 179.9,519.7 180.3,520.2 180.7,521.1 181.1,522.4 181.5,524 181.9,525.9 182.3,528 182.7,530.2 183.1,532.6 183.5,535 183.9,537.4 184.3,539.8 184.7,541.9 185.1,543.9 185.5,545.6 185.9,547 186.3,548 186.7,548.7 187.1,549 187.5,548.9 187.9,548.3 188.3,547.4 188.7,546.2 189.1,544.6 189.5,542.7 189.9,540.6 190.3,538.4 190.7,536 191.1,533.5 191.5,531.1 191.9,528.8 192.3,526.6 192.7,524.7 193.1,523 193.5,521.6 193.9,520.5 194.3,519.9 194.7,519.6 195.1,519.7 195.5,520.3 195.9,521.2 196.3,522.4 196.7,524 197.1,525.9 197.5,528 197.9,530.3 198.3,532.6 198.7,535.1 199.1,537.5 199.5,539.8 199.9,542 200.3,543.9 200.7,545.6 201.1,547 201.5,548.1 201.9,548.7 202.3,549 202.7,548.9 203.1,548.3 203.5,547.4 203.9,546.2 204.3,544.6 204.7,542.7 205.1,540.6 205.5,538.3 205.9,535.9 206.3,533.5 206.7,531.1 207.1,528.8 207.5,526.6 207.9,524.7 208.3,523 208.7,521.6 209.1,520.5 209.5,519.9 209.9,519.6 210.3,519.7 210.7,520.3 211.1,521.2 211.5,522.5 211.9,524 212.3,525.9 212.7,528 213.1,530.3 213.5,532.7 213.9,536 214.3,541.2 214.7,546.1 215.1,550.7 215.5,554.9 215.9,558.5 216.3,561.5 216.7,563.7 217.1,565.1 217.5,565.7 217.9,565.4 218.3,564.3 218.7,562.3 219.1,559.6 219.5,556.2 219.9,552.2 220.3,547.7 220.7,542.8 221.1,537.7 221.5,532.5 221.9,527.4 222.3,522.5 222.7,517.8 223.1,513.6 223.5,510 223.9,507.1 224.3,504.9 224.7,503.5 225.1,502.9 225.5,503.2 225.9,504.3 226.3,506.3 226.7,509 227.1,512.4 227.5,516.5 227.9,521 228.3,525.8 228.7,530.9 229.1,536.1 229.5,541.2 229.9,546.2 230.3,550.8 230.7,555 231.1,558.6 231.5,561.5 231.9,563.7 232.3,565.1 232.7,565.7 233.1,565.4 233.5,564.2 233.9,562.3 234.3,559.5 234.7,556.1 235.1,552.1 235.5,547.6 235.9,542.7 236.3,537.7 236.7,532.5 237.1,527.3 237.5,522.4 237.9,517.8 238.3,513.6 238.7,510 239.1,507 239.5,504.9 239.9,503.5 240.3,502.9 240.7,503.2 241.1,504.4 241.5,506.3 241.9,509.1 242.3,512.5 242.7,516.5 243.1,521 243.5,525.9 243.9,531 244.3,536.2 244.7,541.3 245.1,546.2 245.5,550.9 245.9,555 246.3,558.6 246.7,561.6 247.1,563.8 247.5,565.1 247.9,565.7 248.3,565.4 248.7,564.2 249.1,562.2 249.5,559.5 249.9,556.1 250.3,552.1 250.7,547.5 251.1,542.7 251.5,537.6 251.9,532.4 252.3,527.3 252.7,522.3 253.1,517.7 253.5,513.5 253.9,509.9 254.3,507 254.7,504.8 255.1,503.4 255.5,502.9 255.9,503.2 256.3,504.4 256.7,506.4 257.1,509.1 257.5,512.5 257.9,516.6 258.3,521.1 258.7,526 259.1,531.1 259.5,536.2 259.9,541.4 260.3,546.3 260.7,550.9 261.1,555.1 261.5,558.7 261.9,561.6 262.3,563.8 262.7,565.2 263.1,565.7 263.5,565.4 263.9,564.2 264.3,562.2 264.7,559.5 265.1,556 265.5,552 265.9,547.5 266.3,542.6 266.7,537.5 267.1,532.3 267.5,527.2 267.9,522.3 268.3,517.6 268.7,513.5 269.1,509.9 269.5,507 269.9,504.8 270.3,503.4 270.7,502.9 271.1,503.2 271.5,504.4 271.9,506.4 272.3,509.2 272.7,512.6 273.1,516.6 273.5,521.2 273.9,526 274.3,531.1 274.7,536.3 275.1,541.4 275.5,546.4 275.9,551 276.3,555.1 276.7,558.7 277.1,561.6 277.5,563.8 277.9,565.2 278.3,565.7 278.7,565.4 279.1,564.2 279.5,562.2 279.9,559.4 280.3,556 280.7,551.9 281.1,547.4 281.5,542.5 281.9,537.4 282.3,532.3 282.7,527.1 283.1,522.2 283.5,517.6 283.9,513.4 284.3,509.9 284.7,506.9 285.1,504.8 285.5,503.4 285.9,502.9 286.3,503.2 286.7,504.4 287.1,506.4 287.5,509.2 287.9,512.7 288.3,516.7 288.7,521.2 289.1,526.1 289.5,531.2 289.9,536.4 290.3,541.5 290.7,546.4 291.1,551 291.5,555.2 291.9,558.8 292.3,561.7 292.7,563.8 293.1,565.2 293.5,565.7 293.9,565.3 294.3,564.2 294.7,562.1 295.1,559.4 295.5,555.9 295.9,551.9 296.3,547.4 296.7,542.5 297.1,537.4 297.5,532.2 297.9,527.1 298.3,522.1 298.7,517.5 299.1,513.4 299.5,509.8 299.9,506.9 300.3,504.8 300.7,503.4 301.1,502.9 301.5,503.3 301.9,504.5 302.3,506.5 302.7,509.2 303.1,512.7 303.5,516.8 303.9,521.3 304.3,526.2 304.7,531.3 305.1,536.5 305.5,541.6 305.9,546.5 306.3,551.1 306.7,555.2 307.1,558.8 307.5,561.7 307.9,563.9 308.3,565.2 308.7,565.7 309.1,565.3 309.5,564.1 309.9,562.1 310.3,559.3 310.7,555.9 311.1,551.8 311.5,547.3 311.9,542.4 312.3,537.3 312.7,532.1 313.1,527 313.5,522.1 313.9,517.5 314.3,513.3 314.7,509.8 315.1,506.9 315.5,504.7 315.9,503.4 316.3,502.9 316.7,503.3 317.1,504.5 317.5,506.5 317.9,509.3 318.3,512.8 318.7,516.8 319.1,521.3 319.5,526.2 319.9,531.3 320.3,536.5 320.7,541.7 321.1,546.6 321.5,551.2 321.9,555.3 322.3,558.9 322.7,561.7 323.1,563.9 323.5,565.2 323.9,565.7 324.3,565.3 324.7,564.1 325.1,562.1 325.5,559.3 325.9,555.8 326.3,551.8 326.7,547.2 327.1,542.3 327.5,537.2 327.9,532 328.3,526.9 328.7,522 329.1,517.4 329.5,513.3 329.9,509.7 330.3,506.8 330.7,504.7 331.1,503.4 331.5,502.9 331.9,503.3 332.3,504.5 332.7,506.5 333.1,509.3 333.5,512.8 333.9,516.9 334.3,521.4 334.7,526.3 335.1,531.4 335.5,536.6 335.9,541.7 336.3,546.6 336.7,551.2 337.1,555.4 337.5,558.9 337.9,561.8 338.3,563.9 338.7,565.2 339.1,565.7 339.5,565.3 339.9,564.1 340.3,562 340.7,559.2 341.1,555.8 341.5,551.7 341.9,547.2 342.3,542.3 342.7,537.2 343.1,532 343.5,526.8 343.9,521.9 344.3,517.3 344.7,513.2 345.1,509.7 345.5,506.8 345.9,504.7 346.3,503.4 346.7,502.9 347.1,503.3 347.5,504.5 347.9,506.6 348.3,509.4 348.7,512.9 349.1,516.9 349.5,521.5 349.9,526.4 350.3,531.5 350.7,536.7 351.1,541.8 351.5,546.7 351.9,551.3 352.3,555.4 352.7,558.9 353.1,561.8 353.5,563.9 353.9,565.2 354.3,565.7 354.7,565.3 355.1,564.1 355.5,562 355.9,559.2 356.3,555.7 356.7,551.6 357.1,547.1 357.5,542.2 357.9,537.1 358.3,531.9 358.7,526.8 359.1,521.9 359.5,517.3 359.9,513.2 360.3,509.6 360.7,506.8 361.1,504.7 361.5,503.4 361.9,502.9 362.3,503.3 362.7,504.5 363.1,506.6 363.5,509.4 363.9,512.9 364.3,517 364.7,521.5 365.1,526.4 365.5,531.6 365.9,536.7 366.3,541.9 366.7,546.8 367.1,551.4 367.5,555.5 367.9,559 368.3,561.8 368.7,564 369.1,565.2 369.5,565.7 369.9,565.3 370.3,564 370.7,562 371.1,559.2 371.5,555.7 371.9,551.6 372.3,547 372.7,542.1 373.1,537 373.5,531.8 373.9,526.7 374.3,521.8 374.7,517.2 375.1,513.1 375.5,509.6 375.9,506.7 376.3,504.6 376.7,503.3 377.1,502.9 377.5,503.3 377.9,504.6 378.3,506.6 378.7,509.5 379.1,513 379.5,517.1 379.9,521.6 380.3,526.5 380.7,531.6 381.1,536.8 381.5,541.9 381.9,546.8 382.3,551.4 382.7,555.5 383.1,559 383.5,561.9 383.9,564 384.3,565.3 384.7,565.7 385.1,565.3 385.5,564 385.9,561.9 386.3,559.1 386.7,555.6 387.1,551.5 387.5,547 387.9,542.1 388.3,536.9 388.7,531.7 389.1,526.6 389.5,521.7 389.9,517.2 390.3,513.1 390.7,509.5 391.1,506.7 391.5,504.6 391.9,503.3 392.3,502.9 392.7,503.3 393.1,504.6 393.5,506.7 393.9,509.5 394.3,513 394.7,517.1 395.1,521.7 395.5,526.6 395.9,531.7 396.3,535.5 396.7,537.9 397.1,540.2 397.5,542.3 397.9,544.3 398.3,545.9 398.7,547.2 399.1,548.2 399.5,548.8 399.9,549 400.3,548.8 400.7,548.2 401.1,547.2 401.5,545.9 401.9,544.2 402.3,542.3 402.7,540.2 403.1,537.9 403.5,535.5 403.9,533.1 404.3,530.7 404.7,528.4 405.1,526.2 405.5,524.3 405.9,522.7 406.3,521.4 406.7,520.4 407.1,519.8 407.5,519.6 407.9,519.8 408.3,520.4 408.7,521.4 409.1,522.7 409.5,524.4 409.9,526.3 410.3,528.4 410.7,530.7 411.1,533.1 411.5,535.5 411.9,537.9 412.3,540.2 412.7,542.4 413.1,544.3 413.5,545.9 413.9,547.2 414.3,548.2 414.7,548.8 415.1,549 415.5,548.8 415.9,548.2 416.3,547.2 416.7,545.9 417.1,544.2 417.5,542.3 417.9,540.2 418.3,537.9 418.7,535.5 419.1,533 419.5,530.6 419.9,528.3 420.3,526.2 420.7,524.3 421.1,522.7 421.5,521.3 421.9,520.4 422.3,519.8 422.7,519.6 423.1,519.8 423.5,520.4 423.9,521.4 424.3,522.7 424.7,524.4 425.1,526.3 425.5,528.5 425.9,530.8 426.3,533.2 426.7,535.6 427.1,538 427.5,540.3 427.9,542.4 428.3,544.3 428.7,545.9 429.1,547.3 429.5,548.2 429.9,548.8 430.3,549 430.7,548.8 431.1,548.2 431.5,547.2 431.9,545.9 432.3,544.2 432.7,542.3 433.1,540.1 433.5,537.8 433.9,535.4 434.3,533 434.7,530.6 435.1,528.3 435.5,526.2 435.9,524.3 436.3,522.6 436.7,521.3 437.1,520.4 437.5,519.8 437.9,519.6 438.3,519.8 438.7,520.4 439.1,521.4 439.5,522.8 439.9,524.4 440.3,526.3 440.7,528.5 441.1,530.8 441.5,533.2 441.9,535.6 442.3,538 442.7,540.3 443.1,542.4 443.5,544.3 443.9,546 444.3,547.3 444.7,548.2 445.1,548.8 445.5,549 445.9,548.8 446.3,548.2 446.7,547.2 447.1,545.8 447.5,544.2 447.9,542.2 448.3,540.1 448.7,537.8 449.1,535.4 449.5,533 449.9,530.6 450.3,528.3 450.7,526.2 451.1,524.3 451.5,522.6 451.9,521.3 452.3,520.4 452.7,519.8 453.1,519.6 453.5,519.8 453.9,520.4 454.3,521.4 454.7,522.8 455.1,524.4 455.5,526.4 455.9,528.5 456.3,530.8 456.7,533.2 457.1,535.6 457.5,538 457.9,540.3 458.3,542.5 458.7,544.4 459.1,546 459.5,547.3 459.9,548.2 460.3,548.8 460.7,549 461.1,548.8 461.5,548.2 461.9,547.2 462.3,545.8 462.7,544.1 463.1,542.2 463.5,540.1 463.9,537.8 464.3,535.4 464.7,532.9 465.1,530.5 465.5,528.3 465.9,526.1 466.3,524.2 466.7,522.6 467.1,521.3 467.5,520.3 467.9,519.8 468.3,519.6 468.7,519.8 469.1,520.4 469.5,521.4 469.9,522.8 470.3,524.5 470.7,526.4 471.1,528.5 471.5,530.9 471.9,533.3 472.3,535.7 472.7,538.1 473.1,540.4 473.5,542.5 473.9,544.4 474.3,546 474.7,547.3 475.1,548.3 475.5,548.8 475.9,549 476.3,548.8 476.7,548.1 477.1,547.1 477.5,545.8 477.9,544.1 478.3,542.2 478.7,540 479.1,537.7 479.5,535.3 479.9,532.9 480.3,530.5 480.7,528.2 481.1,526.1 481.5,524.2 481.9,522.6 482.3,521.3 482.7,520.3 483.1,519.8 483.5,519.6 483.9,519.8 484.3,520.5 484.7,521.5 485.1,522.8 485.5,524.5 485.9,526.4 486.3,528.6 486.7,530.9 487.1,533.3 487.5,535.7 487.9,538.1 488.3,540.4 488.7,542.5 489.1,544.4 489.5,546 489.9,547.3 490.3,548.3 490.7,548.8 491.1,549 491.5,548.8 491.9,548.1 492.3,547.1 492.7,545.8 493.1,544.1 493.5,542.2 493.9,540 494.3,537.7 494.7,535.3 495.1,532.9 495.5,530.5 495.9,528.2 496.3,526.1 496.7,524.2 497.1,522.6 497.5,521.3 497.9,520.3 498.3,519.8 498.7,519.6 499.1,519.8 499.5,520.5 499.9,521.5 500.3,522.8 500.7,524.5 501.1,526.5 501.5,528.6 501.9,530.9 502.3,533.3 502.7,535.7 503.1,538.1 503.5,540.4 503.9,542.5 504.3,544.4 504.7,546 505.1,547.3 505.5,548.3 505.9,548.8 506.3,549 506.7,548.8 507.1,548.1 507.5,547.1 507.9,545.7 508.3,544.1 508.7,542.1 509.1,540 509.5,537.7 509.9,535.3 510.3,532.8 510.7,530.4 511.1,528.2 511.5,526 511.9,524.2 512.3,522.5 512.7,521.3 513.1,520.3 513.5,519.8 513.9,519.6 514.3,519.8 514.7,520.5 515.1,521.5 515.5,522.9 515.9,524.5 516.3,526.5 516.7,528.6 517.1,530.9 517.5,533.4 517.9,535.8 518.3,538.2 518.7,540.5 519.1,542.6 519.5,544.5 519.9,546.1 520.3,547.4 520.7,548.3 521.1,548.8 521.5,549 521.9,548.8 522.3,548.1 522.7,547.1 523.1,545.7 523.5,544 523.9,542.1 524.3,539.9 524.7,537.6 525.1,535.2 525.5,532.8 525.9,530.4 526.3,528.1 526.7,526 527.1,524.1 527.5,522.5 527.9,521.2 528.3,520.3 528.7,519.8 529.1,519.6 529.5,519.9 529.9,520.5 530.3,521.5 530.7,522.9 531.1,524.6 531.5,526.5 531.9,528.7 532.3,531 532.7,533.4 533.1,535.8 533.5,538.2 533.9,540.5 534.3,542.6 534.7,544.5 535.1,546.1 535.5,547.4 535.9,548.3 536.3,548.8 536.7,549 537.1,548.7 537.5,548.1 537.9,547.1 538.3,545.7 538.7,544 539.1,542.1 539.5,539.9 539.9,537.6 540.3,535.2 540.7,532.8 541.1,530.4 541.5,528.1 541.9,526 542.3,524.1 542.7,522.5 543.1,521.2 543.5,520.3 543.9,519.8 544.3,519.6 544.7,519.9 545.1,520.5 545.5,521.5 545.9,522.9 546.3,524.6 546.7,526.5 547.1,528.7 547.5,531 547.9,533.4 548.3,535.8 548.7,538.2 549.1,540.5 549.5,542.6 549.9,544.5 550.3,546.1 550.7,547.4 551.1,548.3 551.5,548.9 551.9,549 552.3,548.7 552.7,548.1 553.1,547.1 553.5,545.7 553.9,544 554.3,542 554.7,539.9 555.1,537.6 555.5,535.2 555.9,532.7 556.3,530.4 556.7,528.1 557.1,526 557.5,524.1 557.9,522.5 558.3,521.2 558.7,520.3 559.1,519.7 559.5,519.6 559.9,519.9 560.3,520.5 560.7,521.5 561.1,522.9 561.5,524.6 561.9,526.6 562.3,528.7 562.7,531 563.1,533.5 563.5,535.9 563.9,538.3 564.3,540.5 564.7,542.6 565.1,544.5 565.5,546.1 565.9,547.4 566.3,548.3 566.7,548.9 567.1,549 567.5,548.7 567.9,548.1 568.3,547 568.7,545.7 569.1,544 569.5,542 569.9,539.9 570.3,537.5 570.7,535.1 571.1,532.7 571.5,530.3 571.9,528 572.3,525.9 572.7,524.1 573.1,522.5 573.5,521.2 573.9,520.3 574.3,519.7 574.7,519.6 575.1,519.9 575.5,520.5 575.9,521.6 576.3,522.9 576.7,524.6 577.1,526.6 577.5,528.8 577.9,531.1 578.3,533.5" stroke="#00ff00" stroke-width="1.6" fill="none"/>
</g>
<rect x="31.5" y="41.4" width="547" height="105.1" fill="none" stroke="#2e2e2e" stroke-width="1.3"/>
<rect x="31.5" y="151.4" width="547" height="105.1" fill="none" stroke="#2e2e2e" stroke-width="1.3"/>
<rect x="31.5" y="261.4" width="547" height="105.1" fill="none" stroke="#2e2e2e" stroke-width="1.3"/>
<rect x="31.5" y="371.4" width="547" height="105.1" fill="none" stroke="#2e2e2e" stroke-width="1.3"/>
<rect x="31.5" y="481.4" width="547" height="105.1" fill="none" stroke="#2e2e2e" stroke-width="1.3"/>
<line x1="214.05" y1="34.2" x2="214.05" y2="594" stroke="#111" stroke-width="1.6" stroke-dasharray="1.95 0.9766"/>
<line x1="396.45" y1="34.2" x2="396.45" y2="594" stroke="#111" stroke-width="1.6" stroke-dasharray="1.95 0.9766"/>
<line x1="34.5" y1="31.3" x2="210.8" y2="31.3" stroke="#000" stroke-width="1.3"/><path d="M31.5 31.3l5.6 -2.7l-1.4 2.7l1.4 2.7Z" fill="#000"/><path d="M213.8 31.3l-5.6 -2.7l1.4 2.7l-1.4 2.7Z" fill="#000"/>
<line x1="216.8" y1="31.3" x2="393.2" y2="31.3" stroke="#000" stroke-width="1.3"/><path d="M213.8 31.3l5.6 -2.7l-1.4 2.7l1.4 2.7Z" fill="#000"/><path d="M396.2 31.3l-5.6 -2.7l1.4 2.7l-1.4 2.7Z" fill="#000"/>
<line x1="399.2" y1="31.3" x2="575.5" y2="31.3" stroke="#000" stroke-width="1.3"/><path d="M396.2 31.3l5.6 -2.7l-1.4 2.7l1.4 2.7Z" fill="#000"/><path d="M578.5 31.3l-5.6 -2.7l1.4 2.7l-1.4 2.7Z" fill="#000"/>
<line x1="499.5" y1="123.2" x2="499.5" y2="143.5" stroke="#000" stroke-width="1.3"/><path d="M499.5 120.2l-2.7 5.6l2.7 -1.4l2.7 1.4Z" fill="#000"/><path d="M499.5 146.5l-2.7 -5.6l2.7 1.4l2.7 -1.4Z" fill="#000"/>
<line x1="484.1" y1="233.2" x2="484.1" y2="253.5" stroke="#000" stroke-width="1.3"/><path d="M484.1 230.2l-2.7 5.6l2.7 -1.4l2.7 1.4Z" fill="#000"/><path d="M484.1 256.5l-2.7 -5.6l2.7 1.4l2.7 -1.4Z" fill="#000"/>
<line x1="500.4" y1="343.2" x2="500.4" y2="363.5" stroke="#000" stroke-width="1.3"/><path d="M500.4 340.2l-2.7 5.6l2.7 -1.4l2.7 1.4Z" fill="#000"/><path d="M500.4 366.5l-2.7 -5.6l2.7 1.4l2.7 -1.4Z" fill="#000"/>
<line x1="500.6" y1="453.2" x2="500.6" y2="473.5" stroke="#000" stroke-width="1.3"/><path d="M500.6 450.2l-2.7 5.6l2.7 -1.4l2.7 1.4Z" fill="#000"/><path d="M500.6 476.5l-2.7 -5.6l2.7 1.4l2.7 -1.4Z" fill="#000"/>
<line x1="484.1" y1="563.2" x2="484.1" y2="583.5" stroke="#000" stroke-width="1.3"/><path d="M484.1 560.2l-2.7 5.6l2.7 -1.4l2.7 1.4Z" fill="#000"/><path d="M484.1 586.5l-2.7 -5.6l2.7 1.4l2.7 -1.4Z" fill="#000"/>
<line x1="125.7" y1="560.8" x2="210.8" y2="560.8" stroke="#000" stroke-width="1.3"/><path d="M122.7 560.8l5.6 -2.7l-1.4 2.7l1.4 2.7Z" fill="#000"/><path d="M213.8 560.8l-5.6 -2.7l1.4 2.7l-1.4 2.7Z" fill="#000"/>
<line x1="211.4" y1="278.4" x2="217.9" y2="284.6" stroke="#000" stroke-width="1.3"/><path d="M220.8 287.4L215.5 285.7L218.8 282.2Z" fill="#000"/>
<line x1="212.3" y1="349.6" x2="219.3" y2="342.9" stroke="#000" stroke-width="1.3"/><path d="M222.2 340.1L220.3 345.3L216.9 341.8Z" fill="#000"/>
<g font-size="24.2" fill="#000">
<text x="61.2" y="24.7" class="it">P</text><text x="76.4" y="28" class="it" font-size="16.5">o</text><text x="92" y="24.7">= 0.5 p.u.</text>
<text x="252.3" y="24.7" class="it">P</text><text x="267.2" y="28" class="it" font-size="16.5">o</text><text x="282" y="24.7">= 1 p.u.</text>
<text x="425" y="24.7" class="it">P</text><text x="440" y="28" class="it" font-size="16.5">o</text><text x="456" y="24.7">= 0.5 p.u.</text>
</g>
<g font-size="20" fill="#000">
<text x="4.6" y="100.7">(a)</text>
<text x="4.6" y="210.7">(b)</text>
<text x="4.6" y="320.7">(c)</text>
<text x="4.6" y="430.7">(d)</text>
<text x="4.6" y="540.7">(e)</text>
</g>
<g fill="#000">
<path d="M583.8 95l13.8 -6.8v13.6Z"/>
<path d="M583.8 205l13.8 -6.8v13.6Z"/>
<path d="M583.8 315l13.8 -6.8v13.6Z"/>
<path d="M583.8 398.7l13.8 -6.8v13.6Z"/>
<path d="M583.8 535l13.8 -6.8v13.6Z"/>
</g>
<g font-size="19.8" fill="#000">
<text x="606" y="101.3">0 V</text>
<text x="606" y="211.3">0 V</text>
<text x="606" y="321.3">3.5 kV</text>
<text x="605.1" y="405.5">1.2 kV</text>
<text x="606" y="541.3">0 A</text>
<text x="575" y="139.7" text-anchor="end" font-size="20.1">5 kV/div</text>
<text x="575" y="249.5" text-anchor="end" font-size="20.3">7.5 kV/div</text>
<text x="575" y="359.7" text-anchor="end" font-size="20.3">50 V/div</text>
<text x="574.8" y="469" text-anchor="end" font-size="20.3">40 V/div</text>
<text x="575" y="579" text-anchor="end" font-size="20.3">300 A/div</text>
<text x="134" y="578.8">0.1 s/div</text>
</g>
<g class="it">
<text x="73" y="68.8" font-size="25" fill="#ff00ff">v</text><text x="85" y="73.8" font-size="18" fill="#ff00ff">ao</text>
<text x="73" y="169.3" font-size="25" fill="#8f00ff">v</text><text x="86" y="173.6" font-size="18" fill="#8f00ff">ab</text>
<text x="179" y="280.7" font-size="25" fill="#c00000">V</text><text x="191.5" y="285.6" font-size="18" fill="#c00000">C1</text>
<text x="179" y="359.5" font-size="25" fill="#0000b4">V</text><text x="192" y="364" font-size="18" fill="#0000b4">C2</text>
<text x="53.5" y="390.5" font-size="25" fill="#000" textLength="14.5" lengthAdjust="spacingAndGlyphs">V</text>
<text y="394.7" font-size="17"><tspan x="65.5" fill="#000">f</tspan><tspan x="75" fill="#ff0000">a</tspan><tspan x="86" fill="#0000ff">b</tspan><tspan x="96" fill="#00dd00">c</tspan></text>
<text x="61.3" y="500.7" font-size="24" font-weight="bold" fill="#000">i</text>
<text y="505.6" font-size="17"><tspan x="68.5" fill="#ff0000">a</tspan><tspan x="79.5" fill="#0000ff">b</tspan><tspan x="89.5" fill="#00dd00">c</tspan></text>
</g>

</svg>
</body></html>
